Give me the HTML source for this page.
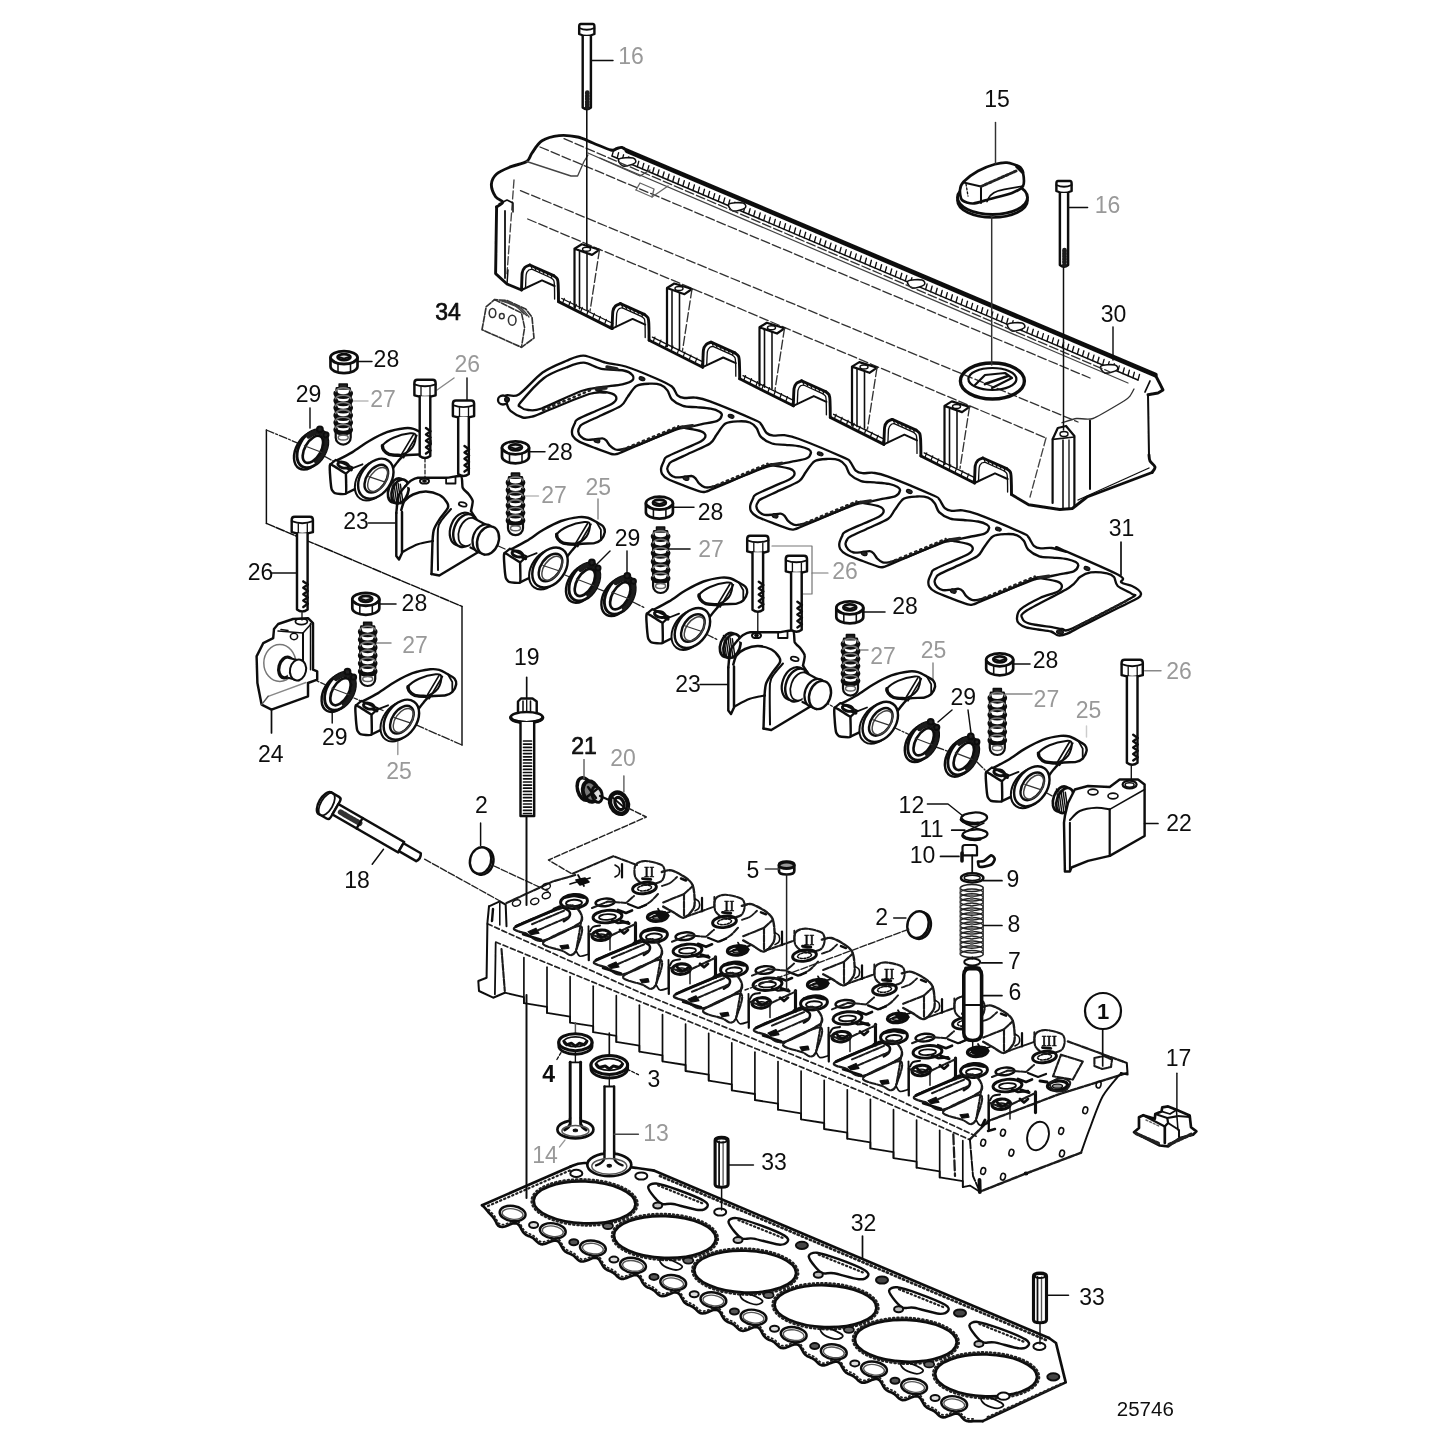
<!DOCTYPE html>
<html><head><meta charset="utf-8"><title>Cylinder head</title>
<style>html,body{margin:0;padding:0;background:#fff}svg{display:block}text{font-family:"Liberation Sans",sans-serif}</style></head>
<body>
<svg width="1445" height="1445" viewBox="0 0 1445 1445" stroke-linecap="round" stroke-linejoin="round">
<defs><filter id="bl" x="-2%" y="-2%" width="104%" height="104%"><feGaussianBlur stdDeviation="0.45"/></filter></defs><rect width="1445" height="1445" fill="#fff"/>
<g filter="url(#bl)">
<path d="M628.6 151.7 C627.5 151 623.9 148 622 147.5 C620.1 147 618.9 148.1 617 148.5 C615.1 148.9 614.9 150.9 610.9 150 C606.9 149.1 598.5 145.2 593 143 C587.5 140.8 583.3 138.2 577.6 137 C571.9 135.8 564.9 135 559 135.6 C553.1 136.2 546.5 137.9 542 140.8 C537.5 143.7 534.5 149.6 532 153 C529.5 156.4 530.2 159.2 526.7 161.5 C523.2 163.8 516 164.6 511 166.7 C506 168.8 499.9 171.1 496.6 174 C493.3 176.9 491.6 180.6 491.4 184.4 C491.2 188.2 493.7 193.9 495.6 196.8 C497.5 199.7 502.6 200.3 502.8 202 C503 203.7 497.6 206.2 496.6 207" fill="none" stroke="#111" stroke-width="2.91"/>
<path d="M496.6 207 L495.6 273.6 L507 284 L521.5 290" fill="none" stroke="#111" stroke-width="2.91"/>
<path d="M627 150.8 L1155.3 375" fill="none" stroke="#111" stroke-width="4.7"/>
<path d="M1155.3 375 L1160 384 L1163 390 L1158 393 L1148 394.7" fill="none" stroke="#111" stroke-width="2.91"/>
<path d="M1150 381 L1145 392" fill="none" stroke="#111" stroke-width="1.79"/>
<path d="M612 156 L1138 380" fill="none" stroke="#111" stroke-width="1.46"/>
<path d="M612 156 L613.5 150.5" fill="none" stroke="#111" stroke-width="1.34"/>
<path d="M617.1 158.2 L618.6 152.7" fill="none" stroke="#111" stroke-width="1.34"/>
<path d="M622.1 160.3 L623.6 154.8" fill="none" stroke="#111" stroke-width="1.34"/>
<path d="M627.2 162.5 L628.7 157" fill="none" stroke="#111" stroke-width="1.34"/>
<path d="M632.2 164.6 L633.7 159.1" fill="none" stroke="#111" stroke-width="1.34"/>
<path d="M637.3 166.8 L638.8 161.3" fill="none" stroke="#111" stroke-width="1.34"/>
<path d="M642.3 168.9 L643.8 163.4" fill="none" stroke="#111" stroke-width="1.34"/>
<path d="M647.4 171.1 L648.9 165.6" fill="none" stroke="#111" stroke-width="1.34"/>
<path d="M652.5 173.2 L654 167.7" fill="none" stroke="#111" stroke-width="1.34"/>
<path d="M657.5 175.4 L659 169.9" fill="none" stroke="#111" stroke-width="1.34"/>
<path d="M662.6 177.5 L664.1 172" fill="none" stroke="#111" stroke-width="1.34"/>
<path d="M667.6 179.7 L669.1 174.2" fill="none" stroke="#111" stroke-width="1.34"/>
<path d="M672.7 181.8 L674.2 176.3" fill="none" stroke="#111" stroke-width="1.34"/>
<path d="M677.8 184 L679.2 178.5" fill="none" stroke="#111" stroke-width="1.34"/>
<path d="M682.8 186.2 L684.3 180.7" fill="none" stroke="#111" stroke-width="1.34"/>
<path d="M687.9 188.3 L689.4 182.8" fill="none" stroke="#111" stroke-width="1.34"/>
<path d="M692.9 190.5 L694.4 185" fill="none" stroke="#111" stroke-width="1.34"/>
<path d="M698 192.6 L699.5 187.1" fill="none" stroke="#111" stroke-width="1.34"/>
<path d="M703 194.8 L704.5 189.3" fill="none" stroke="#111" stroke-width="1.34"/>
<path d="M708.1 196.9 L709.6 191.4" fill="none" stroke="#111" stroke-width="1.34"/>
<path d="M713.2 199.1 L714.7 193.6" fill="none" stroke="#111" stroke-width="1.34"/>
<path d="M718.2 201.2 L719.7 195.7" fill="none" stroke="#111" stroke-width="1.34"/>
<path d="M723.3 203.4 L724.8 197.9" fill="none" stroke="#111" stroke-width="1.34"/>
<path d="M728.3 205.5 L729.8 200" fill="none" stroke="#111" stroke-width="1.34"/>
<path d="M733.4 207.7 L734.9 202.2" fill="none" stroke="#111" stroke-width="1.34"/>
<path d="M738.4 209.8 L739.9 204.3" fill="none" stroke="#111" stroke-width="1.34"/>
<path d="M743.5 212 L745 206.5" fill="none" stroke="#111" stroke-width="1.34"/>
<path d="M748.6 214.2 L750.1 208.7" fill="none" stroke="#111" stroke-width="1.34"/>
<path d="M753.6 216.3 L755.1 210.8" fill="none" stroke="#111" stroke-width="1.34"/>
<path d="M758.7 218.5 L760.2 213" fill="none" stroke="#111" stroke-width="1.34"/>
<path d="M763.7 220.6 L765.2 215.1" fill="none" stroke="#111" stroke-width="1.34"/>
<path d="M768.8 222.8 L770.3 217.3" fill="none" stroke="#111" stroke-width="1.34"/>
<path d="M773.8 224.9 L775.3 219.4" fill="none" stroke="#111" stroke-width="1.34"/>
<path d="M778.9 227.1 L780.4 221.6" fill="none" stroke="#111" stroke-width="1.34"/>
<path d="M784 229.2 L785.5 223.7" fill="none" stroke="#111" stroke-width="1.34"/>
<path d="M789 231.4 L790.5 225.9" fill="none" stroke="#111" stroke-width="1.34"/>
<path d="M794.1 233.5 L795.6 228" fill="none" stroke="#111" stroke-width="1.34"/>
<path d="M799.1 235.7 L800.6 230.2" fill="none" stroke="#111" stroke-width="1.34"/>
<path d="M804.2 237.8 L805.7 232.3" fill="none" stroke="#111" stroke-width="1.34"/>
<path d="M809.2 240 L810.8 234.5" fill="none" stroke="#111" stroke-width="1.34"/>
<path d="M814.3 242.2 L815.8 236.7" fill="none" stroke="#111" stroke-width="1.34"/>
<path d="M819.4 244.3 L820.9 238.8" fill="none" stroke="#111" stroke-width="1.34"/>
<path d="M824.4 246.5 L825.9 241" fill="none" stroke="#111" stroke-width="1.34"/>
<path d="M829.5 248.6 L831 243.1" fill="none" stroke="#111" stroke-width="1.34"/>
<path d="M834.5 250.8 L836 245.3" fill="none" stroke="#111" stroke-width="1.34"/>
<path d="M839.6 252.9 L841.1 247.4" fill="none" stroke="#111" stroke-width="1.34"/>
<path d="M844.7 255.1 L846.2 249.6" fill="none" stroke="#111" stroke-width="1.34"/>
<path d="M849.7 257.2 L851.2 251.7" fill="none" stroke="#111" stroke-width="1.34"/>
<path d="M854.8 259.4 L856.3 253.9" fill="none" stroke="#111" stroke-width="1.34"/>
<path d="M859.8 261.5 L861.3 256" fill="none" stroke="#111" stroke-width="1.34"/>
<path d="M864.9 263.7 L866.4 258.2" fill="none" stroke="#111" stroke-width="1.34"/>
<path d="M869.9 265.8 L871.4 260.3" fill="none" stroke="#111" stroke-width="1.34"/>
<path d="M875 268 L876.5 262.5" fill="none" stroke="#111" stroke-width="1.34"/>
<path d="M880.1 270.2 L881.6 264.7" fill="none" stroke="#111" stroke-width="1.34"/>
<path d="M885.1 272.3 L886.6 266.8" fill="none" stroke="#111" stroke-width="1.34"/>
<path d="M890.2 274.5 L891.7 269" fill="none" stroke="#111" stroke-width="1.34"/>
<path d="M895.2 276.6 L896.7 271.1" fill="none" stroke="#111" stroke-width="1.34"/>
<path d="M900.3 278.8 L901.8 273.3" fill="none" stroke="#111" stroke-width="1.34"/>
<path d="M905.3 280.9 L906.8 275.4" fill="none" stroke="#111" stroke-width="1.34"/>
<path d="M910.4 283.1 L911.9 277.6" fill="none" stroke="#111" stroke-width="1.34"/>
<path d="M915.5 285.2 L917 279.7" fill="none" stroke="#111" stroke-width="1.34"/>
<path d="M920.5 287.4 L922 281.9" fill="none" stroke="#111" stroke-width="1.34"/>
<path d="M925.6 289.5 L927.1 284" fill="none" stroke="#111" stroke-width="1.34"/>
<path d="M930.6 291.7 L932.1 286.2" fill="none" stroke="#111" stroke-width="1.34"/>
<path d="M935.7 293.8 L937.2 288.3" fill="none" stroke="#111" stroke-width="1.34"/>
<path d="M940.8 296 L942.2 290.5" fill="none" stroke="#111" stroke-width="1.34"/>
<path d="M945.8 298.2 L947.3 292.7" fill="none" stroke="#111" stroke-width="1.34"/>
<path d="M950.9 300.3 L952.4 294.8" fill="none" stroke="#111" stroke-width="1.34"/>
<path d="M955.9 302.5 L957.4 297" fill="none" stroke="#111" stroke-width="1.34"/>
<path d="M961 304.6 L962.5 299.1" fill="none" stroke="#111" stroke-width="1.34"/>
<path d="M966 306.8 L967.5 301.3" fill="none" stroke="#111" stroke-width="1.34"/>
<path d="M971.1 308.9 L972.6 303.4" fill="none" stroke="#111" stroke-width="1.34"/>
<path d="M976.2 311.1 L977.7 305.6" fill="none" stroke="#111" stroke-width="1.34"/>
<path d="M981.2 313.2 L982.7 307.7" fill="none" stroke="#111" stroke-width="1.34"/>
<path d="M986.3 315.4 L987.8 309.9" fill="none" stroke="#111" stroke-width="1.34"/>
<path d="M991.3 317.5 L992.8 312" fill="none" stroke="#111" stroke-width="1.34"/>
<path d="M996.4 319.7 L997.9 314.2" fill="none" stroke="#111" stroke-width="1.34"/>
<path d="M1001.4 321.8 L1002.9 316.3" fill="none" stroke="#111" stroke-width="1.34"/>
<path d="M1006.5 324 L1008 318.5" fill="none" stroke="#111" stroke-width="1.34"/>
<path d="M1011.6 326.2 L1013.1 320.7" fill="none" stroke="#111" stroke-width="1.34"/>
<path d="M1016.6 328.3 L1018.1 322.8" fill="none" stroke="#111" stroke-width="1.34"/>
<path d="M1021.7 330.5 L1023.2 325" fill="none" stroke="#111" stroke-width="1.34"/>
<path d="M1026.7 332.6 L1028.2 327.1" fill="none" stroke="#111" stroke-width="1.34"/>
<path d="M1031.8 334.8 L1033.3 329.3" fill="none" stroke="#111" stroke-width="1.34"/>
<path d="M1036.8 336.9 L1038.3 331.4" fill="none" stroke="#111" stroke-width="1.34"/>
<path d="M1041.9 339.1 L1043.4 333.6" fill="none" stroke="#111" stroke-width="1.34"/>
<path d="M1047 341.2 L1048.5 335.7" fill="none" stroke="#111" stroke-width="1.34"/>
<path d="M1052 343.4 L1053.5 337.9" fill="none" stroke="#111" stroke-width="1.34"/>
<path d="M1057.1 345.5 L1058.6 340" fill="none" stroke="#111" stroke-width="1.34"/>
<path d="M1062.1 347.7 L1063.6 342.2" fill="none" stroke="#111" stroke-width="1.34"/>
<path d="M1067.2 349.8 L1068.7 344.3" fill="none" stroke="#111" stroke-width="1.34"/>
<path d="M1072.2 352 L1073.8 346.5" fill="none" stroke="#111" stroke-width="1.34"/>
<path d="M1077.3 354.2 L1078.8 348.7" fill="none" stroke="#111" stroke-width="1.34"/>
<path d="M1082.4 356.3 L1083.9 350.8" fill="none" stroke="#111" stroke-width="1.34"/>
<path d="M1087.4 358.5 L1088.9 353" fill="none" stroke="#111" stroke-width="1.34"/>
<path d="M1092.5 360.6 L1094 355.1" fill="none" stroke="#111" stroke-width="1.34"/>
<path d="M1097.5 362.8 L1099 357.3" fill="none" stroke="#111" stroke-width="1.34"/>
<path d="M1102.6 364.9 L1104.1 359.4" fill="none" stroke="#111" stroke-width="1.34"/>
<path d="M1107.7 367.1 L1109.2 361.6" fill="none" stroke="#111" stroke-width="1.34"/>
<path d="M1112.7 369.2 L1114.2 363.7" fill="none" stroke="#111" stroke-width="1.34"/>
<path d="M1117.8 371.4 L1119.3 365.9" fill="none" stroke="#111" stroke-width="1.34"/>
<path d="M1122.8 373.5 L1124.3 368" fill="none" stroke="#111" stroke-width="1.34"/>
<path d="M1127.9 375.7 L1129.4 370.2" fill="none" stroke="#111" stroke-width="1.34"/>
<path d="M1132.9 377.8 L1134.4 372.3" fill="none" stroke="#111" stroke-width="1.34"/>
<path d="M1138 380 L1139.5 374.5" fill="none" stroke="#111" stroke-width="1.34"/>
<path d="M600 158 L1128 383" fill="none" stroke="#444" stroke-width="1.23"/>
<path d="M619 159 C620.7 157.7 630.3 157.3 633 158 C635.7 158.7 636.7 161.7 635 163 C633.3 164.3 625.7 166.7 623 166 C620.3 165.3 617.3 160.3 619 159 Z" fill="#fff" stroke="#111" stroke-width="1.57"/>
<path d="M729 204 C730.7 202.7 740.3 202.3 743 203 C745.7 203.7 746.7 206.7 745 208 C743.3 209.3 735.7 211.7 733 211 C730.3 210.3 727.3 205.3 729 204 Z" fill="#fff" stroke="#111" stroke-width="1.57"/>
<path d="M908 281 C909.7 279.7 919.3 279.3 922 280 C924.7 280.7 925.7 283.7 924 285 C922.3 286.3 914.7 288.7 912 288 C909.3 287.3 906.3 282.3 908 281 Z" fill="#fff" stroke="#111" stroke-width="1.57"/>
<path d="M1008 324 C1009.7 322.7 1019.3 322.3 1022 323 C1024.7 323.7 1025.7 326.7 1024 328 C1022.3 329.3 1014.7 331.7 1012 331 C1009.3 330.3 1006.3 325.3 1008 324 Z" fill="#fff" stroke="#111" stroke-width="1.57"/>
<path d="M1101 366 C1102.7 364.7 1112.3 364.3 1115 365 C1117.7 365.7 1118.7 368.7 1117 370 C1115.3 371.3 1107.7 373.7 1105 373 C1102.3 372.3 1099.3 367.3 1101 366 Z" fill="#fff" stroke="#111" stroke-width="1.57"/>
<path d="M564 138.7 L1110 372" fill="none" stroke="#333" stroke-width="1.34" stroke-dasharray="9 3"/>
<path d="M540 147 L1090 378" fill="none" stroke="#333" stroke-width="1.34" stroke-dasharray="9 3"/>
<path d="M520.5 190.6 L1078 422" fill="none" stroke="#333" stroke-width="1.34" stroke-dasharray="9 3"/>
<path d="M527.7 219 L1046 438" fill="none" stroke="#333" stroke-width="1.34" stroke-dasharray="9 3"/>
<path d="M526.7 161.5 L571 176 L577.6 176 L584 161.5 L588 155" fill="none" stroke="#444" stroke-width="1.34"/>
<path d="M514 180 L507 273.6" fill="none" stroke="#444" stroke-width="1.34" stroke-dasharray="8 3"/>
<path d="M505 211 L505 278" fill="none" stroke="#111" stroke-width="1.79"/>
<path d="M499 204 L507 200 L513 203 L513 212" fill="none" stroke="#111" stroke-width="1.57"/>
<path d="M507 284 L508 270" fill="none" stroke="#111" stroke-width="1.46"/>
<path d="M588 153 L640 176 L650 170" fill="none" stroke="#444" stroke-width="1.34"/>
<path d="M636 190 L652 197 L668 186" fill="none" stroke="#666" stroke-width="1.34"/>
<path d="M636 190 L640 183 L654 189 L652 197" fill="none" stroke="#666" stroke-width="1.34"/>
<path d="M521.5 290 C521.6 288.3 521.9 275.2 522.2 273 C522.5 270.8 524 268.3 524.8 267.5 C525.6 266.7 529.3 265.2 529.8 265" fill="none" stroke="#111" stroke-width="2.91"/>
<path d="M529.8 265 L553.7 275.7" fill="none" stroke="#111" stroke-width="2.91"/>
<path d="M553.7 275.7 C554.1 276 556.8 278.1 557.3 279 C557.8 279.9 558.1 282.7 558.2 285 C558.3 287.3 558.5 299.9 558.5 301.6" fill="none" stroke="#111" stroke-width="2.91"/>
<path d="M558.5 301.6 L612.1 328.6" fill="none" stroke="#111" stroke-width="2.91"/>
<path d="M561.8 298.5 L612.8 323.5" fill="none" stroke="#111" stroke-width="1.34"/>
<path d="M562.8 302.5 L564.3 298.5" fill="none" stroke="#111" stroke-width="1.23"/>
<path d="M568.8 305.5 L570.3 301.5" fill="none" stroke="#111" stroke-width="1.23"/>
<path d="M574.8 308.5 L576.3 304.5" fill="none" stroke="#111" stroke-width="1.23"/>
<path d="M580.8 311.5 L582.3 307.5" fill="none" stroke="#111" stroke-width="1.23"/>
<path d="M586.8 314.5 L588.3 310.5" fill="none" stroke="#111" stroke-width="1.23"/>
<path d="M592.8 317.5 L594.3 313.5" fill="none" stroke="#111" stroke-width="1.23"/>
<path d="M598.8 320.5 L600.3 316.5" fill="none" stroke="#111" stroke-width="1.23"/>
<path d="M604.8 323.5 L606.3 319.5" fill="none" stroke="#111" stroke-width="1.23"/>
<path d="M610.8 326.5 L612.3 322.5" fill="none" stroke="#111" stroke-width="1.23"/>
<path d="M525.5 288 C525.6 286.6 525.9 276.3 526.2 274.5 C526.5 272.7 528.2 270.5 528.8 270 C529.4 269.5 531.5 269.3 531.8 269.2" fill="none" stroke="#111" stroke-width="1.34"/>
<path d="M531.8 269.2 L551.3 278" fill="none" stroke="#111" stroke-width="1.34"/>
<path d="M551.3 278 C551.5 278.2 553.5 279.8 553.8 280.5 C554.1 281.2 554.3 283.1 554.4 285 C554.5 286.9 554.6 297.6 554.6 299" fill="none" stroke="#111" stroke-width="1.34"/>
<path d="M531.8 268.2 L530.8 265.6" fill="none" stroke="#111" stroke-width="1.23"/>
<path d="M535.8 270 L534.8 267.4" fill="none" stroke="#111" stroke-width="1.23"/>
<path d="M539.8 271.8 L538.8 269.2" fill="none" stroke="#111" stroke-width="1.23"/>
<path d="M543.8 273.6 L542.8 271" fill="none" stroke="#111" stroke-width="1.23"/>
<path d="M547.8 275.4 L546.8 272.8" fill="none" stroke="#111" stroke-width="1.23"/>
<path d="M551.8 277.2 L550.8 274.6" fill="none" stroke="#111" stroke-width="1.23"/>
<path d="M521.5 290 L542 280.3 L554.6 286" fill="none" stroke="#111" stroke-width="2.02"/>
<path d="M612.1 328.6 C612.2 326.9 612.5 313.9 612.8 311.6 C613.1 309.4 614.6 306.9 615.4 306.1 C616.2 305.3 619.9 303.9 620.4 303.6" fill="none" stroke="#111" stroke-width="2.91"/>
<path d="M620.4 303.6 L644.3 314.3" fill="none" stroke="#111" stroke-width="2.91"/>
<path d="M644.3 314.3 C644.7 314.6 647.4 316.7 647.9 317.6 C648.4 318.5 648.7 321.3 648.8 323.6 C648.9 325.9 649.1 338.5 649.1 340.2" fill="none" stroke="#111" stroke-width="2.91"/>
<path d="M649.1 340.2 L702.7 367.2" fill="none" stroke="#111" stroke-width="2.91"/>
<path d="M652.4 337.1 L703.4 362.1" fill="none" stroke="#111" stroke-width="1.34"/>
<path d="M653.4 341.1 L654.9 337.1" fill="none" stroke="#111" stroke-width="1.23"/>
<path d="M659.4 344.1 L660.9 340.1" fill="none" stroke="#111" stroke-width="1.23"/>
<path d="M665.4 347.1 L666.9 343.1" fill="none" stroke="#111" stroke-width="1.23"/>
<path d="M671.4 350.1 L672.9 346.1" fill="none" stroke="#111" stroke-width="1.23"/>
<path d="M677.4 353.1 L678.9 349.1" fill="none" stroke="#111" stroke-width="1.23"/>
<path d="M683.4 356.1 L684.9 352.1" fill="none" stroke="#111" stroke-width="1.23"/>
<path d="M689.4 359.1 L690.9 355.1" fill="none" stroke="#111" stroke-width="1.23"/>
<path d="M695.4 362.1 L696.9 358.1" fill="none" stroke="#111" stroke-width="1.23"/>
<path d="M701.4 365.1 L702.9 361.1" fill="none" stroke="#111" stroke-width="1.23"/>
<path d="M616.1 326.6 C616.2 325.2 616.5 314.9 616.8 313.1 C617.1 311.3 618.8 309.1 619.4 308.6 C620 308.1 622.1 307.9 622.4 307.8" fill="none" stroke="#111" stroke-width="1.34"/>
<path d="M622.4 307.8 L641.9 316.6" fill="none" stroke="#111" stroke-width="1.34"/>
<path d="M641.9 316.6 C642.1 316.9 644.1 318.4 644.4 319.1 C644.7 319.8 644.9 321.8 645 323.6 C645.1 325.5 645.2 336.2 645.2 337.6" fill="none" stroke="#111" stroke-width="1.34"/>
<path d="M622.4 306.8 L621.4 304.2" fill="none" stroke="#111" stroke-width="1.23"/>
<path d="M626.4 308.6 L625.4 306" fill="none" stroke="#111" stroke-width="1.23"/>
<path d="M630.4 310.4 L629.4 307.8" fill="none" stroke="#111" stroke-width="1.23"/>
<path d="M634.4 312.2 L633.4 309.6" fill="none" stroke="#111" stroke-width="1.23"/>
<path d="M638.4 314 L637.4 311.4" fill="none" stroke="#111" stroke-width="1.23"/>
<path d="M642.4 315.8 L641.4 313.2" fill="none" stroke="#111" stroke-width="1.23"/>
<path d="M612.1 328.6 L632.6 318.9 L645.2 324.6" fill="none" stroke="#111" stroke-width="2.02"/>
<path d="M702.7 367.2 C702.8 365.5 703.1 352.4 703.4 350.2 C703.7 347.9 705.2 345.5 706 344.7 C706.8 343.9 710.5 342.4 711 342.2" fill="none" stroke="#111" stroke-width="2.91"/>
<path d="M711 342.2 L734.9 352.9" fill="none" stroke="#111" stroke-width="2.91"/>
<path d="M734.9 352.9 C735.3 353.2 738 355.3 738.5 356.2 C739 357.1 739.3 359.9 739.4 362.2 C739.5 364.5 739.7 377.1 739.7 378.8" fill="none" stroke="#111" stroke-width="2.91"/>
<path d="M739.7 378.8 L793.3 405.8" fill="none" stroke="#111" stroke-width="2.91"/>
<path d="M743 375.7 L794 400.7" fill="none" stroke="#111" stroke-width="1.34"/>
<path d="M744 379.7 L745.5 375.7" fill="none" stroke="#111" stroke-width="1.23"/>
<path d="M750 382.7 L751.5 378.7" fill="none" stroke="#111" stroke-width="1.23"/>
<path d="M756 385.7 L757.5 381.7" fill="none" stroke="#111" stroke-width="1.23"/>
<path d="M762 388.7 L763.5 384.7" fill="none" stroke="#111" stroke-width="1.23"/>
<path d="M768 391.7 L769.5 387.7" fill="none" stroke="#111" stroke-width="1.23"/>
<path d="M774 394.7 L775.5 390.7" fill="none" stroke="#111" stroke-width="1.23"/>
<path d="M780 397.7 L781.5 393.7" fill="none" stroke="#111" stroke-width="1.23"/>
<path d="M786 400.7 L787.5 396.7" fill="none" stroke="#111" stroke-width="1.23"/>
<path d="M792 403.7 L793.5 399.7" fill="none" stroke="#111" stroke-width="1.23"/>
<path d="M706.7 365.2 C706.8 363.8 707.1 353.5 707.4 351.7 C707.7 349.9 709.4 347.7 710 347.2 C710.6 346.7 712.7 346.5 713 346.4" fill="none" stroke="#111" stroke-width="1.34"/>
<path d="M713 346.4 L732.5 355.2" fill="none" stroke="#111" stroke-width="1.34"/>
<path d="M732.5 355.2 C732.8 355.4 734.7 357 735 357.7 C735.3 358.4 735.5 360.3 735.6 362.2 C735.7 364.1 735.8 374.8 735.8 376.2" fill="none" stroke="#111" stroke-width="1.34"/>
<path d="M713 345.4 L712 342.8" fill="none" stroke="#111" stroke-width="1.23"/>
<path d="M717 347.2 L716 344.6" fill="none" stroke="#111" stroke-width="1.23"/>
<path d="M721 349 L720 346.4" fill="none" stroke="#111" stroke-width="1.23"/>
<path d="M725 350.8 L724 348.2" fill="none" stroke="#111" stroke-width="1.23"/>
<path d="M729 352.6 L728 350" fill="none" stroke="#111" stroke-width="1.23"/>
<path d="M733 354.4 L732 351.8" fill="none" stroke="#111" stroke-width="1.23"/>
<path d="M702.7 367.2 L723.2 357.5 L735.8 363.2" fill="none" stroke="#111" stroke-width="2.02"/>
<path d="M793.3 405.8 C793.4 404.1 793.7 391.1 794 388.8 C794.3 386.6 795.8 384.1 796.6 383.3 C797.4 382.5 801.1 381.1 801.6 380.8" fill="none" stroke="#111" stroke-width="2.91"/>
<path d="M801.6 380.8 L825.5 391.5" fill="none" stroke="#111" stroke-width="2.91"/>
<path d="M825.5 391.5 C825.9 391.8 828.6 393.9 829.1 394.8 C829.5 395.7 829.9 398.5 830 400.8 C830.1 403.1 830.3 415.7 830.3 417.4" fill="none" stroke="#111" stroke-width="2.91"/>
<path d="M830.3 417.4 L883.9 444.4" fill="none" stroke="#111" stroke-width="2.91"/>
<path d="M833.6 414.3 L884.6 439.3" fill="none" stroke="#111" stroke-width="1.34"/>
<path d="M834.6 418.3 L836.1 414.3" fill="none" stroke="#111" stroke-width="1.23"/>
<path d="M840.6 421.3 L842.1 417.3" fill="none" stroke="#111" stroke-width="1.23"/>
<path d="M846.6 424.3 L848.1 420.3" fill="none" stroke="#111" stroke-width="1.23"/>
<path d="M852.6 427.3 L854.1 423.3" fill="none" stroke="#111" stroke-width="1.23"/>
<path d="M858.6 430.3 L860.1 426.3" fill="none" stroke="#111" stroke-width="1.23"/>
<path d="M864.6 433.3 L866.1 429.3" fill="none" stroke="#111" stroke-width="1.23"/>
<path d="M870.6 436.3 L872.1 432.3" fill="none" stroke="#111" stroke-width="1.23"/>
<path d="M876.6 439.3 L878.1 435.3" fill="none" stroke="#111" stroke-width="1.23"/>
<path d="M882.6 442.3 L884.1 438.3" fill="none" stroke="#111" stroke-width="1.23"/>
<path d="M797.3 403.8 C797.4 402.4 797.7 392.1 798 390.3 C798.3 388.5 800 386.3 800.6 385.8 C801.2 385.3 803.3 385.1 803.6 385" fill="none" stroke="#111" stroke-width="1.34"/>
<path d="M803.6 385 L823.1 393.8" fill="none" stroke="#111" stroke-width="1.34"/>
<path d="M823.1 393.8 C823.3 394.1 825.3 395.6 825.6 396.3 C825.9 397 826.1 398.9 826.2 400.8 C826.3 402.7 826.4 413.4 826.4 414.8" fill="none" stroke="#111" stroke-width="1.34"/>
<path d="M803.6 384 L802.6 381.4" fill="none" stroke="#111" stroke-width="1.23"/>
<path d="M807.6 385.8 L806.6 383.2" fill="none" stroke="#111" stroke-width="1.23"/>
<path d="M811.6 387.6 L810.6 385" fill="none" stroke="#111" stroke-width="1.23"/>
<path d="M815.6 389.4 L814.6 386.8" fill="none" stroke="#111" stroke-width="1.23"/>
<path d="M819.6 391.2 L818.6 388.6" fill="none" stroke="#111" stroke-width="1.23"/>
<path d="M823.6 393 L822.6 390.4" fill="none" stroke="#111" stroke-width="1.23"/>
<path d="M793.3 405.8 L813.8 396.1 L826.4 401.8" fill="none" stroke="#111" stroke-width="2.02"/>
<path d="M883.9 444.4 C884 442.7 884.3 429.6 884.6 427.4 C884.9 425.1 886.4 422.7 887.2 421.9 C888 421.1 891.7 419.6 892.2 419.4" fill="none" stroke="#111" stroke-width="2.91"/>
<path d="M892.2 419.4 L916.1 430.1" fill="none" stroke="#111" stroke-width="2.91"/>
<path d="M916.1 430.1 C916.5 430.4 919.2 432.5 919.7 433.4 C920.1 434.3 920.5 437.1 920.6 439.4 C920.7 441.7 920.9 454.3 920.9 456" fill="none" stroke="#111" stroke-width="2.91"/>
<path d="M920.9 456 L974.5 483" fill="none" stroke="#111" stroke-width="2.91"/>
<path d="M924.2 452.9 L975.2 477.9" fill="none" stroke="#111" stroke-width="1.34"/>
<path d="M925.2 456.9 L926.7 452.9" fill="none" stroke="#111" stroke-width="1.23"/>
<path d="M931.2 459.9 L932.7 455.9" fill="none" stroke="#111" stroke-width="1.23"/>
<path d="M937.2 462.9 L938.7 458.9" fill="none" stroke="#111" stroke-width="1.23"/>
<path d="M943.2 465.9 L944.7 461.9" fill="none" stroke="#111" stroke-width="1.23"/>
<path d="M949.2 468.9 L950.7 464.9" fill="none" stroke="#111" stroke-width="1.23"/>
<path d="M955.2 471.9 L956.7 467.9" fill="none" stroke="#111" stroke-width="1.23"/>
<path d="M961.2 474.9 L962.7 470.9" fill="none" stroke="#111" stroke-width="1.23"/>
<path d="M967.2 477.9 L968.7 473.9" fill="none" stroke="#111" stroke-width="1.23"/>
<path d="M973.2 480.9 L974.7 476.9" fill="none" stroke="#111" stroke-width="1.23"/>
<path d="M887.9 442.4 C888 441 888.3 430.7 888.6 428.9 C888.9 427.1 890.6 424.9 891.2 424.4 C891.8 423.9 893.9 423.7 894.2 423.6" fill="none" stroke="#111" stroke-width="1.34"/>
<path d="M894.2 423.6 L913.7 432.4" fill="none" stroke="#111" stroke-width="1.34"/>
<path d="M913.7 432.4 C913.9 432.6 915.9 434.2 916.2 434.9 C916.5 435.6 916.7 437.5 916.8 439.4 C916.9 441.2 917 452 917 453.4" fill="none" stroke="#111" stroke-width="1.34"/>
<path d="M894.2 422.6 L893.2 420" fill="none" stroke="#111" stroke-width="1.23"/>
<path d="M898.2 424.4 L897.2 421.8" fill="none" stroke="#111" stroke-width="1.23"/>
<path d="M902.2 426.2 L901.2 423.6" fill="none" stroke="#111" stroke-width="1.23"/>
<path d="M906.2 428 L905.2 425.4" fill="none" stroke="#111" stroke-width="1.23"/>
<path d="M910.2 429.8 L909.2 427.2" fill="none" stroke="#111" stroke-width="1.23"/>
<path d="M914.2 431.6 L913.2 429" fill="none" stroke="#111" stroke-width="1.23"/>
<path d="M883.9 444.4 L904.4 434.7 L917 440.4" fill="none" stroke="#111" stroke-width="2.02"/>
<path d="M974.5 483 C974.6 481.3 974.9 468.2 975.2 466 C975.5 463.8 977 461.3 977.8 460.5 C978.6 459.7 982.3 458.2 982.8 458" fill="none" stroke="#111" stroke-width="2.91"/>
<path d="M982.8 458 L1006.7 468.7" fill="none" stroke="#111" stroke-width="2.91"/>
<path d="M1006.7 468.7 C1007.1 469 1009.8 471.1 1010.3 472 C1010.8 472.9 1011.1 475.7 1011.2 478 C1011.3 480.3 1011.5 492.9 1011.5 494.6" fill="none" stroke="#111" stroke-width="2.91"/>
<path d="M978.5 481 C978.6 479.6 978.9 469.3 979.2 467.5 C979.5 465.7 981.2 463.5 981.8 463 C982.4 462.5 984.5 462.3 984.8 462.2" fill="none" stroke="#111" stroke-width="1.34"/>
<path d="M984.8 462.2 L1004.3 471" fill="none" stroke="#111" stroke-width="1.34"/>
<path d="M1004.3 471 C1004.5 471.2 1006.5 472.8 1006.8 473.5 C1007.1 474.2 1007.3 476.1 1007.4 478 C1007.5 479.9 1007.6 490.6 1007.6 492" fill="none" stroke="#111" stroke-width="1.34"/>
<path d="M984.8 461.2 L983.8 458.6" fill="none" stroke="#111" stroke-width="1.23"/>
<path d="M988.8 463 L987.8 460.4" fill="none" stroke="#111" stroke-width="1.23"/>
<path d="M992.8 464.8 L991.8 462.2" fill="none" stroke="#111" stroke-width="1.23"/>
<path d="M996.8 466.6 L995.8 464" fill="none" stroke="#111" stroke-width="1.23"/>
<path d="M1000.8 468.4 L999.8 465.8" fill="none" stroke="#111" stroke-width="1.23"/>
<path d="M1004.8 470.2 L1003.8 467.6" fill="none" stroke="#111" stroke-width="1.23"/>
<path d="M974.5 483 L995 473.3 L1007.6 479" fill="none" stroke="#111" stroke-width="2.02"/>
<path d="M1011.5 494.6 L1028.7 504.7 L1059.8 509.5 L1072.3 508.5 L1087 497 L1152 472.5" fill="none" stroke="#111" stroke-width="2.91"/>
<path d="M1152 472.5 C1152.5 471.6 1155.3 468.9 1155 467 C1154.7 465.1 1151 463 1150 461 C1149 459 1149.2 456 1149 455" fill="none" stroke="#111" stroke-width="2.91"/>
<path d="M1149 455 L1148 394.7" fill="none" stroke="#111" stroke-width="2.02"/>
<path d="M1078 500 L1149 468" fill="none" stroke="#111" stroke-width="1.34"/>
<path d="M1090 420.6 L1090 489" fill="none" stroke="#111" stroke-width="2.02"/>
<path d="M1134 389 C1133.6 389.7 1131 394.8 1130 396 C1129 397.2 1127.7 398.8 1124 401 C1120.3 403.2 1097.8 416.8 1093 418.5 C1088.2 420.2 1079.6 418.1 1076.5 418.5 C1073.4 418.9 1063.5 422.3 1062 422.7" fill="none" stroke="#333" stroke-width="1.34"/>
<path d="M1046 438 L1030 497" fill="none" stroke="#444" stroke-width="1.34" stroke-dasharray="8 3"/>
<path d="M574.5 307 L574.5 248.7 L581.8 244.2 L599.5 249.7 L592 254.9 L574.5 248.7" fill="none" stroke="#111" stroke-width="2.24"/>
<path d="M579.5 251.7 L579.5 308.7" fill="none" stroke="#111" stroke-width="1.57"/>
<path d="M587 253.7 L587 310.2" fill="none" stroke="#111" stroke-width="1.57"/>
<path d="M599.5 249.7 L590 311.2" fill="none" stroke="#333" stroke-width="1.34" stroke-dasharray="9 3"/>
<ellipse cx="586.5" cy="249.2" rx="4" ry="2" fill="none" stroke="#111" stroke-width="1.46"/>
<path d="M667 346.3 L667 288 L674.3 283.5 L692 289 L684.5 294.2 L667 288" fill="none" stroke="#111" stroke-width="2.24"/>
<path d="M672 291 L672 348" fill="none" stroke="#111" stroke-width="1.57"/>
<path d="M679.5 293 L679.5 349.5" fill="none" stroke="#111" stroke-width="1.57"/>
<path d="M692 289 L682.5 350.5" fill="none" stroke="#333" stroke-width="1.34" stroke-dasharray="9 3"/>
<ellipse cx="679" cy="288.5" rx="4" ry="2" fill="none" stroke="#111" stroke-width="1.46"/>
<path d="M759.5 385.6 L759.5 327.3 L766.8 322.8 L784.5 328.3 L777 333.5 L759.5 327.3" fill="none" stroke="#111" stroke-width="2.24"/>
<path d="M764.5 330.3 L764.5 387.3" fill="none" stroke="#111" stroke-width="1.57"/>
<path d="M772 332.3 L772 388.8" fill="none" stroke="#111" stroke-width="1.57"/>
<path d="M784.5 328.3 L775 389.8" fill="none" stroke="#333" stroke-width="1.34" stroke-dasharray="9 3"/>
<ellipse cx="771.5" cy="327.8" rx="4" ry="2" fill="none" stroke="#111" stroke-width="1.46"/>
<path d="M852 424.9 L852 366.6 L859.3 362.1 L877 367.6 L869.5 372.8 L852 366.6" fill="none" stroke="#111" stroke-width="2.24"/>
<path d="M857 369.6 L857 426.6" fill="none" stroke="#111" stroke-width="1.57"/>
<path d="M864.5 371.6 L864.5 428.1" fill="none" stroke="#111" stroke-width="1.57"/>
<path d="M877 367.6 L867.5 429.1" fill="none" stroke="#333" stroke-width="1.34" stroke-dasharray="9 3"/>
<ellipse cx="864" cy="367.1" rx="4" ry="2" fill="none" stroke="#111" stroke-width="1.46"/>
<path d="M944.5 464.2 L944.5 405.9 L951.8 401.4 L969.5 406.9 L962 412.1 L944.5 405.9" fill="none" stroke="#111" stroke-width="2.24"/>
<path d="M949.5 408.9 L949.5 465.9" fill="none" stroke="#111" stroke-width="1.57"/>
<path d="M957 410.9 L957 467.4" fill="none" stroke="#111" stroke-width="1.57"/>
<path d="M969.5 406.9 L960 468.4" fill="none" stroke="#333" stroke-width="1.34" stroke-dasharray="9 3"/>
<ellipse cx="956.5" cy="406.4" rx="4" ry="2" fill="none" stroke="#111" stroke-width="1.46"/>
<path d="M1052.6 503 L1052.6 439.3 L1057.8 428 L1066 426 L1074.4 436 L1074.4 506" fill="none" stroke="#111" stroke-width="2.24"/>
<path d="M1052.6 439.3 L1074.4 437" fill="none" stroke="#111" stroke-width="1.68"/>
<path d="M1063 440 L1063 508" fill="none" stroke="#111" stroke-width="1.57"/>
<path d="M1069 440 L1069 508" fill="none" stroke="#111" stroke-width="1.34"/>
<ellipse cx="1064" cy="434" rx="4" ry="2.5" fill="none" stroke="#111" stroke-width="1.46"/>
<ellipse cx="992.4" cy="381" rx="32" ry="18" fill="none" stroke="#111" stroke-width="3.36"/>
<ellipse cx="992.4" cy="379" rx="24" ry="11" fill="none" stroke="#111" stroke-width="2.24"/>
<path d="M975 385 L985 375 L1005 373 L1012 378 L992 388" fill="none" stroke="#111" stroke-width="2.24"/>
<path d="M985 384 L1008 376" fill="none" stroke="#111" stroke-width="2.8"/>
<path d="M506 395.5 C507.7 394 513.3 397.9 518.8 394.5 C524.3 391.1 535.5 377.5 542.6 372.5 C549.7 367.5 559.9 363.5 566 361 C572.1 358.5 577.6 355.3 583.6 355.6 C589.6 355.9 599.4 361.1 605.7 362.7 C612 364.3 618.1 364.1 625.7 366.5 C633.3 368.9 649.2 375.5 656.1 378.5 C663 381.5 668.7 384 671.9 386.5 C675.1 389 675.6 393.7 677.5 395.4 C679.4 397.1 681.7 397.7 684.4 398 C687.1 398.3 691.4 397.1 695.2 397.6 C699 398.1 701 398 710 401.4 C719 404.8 747.8 416.9 755.4 420.3 C763 423.7 759.3 422.2 761 424.1 C762.7 426 764.7 431.3 766.6 433 C768.5 434.7 770.8 435.3 773.5 435.6 C776.2 435.9 780.5 434.7 784.3 435.2 C788.1 435.7 790.1 435.6 799.1 439 C808.1 442.4 836.9 454.5 844.5 457.9 C852.1 461.3 848.4 459.8 850.1 461.7 C851.8 463.6 853.8 468.9 855.7 470.6 C857.6 472.3 859.9 472.9 862.6 473.2 C865.3 473.5 869.6 472.3 873.4 472.8 C877.2 473.3 879.2 473.2 888.2 476.6 C897.2 480 925.9 492.1 933.6 495.5 C941.2 498.9 937.5 497.4 939.2 499.3 C940.9 501.2 942.9 506.5 944.8 508.2 C946.7 509.9 949 510.5 951.7 510.8 C954.4 511.1 958.7 509.9 962.5 510.4 C966.3 510.9 968.3 510.8 977.3 514.2 C986.3 517.6 1015 529.7 1022.7 533.1 C1030.3 536.5 1026.6 535 1028.3 536.9 C1030 538.8 1032 544.1 1033.9 545.8 C1035.8 547.5 1038.1 548.1 1040.8 548.4 C1043.5 548.7 1047.8 547.5 1051.6 548 C1055.4 548.5 1065.4 551.8 1066.4 551.8 C1067.4 551.8 1050.5 544.5 1058.3 548 C1066.1 551.5 1109.1 569.9 1118.6 575 C1128 580.1 1119.3 580.6 1121.3 582.3 C1123.3 583.9 1129.4 584.8 1132 586 C1134.6 587.2 1137.2 588.8 1138.5 590 C1139.8 591.2 1141.1 592.8 1141 594 C1140.9 595.2 1141.2 596 1138 598 C1134.8 600 1125.7 604.1 1120 607 C1114.3 609.9 1106 614 1100 617 C1094 620 1084.9 624.5 1080 627 C1075.1 629.5 1070.6 632.3 1067.3 633.6 C1064 634.9 1060.7 635.7 1058.3 635.4 C1055.9 635.1 1054 632.4 1051 631.5 C1048 630.6 1041.8 630.1 1038 629.5 C1034.2 628.9 1028.8 628.2 1026 627.3 C1023.1 626.4 1020.4 624.9 1019 623.5 C1017.6 622.1 1016.8 620.4 1017 618.3 C1017.2 616.2 1017 612.3 1020.5 609.3 C1024 606.3 1034.5 600.6 1040 598 C1045.5 595.4 1054.2 593.5 1057.5 591.7 C1060.8 589.9 1061.9 587.7 1061.9 586.2 C1061.9 584.7 1060.5 582.9 1057.5 581.7 C1054.5 580.5 1045.1 579 1042 578.4 C1038.9 577.8 1040.9 576.3 1037.1 577.4 C1033.3 578.5 1022.8 583.4 1016.8 586 C1010.8 588.6 1002.5 592.2 996.8 594.6 C991.1 597 982.3 600.7 978.8 602.2 C975.3 603.7 974.9 604.1 973.3 604.4 C971.6 604.7 971 605.3 967.8 604.4 C964.6 603.5 956.7 600.5 951.8 598.6 C946.9 596.7 938.6 593.6 935.2 591.8 C931.8 590 930.3 588.3 929.3 586.6 C928.3 584.9 928.2 582.7 928.5 580.7 C928.8 578.8 930.5 575.3 931.3 573.6 C932.1 571.9 930.9 571.5 934.1 569.6 C937.3 567.7 947.7 563.4 952.8 561.1 C957.9 558.8 965.4 556 968.4 554.1 C971.4 552.2 972.8 550.1 972.8 548.6 C972.8 547.1 971.4 545.3 968.4 544.1 C965.4 542.9 956 541.4 952.9 540.8 C949.8 540.2 951.8 538.7 948 539.8 C944.2 540.9 933.7 545.8 927.7 548.4 C921.7 551 913.4 554.6 907.7 557 C902 559.4 893.2 563.1 889.7 564.6 C886.2 566.1 885.8 566.5 884.2 566.8 C882.5 567.1 881.9 567.7 878.7 566.8 C875.5 565.9 867.6 562.9 862.7 561 C857.8 559.1 849.5 556 846.1 554.2 C842.7 552.4 841.2 550.7 840.2 549 C839.2 547.3 839.1 545.1 839.4 543.1 C839.7 541.1 841.4 537.7 842.2 536 C843 534.3 841.8 533.9 845 532 C848.2 530.1 858.6 525.8 863.7 523.5 C868.8 521.2 876.3 518.4 879.3 516.5 C882.3 514.6 883.7 512.5 883.7 511 C883.7 509.5 882.3 507.7 879.3 506.5 C876.3 505.3 866.9 503.8 863.8 503.2 C860.7 502.6 862.7 501.1 858.9 502.2 C855.1 503.3 844.6 508.2 838.6 510.8 C832.6 513.4 824.3 517 818.6 519.4 C812.9 521.8 804.1 525.5 800.6 527 C797.1 528.5 796.7 528.9 795.1 529.2 C793.4 529.5 792.8 530.1 789.6 529.2 C786.4 528.3 778.5 525.3 773.6 523.4 C768.7 521.5 760.4 518.4 757 516.6 C753.6 514.8 752.1 513.1 751.1 511.4 C750.1 509.7 750 507.4 750.3 505.5 C750.6 503.6 752.3 500.1 753.1 498.4 C753.9 496.7 752.7 496.3 755.9 494.4 C759.1 492.5 769.5 488.2 774.6 485.9 C779.7 483.6 787.2 480.8 790.2 478.9 C793.2 477 794.6 474.9 794.6 473.4 C794.6 471.9 793.2 470.1 790.2 468.9 C787.2 467.7 777.8 466.2 774.7 465.6 C771.6 465 773.6 463.5 769.8 464.6 C766 465.7 755.5 470.6 749.5 473.2 C743.5 475.8 735.2 479.4 729.5 481.8 C723.8 484.2 715 487.9 711.5 489.4 C708 490.9 707.6 491.3 706 491.6 C704.4 491.9 703.7 492.5 700.5 491.6 C697.3 490.7 689.4 487.7 684.5 485.8 C679.6 483.9 671.3 480.8 667.9 479 C664.5 477.2 663 475.5 662 473.8 C661 472.1 660.9 469.9 661.2 467.9 C661.5 466 663.2 462.5 664 460.8 C664.8 459.1 663.6 458.7 666.8 456.8 C670 454.9 680.4 450.6 685.5 448.3 C690.6 446 698.1 443.2 701.1 441.3 C704.1 439.4 705.5 437.3 705.5 435.8 C705.5 434.3 704.1 432.5 701.1 431.3 C698.1 430.1 688.7 428.6 685.6 428 C682.5 427.4 684.5 425.9 680.7 427 C676.9 428.1 666.4 433 660.4 435.6 C654.4 438.2 646.1 441.8 640.4 444.2 C634.7 446.6 625.9 450.3 622.4 451.8 C618.9 453.3 618.5 453.7 616.9 454 C615.2 454.3 614.6 454.9 611.4 454 C608.2 453.1 600.3 450.1 595.4 448.2 C590.5 446.3 582.2 443.2 578.8 441.4 C575.4 439.6 573.9 437.9 572.9 436.2 C571.9 434.5 571.8 432.2 572.1 430.3 C572.4 428.4 574.1 424.9 574.9 423.2 C575.7 421.5 574.5 421.1 577.7 419.2 C580.9 417.3 591.3 413 596.4 410.7 C601.5 408.4 609 405.6 612 403.7 C615 401.8 616.4 399.7 616.4 398.2 C616.4 396.7 615 394.9 612 393.7 C609 392.5 597.4 390.6 596.5 390.4 C595.6 390.2 606.8 392.1 605.7 392.6 C604.6 393.1 598.4 391.1 589.1 394 C579.8 396.9 552.2 408.8 543.7 412.2 C535.2 415.6 535.9 415.7 532.7 416.5 C529.6 417.3 526 418.4 522.7 417.5 C519.4 416.6 512.8 412.7 510.5 410.8 C508.2 408.9 507.9 407.1 507.2 404.8 C506.5 402.5 504.3 397 506 395.5 Z" fill="none" stroke="#111" stroke-width="2.35"/>
<ellipse cx="503" cy="400" rx="5" ry="4.5" fill="#fff" stroke="#111" stroke-width="2.35"/>
<ellipse cx="507" cy="399.5" rx="2.2" ry="2" fill="#222" stroke="#111" stroke-width="1.68"/>
<path d="M520.5 402.6 C524 398.3 536.9 383.5 543.7 378.2 C550.5 372.9 560 369.8 566 367.5 C572 365.2 578.3 362.5 583.6 362.7 C588.9 362.9 595.3 367.6 601.3 368.8 C607.3 370 618.9 369.6 623.5 370.5 C628.1 371.4 631 373.4 632.3 374.9 C633.6 376.4 633.8 379 632.3 380.4 C630.8 381.8 627 383.3 622.4 384.3 C617.8 385.3 607.4 386.2 601.3 387.2 C595.1 388.2 590.4 387.8 581.4 391 C572.4 394.2 549.5 405.6 541.5 408.5 C533.5 411.4 531.4 410.2 528.2 410 C525.1 409.8 521.7 408.1 520.5 407 C519.3 405.9 517 406.9 520.5 402.6 Z" fill="none" stroke="#111" stroke-width="2.35"/>
<path d="M636.4 386 C639.7 384 646.1 383.9 649.7 383.7 C653.3 383.5 658 383.9 660.7 384.9 C663.4 385.9 665.7 388.2 667.4 390.4 C669.1 392.6 669.5 397 671.8 399.3 C674.1 401.6 679.2 404.7 682.9 405.9 C686.6 407.1 692.2 406.8 696.4 407.2 C700.6 407.6 707.2 408 710.7 408.7 C714.1 409.4 717.7 410.7 719.4 411.7 C721.1 412.7 722.1 413.9 721.8 415.3 C721.5 416.7 720.3 419.6 717.3 420.9 C714.3 422.2 706.4 423.2 701.8 424.2 C697.1 425.2 690 426.8 686.3 427.5 C682.6 428.2 681.9 427.7 677.4 429.2 C672.9 430.7 662.5 435 656.4 437.4 C650.2 439.8 641.6 443.6 636.4 445.4 C631.1 447.2 624.5 448.9 621.4 449.5 C618.2 450.1 617.1 450.1 615.4 449.5 C613.7 448.9 611.2 447 609.9 445.7 C608.5 444.4 607.5 441.8 606.4 440.7 C605.3 439.6 604.2 438.6 602.4 438.4 C600.6 438.2 596.8 439.2 594.4 439.4 C592 439.6 588.4 440.1 586.4 439.7 C584.4 439.3 582.1 437.9 580.9 436.7 C579.7 435.5 578.3 432.9 578.2 431.4 C578 429.9 579.1 427.9 579.9 426.7 C580.6 425.5 580 425.4 583.2 423.7 C586.4 422 595.7 417.9 601.4 415.2 C607.1 412.5 617 408.6 620.9 405.9 C624.8 403.2 625.2 400.1 627.5 397.1 C629.8 394.1 633.1 388 636.4 386 Z" fill="none" stroke="#111" stroke-width="2.35"/>
<ellipse cx="642" cy="378.7" rx="3" ry="1.8" transform="rotate(20 642 378.7)" fill="#222" stroke="#111" stroke-width="1.12"/>
<ellipse cx="596.9" cy="440.7" rx="3" ry="2" transform="rotate(20 596.9 440.7)" fill="#222" stroke="#111" stroke-width="1.12"/>
<path d="M622.4 449.7 L678.4 426.2" fill="none" stroke="#222" stroke-width="2.46" stroke-dasharray="1.5 4"/>
<path d="M682.4 427.2 L692.4 425.7" fill="none" stroke="#222" stroke-width="3.36"/>
<path d="M725.5 423.6 C728.8 421.6 735.2 421.5 738.8 421.3 C742.4 421.1 747.1 421.5 749.8 422.5 C752.5 423.5 754.8 425.8 756.5 428 C758.2 430.2 758.6 434.6 760.9 436.9 C763.2 439.2 768.3 442.3 772 443.5 C775.7 444.7 781.3 444.4 785.5 444.8 C789.7 445.2 796.3 445.6 799.8 446.3 C803.2 447 806.8 448.3 808.5 449.3 C810.2 450.3 811.2 451.5 810.9 452.9 C810.6 454.3 809.4 457.2 806.4 458.5 C803.4 459.8 795.5 460.8 790.9 461.8 C786.2 462.8 779.1 464.4 775.4 465.1 C771.7 465.9 771 465.3 766.5 466.8 C762 468.3 751.6 472.6 745.5 475 C739.4 477.4 730.8 481.2 725.5 483 C720.2 484.8 713.6 486.5 710.5 487.1 C707.4 487.7 706.2 487.7 704.5 487.1 C702.8 486.5 700.4 484.6 699 483.3 C697.6 482 696.6 479.4 695.5 478.3 C694.4 477.2 693.3 476.2 691.5 476 C689.7 475.8 685.9 476.8 683.5 477 C681.1 477.2 677.5 477.7 675.5 477.3 C673.5 476.9 671.2 475.5 670 474.3 C668.8 473.1 667.4 470.5 667.3 469 C667.1 467.5 668.2 465.5 669 464.3 C669.8 463.1 669.1 463 672.3 461.3 C675.5 459.6 684.8 455.5 690.5 452.8 C696.2 450.1 706.1 446.2 710 443.5 C713.9 440.8 714.3 437.7 716.6 434.7 C718.9 431.7 722.2 425.6 725.5 423.6 Z" fill="none" stroke="#111" stroke-width="2.35"/>
<ellipse cx="731.1" cy="416.3" rx="3" ry="1.8" transform="rotate(20 731.1 416.3)" fill="#222" stroke="#111" stroke-width="1.12"/>
<ellipse cx="686" cy="478.3" rx="3" ry="2" transform="rotate(20 686 478.3)" fill="#222" stroke="#111" stroke-width="1.12"/>
<path d="M711.5 487.3 L767.5 463.8" fill="none" stroke="#222" stroke-width="2.46" stroke-dasharray="1.5 4"/>
<path d="M771.5 464.8 L781.5 463.3" fill="none" stroke="#222" stroke-width="3.36"/>
<path d="M814.6 461.2 C817.9 459.2 824.3 459.1 827.9 458.9 C831.5 458.7 836.2 459.1 838.9 460.1 C841.6 461.1 843.9 463.4 845.6 465.6 C847.3 467.8 847.7 472.2 850 474.5 C852.3 476.8 857.4 479.9 861.1 481.1 C864.8 482.3 870.4 482 874.6 482.4 C878.8 482.8 885.4 483.2 888.9 483.9 C892.3 484.6 895.9 485.9 897.6 486.9 C899.3 487.9 900.3 489.1 900 490.5 C899.7 491.9 898.5 494.8 895.5 496.1 C892.5 497.4 884.6 498.4 880 499.4 C875.3 500.4 868.2 501.9 864.5 502.7 C860.8 503.4 860.1 502.9 855.6 504.4 C851.1 505.9 840.7 510.2 834.6 512.6 C828.4 515 819.8 518.8 814.6 520.6 C809.3 522.4 802.7 524.1 799.6 524.7 C796.4 525.3 795.3 525.3 793.6 524.7 C791.9 524.1 789.4 522.2 788.1 520.9 C786.7 519.6 785.7 517 784.6 515.9 C783.5 514.8 782.4 513.8 780.6 513.6 C778.8 513.4 775 514.4 772.6 514.6 C770.2 514.8 766.6 515.3 764.6 514.9 C762.6 514.5 760.3 513.1 759.1 511.9 C757.9 510.7 756.5 508.1 756.4 506.6 C756.2 505.1 757.3 503.1 758.1 501.9 C758.8 500.7 758.2 500.6 761.4 498.9 C764.6 497.2 773.9 493.1 779.6 490.4 C785.3 487.7 795.2 483.8 799.1 481.1 C803 478.4 803.4 475.3 805.7 472.3 C808 469.3 811.3 463.2 814.6 461.2 Z" fill="none" stroke="#111" stroke-width="2.35"/>
<ellipse cx="820.2" cy="453.9" rx="3" ry="1.8" transform="rotate(20 820.2 453.9)" fill="#222" stroke="#111" stroke-width="1.12"/>
<ellipse cx="775.1" cy="515.9" rx="3" ry="2" transform="rotate(20 775.1 515.9)" fill="#222" stroke="#111" stroke-width="1.12"/>
<path d="M800.6 524.9 L856.6 501.4" fill="none" stroke="#222" stroke-width="2.46" stroke-dasharray="1.5 4"/>
<path d="M860.6 502.4 L870.6 500.9" fill="none" stroke="#222" stroke-width="3.36"/>
<path d="M903.7 498.8 C907 496.8 913.4 496.7 917 496.5 C920.6 496.3 925.3 496.7 928 497.7 C930.7 498.7 933 501 934.7 503.2 C936.4 505.4 936.8 509.8 939.1 512.1 C941.4 514.4 946.5 517.5 950.2 518.7 C953.9 519.9 959.5 519.6 963.7 520 C967.9 520.4 974.5 520.8 978 521.5 C981.4 522.2 985 523.5 986.7 524.5 C988.4 525.5 989.4 526.7 989.1 528.1 C988.8 529.5 987.6 532.4 984.6 533.7 C981.6 535 973.7 536 969.1 537 C964.4 538 957.3 539.5 953.6 540.3 C949.9 541 949.2 540.5 944.7 542 C940.2 543.5 929.8 547.8 923.7 550.2 C917.5 552.6 908.9 556.4 903.7 558.2 C898.4 560 891.8 561.7 888.7 562.3 C885.5 562.9 884.4 562.9 882.7 562.3 C881 561.7 878.5 559.8 877.2 558.5 C875.8 557.2 874.8 554.6 873.7 553.5 C872.6 552.4 871.5 551.4 869.7 551.2 C867.9 551 864.1 552 861.7 552.2 C859.3 552.4 855.7 552.9 853.7 552.5 C851.7 552.1 849.4 550.7 848.2 549.5 C847 548.3 845.6 545.7 845.5 544.2 C845.3 542.7 846.4 540.7 847.2 539.5 C847.9 538.3 847.3 538.2 850.5 536.5 C853.7 534.8 863 530.7 868.7 528 C874.4 525.3 884.3 521.4 888.2 518.7 C892.1 516 892.5 512.9 894.8 509.9 C897.1 506.9 900.4 500.8 903.7 498.8 Z" fill="none" stroke="#111" stroke-width="2.35"/>
<ellipse cx="909.3" cy="491.5" rx="3" ry="1.8" transform="rotate(20 909.3 491.5)" fill="#222" stroke="#111" stroke-width="1.12"/>
<ellipse cx="864.2" cy="553.5" rx="3" ry="2" transform="rotate(20 864.2 553.5)" fill="#222" stroke="#111" stroke-width="1.12"/>
<path d="M889.7 562.5 L945.7 539" fill="none" stroke="#222" stroke-width="2.46" stroke-dasharray="1.5 4"/>
<path d="M949.7 540 L959.7 538.5" fill="none" stroke="#222" stroke-width="3.36"/>
<path d="M992.8 536.4 C996.1 534.4 1002.5 534.3 1006.1 534.1 C1009.7 533.9 1014.4 534.3 1017.1 535.3 C1019.8 536.3 1022.1 538.6 1023.8 540.8 C1025.5 543 1025.9 547.4 1028.2 549.7 C1030.5 552 1035.6 555.1 1039.3 556.3 C1043 557.5 1048.6 557.2 1052.8 557.6 C1057 558 1063.6 558.4 1067.1 559.1 C1070.5 559.8 1074.1 561.1 1075.8 562.1 C1077.5 563.1 1078.5 564.3 1078.2 565.7 C1077.9 567.1 1076.7 570 1073.7 571.3 C1070.7 572.6 1062.9 573.6 1058.2 574.6 C1053.5 575.6 1046.4 577.1 1042.7 577.9 C1039 578.6 1038.3 578.1 1033.8 579.6 C1029.3 581.1 1018.9 585.4 1012.8 587.8 C1006.6 590.2 998 594 992.8 595.8 C987.5 597.6 980.9 599.3 977.8 599.9 C974.6 600.5 973.5 600.5 971.8 599.9 C970.1 599.3 967.6 597.4 966.3 596.1 C964.9 594.8 963.9 592.2 962.8 591.1 C961.7 590 960.6 589 958.8 588.8 C957 588.6 953.2 589.6 950.8 589.8 C948.4 590 944.8 590.5 942.8 590.1 C940.8 589.7 938.5 588.3 937.3 587.1 C936.1 585.9 934.7 583.3 934.6 581.8 C934.4 580.3 935.5 578.3 936.3 577.1 C937 575.9 936.4 575.8 939.6 574.1 C942.8 572.4 952.1 568.3 957.8 565.6 C963.5 562.9 973.4 559 977.3 556.3 C981.2 553.6 981.6 550.5 983.9 547.5 C986.2 544.5 989.5 538.4 992.8 536.4 Z" fill="none" stroke="#111" stroke-width="2.35"/>
<ellipse cx="998.4" cy="529.1" rx="3" ry="1.8" transform="rotate(20 998.4 529.1)" fill="#222" stroke="#111" stroke-width="1.12"/>
<ellipse cx="953.3" cy="591.1" rx="3" ry="2" transform="rotate(20 953.3 591.1)" fill="#222" stroke="#111" stroke-width="1.12"/>
<path d="M978.8 600.1 L1034.8 576.6" fill="none" stroke="#222" stroke-width="2.46" stroke-dasharray="1.5 4"/>
<path d="M1038.8 577.6 L1048.8 576.1" fill="none" stroke="#222" stroke-width="3.36"/>
<path d="M543 410 L592 389.5" fill="none" stroke="#222" stroke-width="2.46" stroke-dasharray="1.5 4"/>
<path d="M596 388.5 L606 388" fill="none" stroke="#222" stroke-width="3.36"/>
<path d="M607 367 L617 369" fill="none" stroke="#222" stroke-width="3.36"/>
<path d="M1080 577 C1083.3 574.7 1086.7 573 1090.7 572.4 C1094.8 571.8 1103.5 572.6 1107 573.3 C1110.5 574 1112.4 575.1 1114 577 C1115.6 578.9 1115 583.5 1117.7 586 C1120.4 588.5 1130.1 592.1 1132 594 C1133.9 595.9 1139.2 593.4 1130.3 598.5 C1121.4 603.6 1082.9 623.6 1072.7 628.2 C1062.5 632.8 1065 629.1 1062 629 C1059 628.9 1057.9 628.1 1053 627.3 C1048.1 626.5 1034.1 625.1 1029.5 623.7 C1024.9 622.4 1022.8 620.2 1022.3 618.3 C1021.8 616.4 1019 615.6 1026 611 C1033 606.4 1060.9 592.8 1069 587.7 C1077.1 582.6 1076.7 579.3 1080 577 Z" fill="none" stroke="#111" stroke-width="2.35"/>
<ellipse cx="1087" cy="568.5" rx="3" ry="1.8" transform="rotate(20 1087 568.5)" fill="#222" stroke="#111" stroke-width="1.12"/>
<ellipse cx="1060" cy="632" rx="3.5" ry="2" transform="rotate(10 1060 632)" fill="#222" stroke="#111" stroke-width="1.12"/>
<path d="M1076 627 L1128 600" fill="none" stroke="#222" stroke-width="2.46" stroke-dasharray="1.5 4"/>
<path d="M1121 542 L1121 575" fill="none" stroke="#111" stroke-width="1.68"/>
<path d="M482.1 1205.2 L570.7 1166.4" fill="none" stroke="#111" stroke-width="2.69"/>
<path d="M570.7 1166.4 C572.6 1165.9 576.2 1162.8 585 1163 C593.8 1163.2 627.8 1167 637 1168 C646.2 1169 651.6 1170.3 653.8 1170.6" fill="none" stroke="#111" stroke-width="2.69"/>
<path d="M653.8 1170.6 L1049 1338" fill="none" stroke="#111" stroke-width="2.69"/>
<path d="M660 1176 L1046 1340" fill="none" stroke="#222" stroke-width="2.69" stroke-dasharray="1.2 3.2"/>
<path d="M488 1206 L572 1169.5" fill="none" stroke="#222" stroke-width="2.24" stroke-dasharray="1.2 3.2"/>
<path d="M1049 1338 L1056 1343 L1065.7 1382.4 L982.7 1421.1" fill="none" stroke="#111" stroke-width="2.69"/>
<path d="M1061 1384 L985 1418.5" fill="none" stroke="#222" stroke-width="2.46" stroke-dasharray="1.2 3.2"/>
<path d="M482.1 1205.2 L483.8 1206.6 L485.3 1208.3 L486.8 1210.1 L488.3 1212 L489.8 1213.7 L491.4 1215.4 L493 1217.1 L494.4 1219 L495.7 1221.3 L496.9 1223.9 L498.4 1225.8 L500.2 1226.7 L502.4 1227 L504.9 1226.5 L507.6 1225.5 L510.4 1224.3 L513.1 1223.3 L515.5 1223.1 L517.5 1223.7 L519.1 1225.3 L520.5 1227.4 L521.7 1229.8 L523.1 1232 L524.6 1233.7 L526.3 1235 L528.2 1235.9 L530.2 1236.6 L532.1 1237.5 L533.9 1238.7 L535.5 1240.2 L537.1 1241.8 L538.8 1243.3 L540.7 1244.1 L542.9 1244.3 L545.4 1243.7 L548.2 1242.6 L551 1241.4 L553.6 1240.6 L556 1240.4 L557.9 1241.2 L559.5 1242.9 L560.8 1245.1 L562.1 1247.4 L563.4 1249.6 L565 1251.3 L566.8 1252.5 L568.7 1253.3 L570.6 1254.1 L572.5 1255 L574.3 1256.2 L575.9 1257.8 L577.5 1259.4 L579.2 1260.7 L581.1 1261.5 L583.4 1261.5 L586 1260.8 L588.8 1259.7 L591.5 1258.5 L594.1 1257.8 L596.4 1257.8 L598.3 1258.7 L599.8 1260.5 L601.1 1262.7 L602.4 1265.1 L603.8 1267.2 L605.4 1268.8 L607.2 1269.9 L609.1 1270.7 L611.1 1271.5 L612.9 1272.5 L614.7 1273.8 L616.3 1275.4 L617.9 1276.9 L619.6 1278.2 L621.6 1278.9 L623.9 1278.8 L626.5 1278 L629.3 1276.8 L632.1 1275.7 L634.7 1275 L636.9 1275.2 L638.7 1276.3 L640.2 1278.1 L641.5 1280.4 L642.7 1282.8 L644.2 1284.8 L645.8 1286.3 L647.6 1287.4 L649.6 1288.1 L651.5 1288.9 L653.3 1290 L655 1291.3 L656.6 1292.9 L658.2 1294.5 L660 1295.7 L662.1 1296.2 L664.4 1296 L667.1 1295.1 L669.9 1293.9 L672.7 1292.8 L675.2 1292.3 L677.3 1292.6 L679.1 1293.8 L680.5 1295.8 L681.8 1298.1 L683.1 1300.4 L684.5 1302.4 L686.2 1303.8 L688 1304.8 L690 1305.6 L691.9 1306.4 L693.7 1307.5 L695.4 1308.9 L697 1310.5 L698.6 1312 L700.4 1313.1 L702.5 1313.5 L705 1313.2 L707.7 1312.3 L710.5 1311 L713.2 1310 L715.7 1309.6 L717.7 1310.1 L719.4 1311.4 L720.9 1313.4 L722.1 1315.8 L723.4 1318.1 L724.9 1319.9 L726.6 1321.3 L728.5 1322.2 L730.4 1323 L732.4 1323.8 L734.2 1325 L735.8 1326.4 L737.4 1328.1 L739 1329.5 L740.9 1330.5 L743 1330.8 L745.5 1330.4 L748.2 1329.4 L751 1328.2 L753.7 1327.2 L756.1 1326.9 L758.2 1327.5 L759.8 1329 L761.2 1331.1 L762.4 1333.5 L763.8 1335.7 L765.3 1337.5 L767 1338.8 L768.9 1339.7 L770.9 1340.4 L772.8 1341.3 L774.6 1342.5 L776.2 1344 L777.8 1345.6 L779.4 1347 L781.3 1348 L783.5 1348.1 L786.1 1347.6 L788.8 1346.5 L791.6 1345.3 L794.3 1344.4 L796.6 1344.3 L798.6 1345 L800.2 1346.6 L801.5 1348.8 L802.8 1351.2 L804.1 1353.3 L805.7 1355 L807.4 1356.3 L809.4 1357.1 L811.3 1357.9 L813.2 1358.8 L814.9 1360 L816.6 1361.6 L818.2 1363.2 L819.8 1364.5 L821.8 1365.3 L824 1365.4 L826.6 1364.7 L829.4 1363.6 L832.2 1362.4 L834.8 1361.6 L837.1 1361.6 L839 1362.5 L840.5 1364.2 L841.8 1366.5 L843.1 1368.8 L844.5 1370.9 L846.1 1372.6 L847.9 1373.7 L849.8 1374.5 L851.7 1375.3 L853.6 1376.3 L855.3 1377.6 L856.9 1379.1 L858.5 1380.7 L860.3 1382 L862.2 1382.7 L864.6 1382.6 L867.2 1381.9 L870 1380.7 L872.7 1379.6 L875.3 1378.9 L877.5 1379 L879.4 1380 L880.9 1381.9 L882.2 1384.2 L883.4 1386.5 L884.8 1388.5 L886.5 1390.1 L888.3 1391.2 L890.2 1392 L892.2 1392.7 L894 1393.7 L895.7 1395.1 L897.3 1396.7 L898.9 1398.3 L900.7 1399.5 L902.7 1400.1 L905.1 1399.9 L907.7 1399 L910.5 1397.8 L913.3 1396.7 L915.8 1396.2 L918 1396.4 L919.8 1397.6 L921.2 1399.5 L922.5 1401.8 L923.8 1404.2 L925.2 1406.1 L926.9 1407.6 L928.7 1408.6 L930.7 1409.4 L932.6 1410.2 L934.4 1411.2 L936.1 1412.6 L937.7 1414.2 L939.3 1415.8 L941.1 1416.9 L943.2 1417.4 L945.6 1417.1 L948.3 1416.1 L951.1 1414.9 L953.8 1413.9 L956.3 1413.4 L958.4 1413.9 L960.1 1415.2 L961.6 1417 L963.2 1418.7 L964.9 1420.1 L966.8 1421 L968.9 1421.3 L971.2 1421.3 L973.5 1421.2 L975.8 1421.2 L978.1 1421.2 L980.4 1421.2 L982.7 1421.1" fill="none" stroke="#111" stroke-width="2.69"/>
<path d="M488.8 1209.7 L490.3 1211.4 L491.9 1213.1 L493.5 1214.8 L494.9 1216.7 L496.2 1219 L497.4 1221.6 L498.9 1223.5 L500.7 1224.4 L502.9 1224.7 L505.4 1224.2 L508.1 1223.2 L510.9 1222 L513.6 1221 L516 1220.8 L518 1221.4 L519.6 1223 L521 1225.1 L522.2 1227.5 L523.6 1229.7 L525.1 1231.4 L526.8 1232.7 L528.7 1233.6 L530.7 1234.3 L532.6 1235.2 L534.4 1236.4 L536 1237.9 L537.6 1239.5 L539.3 1241 L541.2 1241.8 L543.4 1242 L545.9 1241.4 L548.7 1240.3 L551.5 1239.1 L554.1 1238.3 L556.5 1238.1 L558.4 1238.9 L560 1240.6 L561.3 1242.8 L562.6 1245.1 L563.9 1247.3 L565.5 1249 L567.3 1250.2 L569.2 1251 L571.1 1251.8 L573 1252.7 L574.8 1253.9 L576.4 1255.5 L578 1257.1 L579.7 1258.4 L581.6 1259.2 L583.9 1259.2 L586.5 1258.5 L589.3 1257.4 L592 1256.2 L594.6 1255.5 L596.9 1255.5 L598.8 1256.4 L600.3 1258.2 L601.6 1260.4 L602.9 1262.8 L604.3 1264.9 L605.9 1266.5 L607.7 1267.6 L609.6 1268.4 L611.6 1269.2 L613.4 1270.2 L615.2 1271.5 L616.8 1273.1 L618.4 1274.6 L620.1 1275.9 L622.1 1276.6 L624.4 1276.5 L627 1275.7 L629.8 1274.5 L632.6 1273.4 L635.2 1272.7 L637.4 1272.9 L639.2 1274 L640.7 1275.8 L642 1278.1 L643.2 1280.5 L644.7 1282.5 L646.3 1284 L648.1 1285.1 L650.1 1285.8 L652 1286.6 L653.8 1287.7 L655.5 1289 L657.1 1290.6 L658.7 1292.2 L660.5 1293.4 L662.6 1293.9 L664.9 1293.7 L667.6 1292.8 L670.4 1291.6 L673.2 1290.5 L675.7 1290 L677.8 1290.3 L679.6 1291.5 L681 1293.5 L682.3 1295.8 L683.6 1298.1 L685 1300.1 L686.7 1301.5 L688.5 1302.5 L690.5 1303.3 L692.4 1304.1 L694.2 1305.2 L695.9 1306.6 L697.5 1308.2 L699.1 1309.7 L700.9 1310.8 L703 1311.2 L705.5 1310.9 L708.2 1310 L711 1308.7 L713.7 1307.7 L716.2 1307.3 L718.2 1307.8 L719.9 1309.1 L721.4 1311.1 L722.6 1313.5 L723.9 1315.8 L725.4 1317.6 L727.1 1319 L729 1319.9 L730.9 1320.7 L732.9 1321.5 L734.7 1322.7 L736.3 1324.1 L737.9 1325.8 L739.5 1327.2 L741.4 1328.2 L743.5 1328.5 L746 1328.1 L748.7 1327.1 L751.5 1325.9 L754.2 1324.9 L756.6 1324.6 L758.7 1325.2 L760.3 1326.7 L761.7 1328.8 L762.9 1331.2 L764.3 1333.4 L765.8 1335.2 L767.5 1336.5 L769.4 1337.4 L771.4 1338.1 L773.3 1339 L775.1 1340.2 L776.7 1341.7 L778.3 1343.3 L779.9 1344.7 L781.8 1345.7 L784 1345.8 L786.6 1345.3 L789.3 1344.2 L792.1 1343 L794.8 1342.1 L797.1 1342 L799.1 1342.7 L800.7 1344.3 L802 1346.5 L803.3 1348.9 L804.6 1351 L806.2 1352.7 L807.9 1354 L809.9 1354.8 L811.8 1355.6 L813.7 1356.5 L815.4 1357.7 L817.1 1359.3 L818.7 1360.9 L820.3 1362.2 L822.3 1363 L824.5 1363.1 L827.1 1362.4 L829.9 1361.3 L832.7 1360.1 L835.3 1359.3 L837.6 1359.3 L839.5 1360.2 L841 1361.9 L842.3 1364.2 L843.6 1366.5 L845 1368.6 L846.6 1370.3 L848.4 1371.4 L850.3 1372.2 L852.2 1373 L854.1 1374 L855.8 1375.3 L857.4 1376.8 L859 1378.4 L860.8 1379.7 L862.7 1380.4 L865.1 1380.3 L867.7 1379.6 L870.5 1378.4 L873.2 1377.3 L875.8 1376.6 L878 1376.7 L879.9 1377.7 L881.4 1379.6 L882.7 1381.9 L883.9 1384.2 L885.3 1386.2 L887 1387.8 L888.8 1388.9 L890.7 1389.7 L892.7 1390.4 L894.5 1391.4 L896.2 1392.8 L897.8 1394.4 L899.4 1396 L901.2 1397.2 L903.2 1397.8 L905.6 1397.6 L908.2 1396.7 L911 1395.5 L913.8 1394.4 L916.3 1393.9 L918.5 1394.1 L920.3 1395.3 L921.7 1397.2 L923 1399.5 L924.3 1401.9 L925.7 1403.8 L927.4 1405.3 L929.2 1406.3 L931.2 1407.1 L933.1 1407.9 L934.9 1408.9 L936.6 1410.3 L938.2 1411.9 L939.8 1413.5 L941.6 1414.6 L943.7 1415.1 L946.1 1414.8 L948.8 1413.8 L951.6 1412.6 L954.3 1411.6 L956.8 1411.1 L958.9 1411.6 L960.6 1412.9 L962.1 1414.7 L963.7 1416.4 L965.4 1417.8 L967.3 1418.7 L969.4 1419 L971.7 1419 L974 1418.9" fill="none" stroke="#222" stroke-width="1.79" stroke-dasharray="1.2 3"/>
<ellipse cx="584.6" cy="1202.4" rx="51" ry="21" transform="rotate(2 584.6 1202.4)" fill="none" stroke="#111" stroke-width="2.91"/>
<ellipse cx="584.6" cy="1202.4" rx="53" ry="23" transform="rotate(2 584.6 1202.4)" fill="none" stroke="#222" stroke-width="2.46" stroke-dasharray="1.2 3"/>
<ellipse cx="664.9" cy="1237" rx="51" ry="21" transform="rotate(2 664.9 1237)" fill="none" stroke="#111" stroke-width="2.91"/>
<ellipse cx="664.9" cy="1237" rx="53" ry="23" transform="rotate(2 664.9 1237)" fill="none" stroke="#222" stroke-width="2.46" stroke-dasharray="1.2 3"/>
<ellipse cx="745.2" cy="1271.6" rx="51" ry="21" transform="rotate(2 745.2 1271.6)" fill="none" stroke="#111" stroke-width="2.91"/>
<ellipse cx="745.2" cy="1271.6" rx="53" ry="23" transform="rotate(2 745.2 1271.6)" fill="none" stroke="#222" stroke-width="2.46" stroke-dasharray="1.2 3"/>
<ellipse cx="825.5" cy="1306.2" rx="51" ry="21" transform="rotate(2 825.5 1306.2)" fill="none" stroke="#111" stroke-width="2.91"/>
<ellipse cx="825.5" cy="1306.2" rx="53" ry="23" transform="rotate(2 825.5 1306.2)" fill="none" stroke="#222" stroke-width="2.46" stroke-dasharray="1.2 3"/>
<ellipse cx="905.8" cy="1340.8" rx="51" ry="21" transform="rotate(2 905.8 1340.8)" fill="none" stroke="#111" stroke-width="2.91"/>
<ellipse cx="905.8" cy="1340.8" rx="53" ry="23" transform="rotate(2 905.8 1340.8)" fill="none" stroke="#222" stroke-width="2.46" stroke-dasharray="1.2 3"/>
<ellipse cx="986.1" cy="1375.4" rx="51" ry="21" transform="rotate(2 986.1 1375.4)" fill="none" stroke="#111" stroke-width="2.91"/>
<ellipse cx="986.1" cy="1375.4" rx="53" ry="23" transform="rotate(2 986.1 1375.4)" fill="none" stroke="#222" stroke-width="2.46" stroke-dasharray="1.2 3"/>
<path d="M648.2 1187 C648.5 1185 651.7 1183 656.2 1183.5 C660.7 1184 671 1187.4 678.2 1190 C685.4 1192.6 699.9 1198.5 704.2 1201 C708.6 1203.5 708.1 1205.7 707.2 1207 C706.3 1208.3 703.3 1210.5 698.2 1210 C693.1 1209.5 678.6 1204.9 673.2 1204 C667.8 1203.1 665.1 1205 662.2 1204 C659.4 1203 656.3 1199.5 654.2 1197 C652.1 1194.5 647.9 1189 648.2 1187 Z" fill="none" stroke="#111" stroke-width="2.46"/>
<path d="M658.2 1185.5 L704.2 1204" fill="none" stroke="#222" stroke-width="2.24" stroke-dasharray="1.2 3"/>
<ellipse cx="657.7" cy="1205.5" rx="4.5" ry="3" fill="#bbb" stroke="#111" stroke-width="2.02"/>
<path d="M728.5 1221.6 C728.8 1219.6 732 1217.6 736.5 1218.1 C741 1218.5 751.3 1222 758.5 1224.6 C765.7 1227.2 780.1 1233 784.5 1235.6 C788.9 1238.1 788.4 1240.2 787.5 1241.6 C786.6 1242.9 783.6 1245 778.5 1244.6 C773.4 1244.1 758.9 1239.5 753.5 1238.6 C748.1 1237.7 745.4 1239.6 742.5 1238.6 C739.6 1237.5 736.6 1234.1 734.5 1231.6 C732.4 1229 728.2 1223.6 728.5 1221.6 Z" fill="none" stroke="#111" stroke-width="2.46"/>
<path d="M738.5 1220.1 L784.5 1238.6" fill="none" stroke="#222" stroke-width="2.24" stroke-dasharray="1.2 3"/>
<ellipse cx="738" cy="1240.1" rx="4.5" ry="3" fill="#bbb" stroke="#111" stroke-width="2.02"/>
<path d="M808.8 1256.2 C809.1 1254.2 812.3 1252.2 816.8 1252.7 C821.3 1253.2 831.6 1256.6 838.8 1259.2 C846 1261.8 860.5 1267.7 864.8 1270.2 C869.2 1272.8 868.7 1274.9 867.8 1276.2 C866.9 1277.5 863.9 1279.7 858.8 1279.2 C853.7 1278.8 839.2 1274.1 833.8 1273.2 C828.4 1272.3 825.7 1274.2 822.8 1273.2 C820 1272.2 816.9 1268.8 814.8 1266.2 C812.7 1263.7 808.5 1258.2 808.8 1256.2 Z" fill="none" stroke="#111" stroke-width="2.46"/>
<path d="M818.8 1254.7 L864.8 1273.2" fill="none" stroke="#222" stroke-width="2.24" stroke-dasharray="1.2 3"/>
<ellipse cx="818.3" cy="1274.7" rx="4.5" ry="3" fill="#bbb" stroke="#111" stroke-width="2.02"/>
<path d="M889.1 1290.8 C889.4 1288.8 892.6 1286.8 897.1 1287.3 C901.6 1287.8 911.9 1291.2 919.1 1293.8 C926.3 1296.4 940.8 1302.2 945.1 1304.8 C949.5 1307.3 949 1309.5 948.1 1310.8 C947.2 1312.1 944.2 1314.2 939.1 1313.8 C934 1313.3 919.5 1308.7 914.1 1307.8 C908.7 1306.9 906 1308.8 903.1 1307.8 C900.2 1306.8 897.2 1303.3 895.1 1300.8 C893 1298.2 888.8 1292.8 889.1 1290.8 Z" fill="none" stroke="#111" stroke-width="2.46"/>
<path d="M899.1 1289.3 L945.1 1307.8" fill="none" stroke="#222" stroke-width="2.24" stroke-dasharray="1.2 3"/>
<ellipse cx="898.6" cy="1309.3" rx="4.5" ry="3" fill="#bbb" stroke="#111" stroke-width="2.02"/>
<path d="M969.4 1325.4 C969.7 1323.4 972.9 1321.5 977.4 1321.9 C981.9 1322.4 992.2 1325.8 999.4 1328.4 C1006.6 1331 1021.1 1336.9 1025.4 1339.4 C1029.8 1342 1029.3 1344.1 1028.4 1345.4 C1027.5 1346.8 1024.5 1348.9 1019.4 1348.4 C1014.3 1348 999.8 1343.3 994.4 1342.4 C989 1341.5 986.3 1343.5 983.4 1342.4 C980.6 1341.4 977.5 1338 975.4 1335.4 C973.3 1332.9 969.1 1327.4 969.4 1325.4 Z" fill="none" stroke="#111" stroke-width="2.46"/>
<path d="M979.4 1323.9 L1025.4 1342.4" fill="none" stroke="#222" stroke-width="2.24" stroke-dasharray="1.2 3"/>
<ellipse cx="978.9" cy="1343.9" rx="4.5" ry="3" fill="#bbb" stroke="#111" stroke-width="2.02"/>
<ellipse cx="576.3" cy="1173.4" rx="6" ry="3.6" fill="#fff" stroke="#111" stroke-width="2.02"/>
<ellipse cx="641.3" cy="1176" rx="6" ry="3.6" fill="#fff" stroke="#111" stroke-width="2.02"/>
<ellipse cx="720.2" cy="1212" rx="6" ry="3.6" fill="#fff" stroke="#111" stroke-width="2.02"/>
<ellipse cx="801.9" cy="1245.3" rx="6" ry="3.6" fill="#444" stroke="#111" stroke-width="2.02"/>
<ellipse cx="882" cy="1280" rx="6" ry="3.6" fill="#444" stroke="#111" stroke-width="2.02"/>
<ellipse cx="960" cy="1313" rx="6" ry="3.6" fill="#444" stroke="#111" stroke-width="2.02"/>
<ellipse cx="1039.4" cy="1346.4" rx="6" ry="3.6" fill="#fff" stroke="#111" stroke-width="2.02"/>
<ellipse cx="1053.3" cy="1376.8" rx="6" ry="3.6" fill="#444" stroke="#111" stroke-width="2.02"/>
<ellipse cx="1003.5" cy="1396.2" rx="6" ry="3.6" fill="#fff" stroke="#111" stroke-width="2.02"/>
<ellipse cx="512.6" cy="1213.5" rx="13" ry="7.5" transform="rotate(8 512.6 1213.5)" fill="none" stroke="#111" stroke-width="2.46"/>
<ellipse cx="512.6" cy="1214" rx="10.5" ry="5.2" transform="rotate(8 512.6 1214)" fill="none" stroke="#555" stroke-width="1.34"/>
<ellipse cx="533.6" cy="1225" rx="4.5" ry="3" fill="#ddd" stroke="#111" stroke-width="2.02"/>
<ellipse cx="552.8" cy="1230.8" rx="13" ry="7.5" transform="rotate(8 552.8 1230.8)" fill="none" stroke="#111" stroke-width="2.46"/>
<ellipse cx="552.8" cy="1231.3" rx="10.5" ry="5.2" transform="rotate(8 552.8 1231.3)" fill="none" stroke="#555" stroke-width="1.34"/>
<ellipse cx="573.8" cy="1242.3" rx="4.5" ry="3" fill="#555" stroke="#111" stroke-width="2.02"/>
<ellipse cx="592.9" cy="1248.1" rx="13" ry="7.5" transform="rotate(8 592.9 1248.1)" fill="none" stroke="#111" stroke-width="2.46"/>
<ellipse cx="592.9" cy="1248.6" rx="10.5" ry="5.2" transform="rotate(8 592.9 1248.6)" fill="none" stroke="#555" stroke-width="1.34"/>
<ellipse cx="613.9" cy="1259.6" rx="4.5" ry="3" fill="#ddd" stroke="#111" stroke-width="2.02"/>
<ellipse cx="633" cy="1265.4" rx="13" ry="7.5" transform="rotate(8 633 1265.4)" fill="none" stroke="#111" stroke-width="2.46"/>
<ellipse cx="633" cy="1265.9" rx="10.5" ry="5.2" transform="rotate(8 633 1265.9)" fill="none" stroke="#555" stroke-width="1.34"/>
<ellipse cx="654" cy="1276.9" rx="4.5" ry="3" fill="#555" stroke="#111" stroke-width="2.02"/>
<ellipse cx="673.2" cy="1282.7" rx="13" ry="7.5" transform="rotate(8 673.2 1282.7)" fill="none" stroke="#111" stroke-width="2.46"/>
<ellipse cx="673.2" cy="1283.2" rx="10.5" ry="5.2" transform="rotate(8 673.2 1283.2)" fill="none" stroke="#555" stroke-width="1.34"/>
<ellipse cx="694.2" cy="1294.2" rx="4.5" ry="3" fill="#ddd" stroke="#111" stroke-width="2.02"/>
<ellipse cx="713.4" cy="1300" rx="13" ry="7.5" transform="rotate(8 713.4 1300)" fill="none" stroke="#111" stroke-width="2.46"/>
<ellipse cx="713.4" cy="1300.5" rx="10.5" ry="5.2" transform="rotate(8 713.4 1300.5)" fill="none" stroke="#555" stroke-width="1.34"/>
<ellipse cx="734.4" cy="1311.5" rx="4.5" ry="3" fill="#555" stroke="#111" stroke-width="2.02"/>
<ellipse cx="753.5" cy="1317.3" rx="13" ry="7.5" transform="rotate(8 753.5 1317.3)" fill="none" stroke="#111" stroke-width="2.46"/>
<ellipse cx="753.5" cy="1317.8" rx="10.5" ry="5.2" transform="rotate(8 753.5 1317.8)" fill="none" stroke="#555" stroke-width="1.34"/>
<ellipse cx="774.5" cy="1328.8" rx="4.5" ry="3" fill="#ddd" stroke="#111" stroke-width="2.02"/>
<ellipse cx="793.7" cy="1334.6" rx="13" ry="7.5" transform="rotate(8 793.7 1334.6)" fill="none" stroke="#111" stroke-width="2.46"/>
<ellipse cx="793.7" cy="1335.1" rx="10.5" ry="5.2" transform="rotate(8 793.7 1335.1)" fill="none" stroke="#555" stroke-width="1.34"/>
<ellipse cx="814.7" cy="1346.1" rx="4.5" ry="3" fill="#555" stroke="#111" stroke-width="2.02"/>
<ellipse cx="833.8" cy="1351.9" rx="13" ry="7.5" transform="rotate(8 833.8 1351.9)" fill="none" stroke="#111" stroke-width="2.46"/>
<ellipse cx="833.8" cy="1352.4" rx="10.5" ry="5.2" transform="rotate(8 833.8 1352.4)" fill="none" stroke="#555" stroke-width="1.34"/>
<ellipse cx="854.8" cy="1363.4" rx="4.5" ry="3" fill="#ddd" stroke="#111" stroke-width="2.02"/>
<ellipse cx="874" cy="1369.2" rx="13" ry="7.5" transform="rotate(8 874 1369.2)" fill="none" stroke="#111" stroke-width="2.46"/>
<ellipse cx="874" cy="1369.7" rx="10.5" ry="5.2" transform="rotate(8 874 1369.7)" fill="none" stroke="#555" stroke-width="1.34"/>
<ellipse cx="895" cy="1380.7" rx="4.5" ry="3" fill="#555" stroke="#111" stroke-width="2.02"/>
<ellipse cx="914.1" cy="1386.5" rx="13" ry="7.5" transform="rotate(8 914.1 1386.5)" fill="none" stroke="#111" stroke-width="2.46"/>
<ellipse cx="914.1" cy="1387" rx="10.5" ry="5.2" transform="rotate(8 914.1 1387)" fill="none" stroke="#555" stroke-width="1.34"/>
<ellipse cx="935.1" cy="1398" rx="4.5" ry="3" fill="#ddd" stroke="#111" stroke-width="2.02"/>
<ellipse cx="954.2" cy="1403.8" rx="13" ry="7.5" transform="rotate(8 954.2 1403.8)" fill="none" stroke="#111" stroke-width="2.46"/>
<ellipse cx="954.2" cy="1404.3" rx="10.5" ry="5.2" transform="rotate(8 954.2 1404.3)" fill="none" stroke="#555" stroke-width="1.34"/>
<ellipse cx="608" cy="1226" rx="5" ry="3" fill="#666" stroke="#111" stroke-width="1.79"/>
<path d="M660 1260 C660.7 1258.8 664.3 1258 668 1259 C671.7 1260 680.7 1264.2 682 1266 C683.3 1267.8 679 1270 676 1270 C673 1270 666.7 1267.7 664 1266 C661.3 1264.3 659.3 1261.2 660 1260 Z" fill="none" stroke="#111" stroke-width="1.79"/>
<ellipse cx="688.3" cy="1260.6" rx="5" ry="3" fill="#666" stroke="#111" stroke-width="1.79"/>
<path d="M740.3 1294.6 C741 1293.4 744.6 1292.6 748.3 1293.6 C752 1294.6 761 1298.8 762.3 1300.6 C763.6 1302.4 759.3 1304.6 756.3 1304.6 C753.3 1304.6 747 1302.3 744.3 1300.6 C741.6 1298.9 739.6 1295.8 740.3 1294.6 Z" fill="none" stroke="#111" stroke-width="1.79"/>
<ellipse cx="768.6" cy="1295.2" rx="5" ry="3" fill="#666" stroke="#111" stroke-width="1.79"/>
<path d="M820.6 1329.2 C821.3 1328 824.9 1327.2 828.6 1328.2 C832.3 1329.2 841.3 1333.4 842.6 1335.2 C843.9 1337 839.6 1339.2 836.6 1339.2 C833.6 1339.2 827.3 1336.9 824.6 1335.2 C821.9 1333.5 819.9 1330.4 820.6 1329.2 Z" fill="none" stroke="#111" stroke-width="1.79"/>
<ellipse cx="848.9" cy="1329.8" rx="5" ry="3" fill="#666" stroke="#111" stroke-width="1.79"/>
<path d="M900.9 1363.8 C901.6 1362.6 905.2 1361.8 908.9 1362.8 C912.6 1363.8 921.6 1368 922.9 1369.8 C924.2 1371.6 919.9 1373.8 916.9 1373.8 C913.9 1373.8 907.6 1371.5 904.9 1369.8 C902.2 1368.1 900.2 1365 900.9 1363.8 Z" fill="none" stroke="#111" stroke-width="1.79"/>
<ellipse cx="929.2" cy="1364.4" rx="5" ry="3" fill="#666" stroke="#111" stroke-width="1.79"/>
<path d="M981.2 1398.4 C981.9 1397.2 985.5 1396.4 989.2 1397.4 C992.9 1398.4 1001.9 1402.6 1003.2 1404.4 C1004.5 1406.2 1000.2 1408.4 997.2 1408.4 C994.2 1408.4 987.9 1406.1 985.2 1404.4 C982.5 1402.7 980.5 1399.6 981.2 1398.4 Z" fill="none" stroke="#111" stroke-width="1.79"/>
<path d="M862.5 1236 L862.5 1258" fill="none" stroke="#111" stroke-width="1.68"/>
<path d="M487.4 923.8 L640 992.5 L865 1084.3 L976.3 1136.3" fill="none" stroke="#222" stroke-width="1.68" stroke-dasharray="5 3"/>
<path d="M495.7 942 L640 1001.5 L865 1093 L969.6 1139.7" fill="none" stroke="#222" stroke-width="1.68" stroke-dasharray="5 3"/>
<path d="M504.8 992.7 L523.9 997.2 L523.9 1003.2 L547 1006.9 L547 1012.9 L570.1 1016.6 L570.1 1022.6 L593.2 1026.2 L593.2 1032.2 L616.3 1035.9 L616.3 1041.9 L639.4 1045.6 L639.4 1051.6 L662.5 1055.3 L662.5 1061.3 L685.6 1065 L685.6 1071 L708.7 1074.6 L708.7 1080.6 L731.8 1084.3 L731.8 1090.3 L754.9 1094 L754.9 1100 L778 1103.7 L778 1109.7 L801.1 1113.3 L801.1 1119.3 L824.2 1123 L824.2 1129 L847.3 1132.7 L847.3 1138.7 L870.4 1142.4 L870.4 1148.4 L893.5 1152.1 L893.5 1158.1 L916.6 1161.7 L916.6 1167.7 L939.7 1171.4 L939.7 1177.4 L962.8 1181.1 L962.8 1187.1 L969.9 1185.6 L979.8 1191.7" fill="none" stroke="#111" stroke-width="1.79"/>
<path d="M523.9 957.6 L523.9 1003.2" fill="none" stroke="#111" stroke-width="1.68"/>
<path d="M547 967.2 L547 1012.9" fill="none" stroke="#111" stroke-width="1.68"/>
<path d="M570.1 976.7 L570.1 1022.6" fill="none" stroke="#111" stroke-width="1.68"/>
<path d="M593.2 986.2 L593.2 1032.2" fill="none" stroke="#111" stroke-width="1.68"/>
<path d="M616.3 995.7 L616.3 1041.9" fill="none" stroke="#111" stroke-width="1.68"/>
<path d="M639.4 1005.2 L639.4 1051.6" fill="none" stroke="#111" stroke-width="1.68"/>
<path d="M662.5 1014.7 L662.5 1061.3" fill="none" stroke="#111" stroke-width="1.68"/>
<path d="M685.6 1024 L685.6 1071" fill="none" stroke="#111" stroke-width="1.68"/>
<path d="M708.7 1033.4 L708.7 1080.6" fill="none" stroke="#111" stroke-width="1.68"/>
<path d="M731.8 1042.8 L731.8 1090.3" fill="none" stroke="#111" stroke-width="1.68"/>
<path d="M754.9 1052.2 L754.9 1100" fill="none" stroke="#111" stroke-width="1.68"/>
<path d="M778 1061.6 L778 1109.7" fill="none" stroke="#111" stroke-width="1.68"/>
<path d="M801.1 1071 L801.1 1119.3" fill="none" stroke="#111" stroke-width="1.68"/>
<path d="M824.2 1080.4 L824.2 1129" fill="none" stroke="#111" stroke-width="1.68"/>
<path d="M847.3 1089.8 L847.3 1138.7" fill="none" stroke="#111" stroke-width="1.68"/>
<path d="M870.4 1099.4 L870.4 1148.4" fill="none" stroke="#111" stroke-width="1.68"/>
<path d="M893.5 1109.7 L893.5 1158.1" fill="none" stroke="#111" stroke-width="1.68"/>
<path d="M916.6 1120 L916.6 1167.7" fill="none" stroke="#111" stroke-width="1.68"/>
<path d="M939.7 1130.4 L939.7 1177.4" fill="none" stroke="#111" stroke-width="1.68"/>
<path d="M962.8 1140.7 L962.8 1187.1" fill="none" stroke="#111" stroke-width="1.68"/>
<path d="M489 906.3 L499.8 901.4 L505.7 904.7 L506.5 926.3" fill="none" stroke="#111" stroke-width="2.02"/>
<path d="M489 906.3 L487.4 923 L486.6 977.7 L478.3 981 L479 991 L493.2 997.7 L504.8 992.7" fill="none" stroke="#111" stroke-width="2.02"/>
<path d="M495.7 942.9 L494.9 994.3" fill="none" stroke="#111" stroke-width="1.79"/>
<path d="M501.5 949 L504.8 991" fill="none" stroke="#1a1a1a" stroke-width="2.13" stroke-dasharray="6 1.6"/>
<path d="M493 909 L492 921" fill="none" stroke="#111" stroke-width="2.46"/>
<path d="M499.8 903 L499.8 925" fill="none" stroke="#111" stroke-width="1.57"/>
<path d="M1126.8 1073 L1057.9 1094.6 L988.1 1121.1 L969.9 1139.4" fill="none" stroke="#1a1a1a" stroke-width="2.35" stroke-dasharray="6 1.6"/>
<path d="M1122.6 1061.4 L1126.8 1063 L1127.6 1074.6 L1121 1073" fill="none" stroke="#111" stroke-width="2.02"/>
<path d="M1121 1073 C1118.6 1076.1 1106.9 1088.7 1102.7 1096.2 C1098.5 1103.7 1092.3 1121.9 1089.4 1129.4 C1086.5 1136.9 1082.2 1149.6 1081.1 1152.7" fill="none" stroke="#111" stroke-width="1.9"/>
<path d="M1081.1 1152.7 L1026.3 1173.4 L979.8 1191.7" fill="none" stroke="#1a1a1a" stroke-width="2.46" stroke-dasharray="6 1.6"/>
<path d="M969.9 1139.4 L973 1176 L979.8 1191.7" fill="none" stroke="#111" stroke-width="1.9" stroke-dasharray="9 2"/>
<path d="M979.5 1180 L979.8 1192" fill="none" stroke="#111" stroke-width="3.81"/>
<path d="M953.3 1134.4 L955 1176" fill="none" stroke="#1a1a1a" stroke-width="2.24" stroke-dasharray="10 3"/>
<ellipse cx="1038" cy="1136" rx="10.5" ry="14.5" transform="rotate(18 1038 1136)" fill="none" stroke="#111" stroke-width="1.9"/>
<ellipse cx="983.2" cy="1142.7" rx="2.4" ry="3.4" transform="rotate(15 983.2 1142.7)" fill="none" stroke="#111" stroke-width="1.57"/>
<ellipse cx="1003" cy="1132.7" rx="2.4" ry="3.4" transform="rotate(15 1003 1132.7)" fill="none" stroke="#111" stroke-width="1.57"/>
<ellipse cx="1011.4" cy="1152.7" rx="2.4" ry="3.4" transform="rotate(15 1011.4 1152.7)" fill="none" stroke="#111" stroke-width="1.57"/>
<ellipse cx="983.2" cy="1171" rx="2.4" ry="3.4" transform="rotate(15 983.2 1171)" fill="none" stroke="#111" stroke-width="1.57"/>
<ellipse cx="1003" cy="1176.7" rx="2.4" ry="3.4" transform="rotate(15 1003 1176.7)" fill="none" stroke="#111" stroke-width="1.57"/>
<ellipse cx="1061.2" cy="1131" rx="2.4" ry="3.4" transform="rotate(15 1061.2 1131)" fill="none" stroke="#111" stroke-width="1.57"/>
<ellipse cx="1062" cy="1153.5" rx="2.4" ry="3.4" transform="rotate(15 1062 1153.5)" fill="none" stroke="#111" stroke-width="1.57"/>
<ellipse cx="1085.3" cy="1110.3" rx="2.4" ry="3.4" transform="rotate(15 1085.3 1110.3)" fill="none" stroke="#111" stroke-width="1.57"/>
<ellipse cx="1098.6" cy="1084.6" rx="2.4" ry="3.4" transform="rotate(15 1098.6 1084.6)" fill="none" stroke="#111" stroke-width="1.57"/>
<ellipse cx="1026" cy="1173.5" rx="1.8" ry="1.5" fill="#111" stroke="#111" stroke-width="1.12"/>
<path d="M982 1126 L985 1120" fill="none" stroke="#111" stroke-width="2.8"/>
<path d="M988 1131 L995 1129" fill="none" stroke="#111" stroke-width="2.46"/>
<path d="M506.5 903 L553 881.4 L576.2 874.8" fill="none" stroke="#1a1a1a" stroke-width="2.13" stroke-dasharray="6 1.6"/>
<path d="M573 873.5 L613.4 856.2 L637 865" fill="none" stroke="#1a1a1a" stroke-width="2.02" stroke-dasharray="6 1.6"/>
<ellipse cx="516.5" cy="903" rx="4.2" ry="3" transform="rotate(-20 516.5 903)" fill="none" stroke="#111" stroke-width="1.46"/>
<ellipse cx="534.7" cy="901.4" rx="4.2" ry="3" transform="rotate(-20 534.7 901.4)" fill="none" stroke="#111" stroke-width="1.46"/>
<ellipse cx="546.3" cy="886.4" rx="4.2" ry="3" transform="rotate(-20 546.3 886.4)" fill="none" stroke="#111" stroke-width="1.46"/>
<ellipse cx="546.3" cy="895.5" rx="4.2" ry="3" transform="rotate(-20 546.3 895.5)" fill="none" stroke="#111" stroke-width="1.46"/>
<path d="M635.5 865.1 C637 862.6 641.3 861 645.2 861 C649.1 861 658.9 863.2 661.8 865.1 C664.7 867 664.8 870.9 664.6 873.4 C664.4 875.9 663.4 880 660.5 881.7 C657.6 883.4 649 885.1 645.2 884.5 C641.5 883.9 637 880.4 635.5 877.5 C634 874.6 634 867.6 635.5 865.1 Z" fill="none" stroke="#1a1a1a" stroke-width="2.13" stroke-dasharray="6 1.6"/>
<text x="649.2" y="877.2" font-size="15.5" fill="#111" text-anchor="middle" style="font-family:'Liberation Serif',serif" stroke="#111" stroke-width="0.5">II</text>
<path d="M642.5 878.6 L650.8 879.4" fill="none" stroke="#111" stroke-width="2.91"/>
<ellipse cx="644.5" cy="888" rx="12" ry="5.6" transform="rotate(-8 644.5 888)" fill="none" stroke="#111" stroke-width="2.91"/>
<ellipse cx="644.5" cy="888" rx="7" ry="2.8" transform="rotate(-8 644.5 888)" fill="none" stroke="#111" stroke-width="1.57" stroke-dasharray="2 1.5"/>
<path d="M661.8 872 C663.3 871.8 668 869.6 671.5 870.4 C675 871.2 682.3 875.4 685.4 877.5 C688.5 879.6 690.9 881.8 692.3 884.5 C693.6 887.2 694.2 892 694.4 895.5 C694.6 899 695.3 904.7 693.7 908 C692.1 911.3 687.1 917.1 684 917.7 C680.9 918.3 676.1 913.7 673 912 C669.9 910.3 664.7 907.4 663.2 906.6" fill="none" stroke="#1a1a1a" stroke-width="2.35" stroke-dasharray="6 1.6"/>
<path d="M663.2 902.4 L684 894.1 L693 885.8" fill="none" stroke="#1a1a1a" stroke-width="2.13" stroke-dasharray="6 1.6"/>
<path d="M684 894.1 L684 916.3" fill="none" stroke="#1a1a1a" stroke-width="2.13" stroke-dasharray="6 1.6"/>
<path d="M662 886 C663.2 885.5 667.8 884.4 670 883 C672.2 881.6 676 877.9 677 877" fill="none" stroke="#1a1a1a" stroke-width="1.9" stroke-dasharray="6 1.6"/>
<path d="M658 894 C656.8 895.2 652.7 899.9 650 902 C647.3 904.1 641.5 906.8 640 907.7" fill="none" stroke="#1a1a1a" stroke-width="2.02" stroke-dasharray="6 1.6"/>
<path d="M681 878.5 L686 880.5" fill="none" stroke="#111" stroke-width="2.46"/>
<path d="M685 917 L714.4 906.6 L714.4 897" fill="none" stroke="#1a1a1a" stroke-width="2.02" stroke-dasharray="6 1.6"/>
<ellipse cx="574" cy="901.5" rx="13.5" ry="7" transform="rotate(-5 574 901.5)" fill="none" stroke="#111" stroke-width="2.91"/>
<ellipse cx="574" cy="903" rx="8" ry="3.2" transform="rotate(-3 574 903)" fill="none" stroke="#111" stroke-width="2.02"/>
<path d="M564 897.5 L574 895.4 L584 897.5" fill="none" stroke="#111" stroke-width="3.14"/>
<ellipse cx="601.3" cy="935.3" rx="9.3" ry="5.2" transform="rotate(-5 601.3 935.3)" fill="none" stroke="#111" stroke-width="3.14"/>
<ellipse cx="601.3" cy="936" rx="4.5" ry="2" fill="#888" stroke="#111" stroke-width="1.34"/>
<ellipse cx="607.5" cy="916.6" rx="14.5" ry="6.2" transform="rotate(-5 607.5 916.6)" fill="none" stroke="#111" stroke-width="2.91"/>
<ellipse cx="607.5" cy="917" rx="8.5" ry="2.8" transform="rotate(-3 607.5 917)" fill="none" stroke="#111" stroke-width="1.79"/>
<ellipse cx="605" cy="902.4" rx="9.5" ry="3.8" transform="rotate(-5 605 902.4)" fill="none" stroke="#111" stroke-width="2.46"/>
<path d="M618 910 L626 913 L632 910.5" fill="none" stroke="#111" stroke-width="2.69"/>
<path d="M621 921 L629 923.5" fill="none" stroke="#111" stroke-width="3.14"/>
<path d="M576.0 880.0 l9 -2 l4 4 l-9 3 Z" fill="#111" stroke="#111" stroke-width="1.68"/>
<path d="M570 884 L590 878" fill="none" stroke="#111" stroke-width="1.79"/>
<path d="M578 875 L584 886" fill="none" stroke="#111" stroke-width="1.79"/>
<path d="M622 864 L622 877.5" fill="none" stroke="#111" stroke-width="2.24"/>
<path d="M615 865 C615.7 865.5 618.3 866.5 619 868 C619.7 869.5 619.7 872.5 619 874 C618.3 875.5 615.7 876.5 615 877" fill="none" stroke="#111" stroke-width="1.57"/>
<ellipse cx="657.5" cy="916.6" rx="10" ry="4.6" transform="rotate(-5 657.5 916.6)" fill="none" stroke="#111" stroke-width="3.36"/>
<ellipse cx="657.5" cy="917.2" rx="5" ry="2" fill="#999" stroke="#111" stroke-width="1.34"/>
<path d="M588.8 933 L588.8 960.2" fill="none" stroke="#111" stroke-width="2.24"/>
<path d="M589.9 931.5 C590.4 930.8 591.3 928 593 927 C594.7 926 598.8 925.8 600 925.5" fill="none" stroke="#111" stroke-width="2.02"/>
<path d="M635.5 922.9 L635.5 943.6" fill="none" stroke="#111" stroke-width="3.14"/>
<path d="M589.9 934 L601 938 L610 936 L635.5 924" fill="none" stroke="#1a1a1a" stroke-width="2.13" stroke-dasharray="6 1.6"/>
<path d="M610 936 L610 950" fill="none" stroke="#111" stroke-width="1.46"/>
<path d="M596 932 C597 932.8 600 936.7 602 937 C604 937.3 607 934.5 608 934" fill="none" stroke="#111" stroke-width="2.69"/>
<path d="M620 930 L624 933.5 L628 930" fill="none" stroke="#111" stroke-width="2.69"/>
<path d="M612 920.5 L618 923 L628 922" fill="none" stroke="#111" stroke-width="2.46"/>
<path d="M628 904 L638 908 L646 905" fill="none" stroke="#111" stroke-width="2.24"/>
<path d="M592 908 L608 901.5 L626 903 L634 896" fill="none" stroke="#1a1a1a" stroke-width="2.02" stroke-dasharray="6 1.6"/>
<path d="M715.5 898.9 C717 896.4 721.3 894.8 725.2 894.8 C729.1 894.8 738.9 897 741.8 898.9 C744.7 900.8 744.8 904.7 744.6 907.2 C744.4 909.7 743.4 913.8 740.5 915.5 C737.6 917.2 729 918.9 725.2 918.3 C721.5 917.7 717 914.2 715.5 911.3 C714 908.4 714 901.4 715.5 898.9 Z" fill="none" stroke="#1a1a1a" stroke-width="2.13" stroke-dasharray="6 1.6"/>
<text x="729.2" y="911" font-size="15.5" fill="#111" text-anchor="middle" style="font-family:'Liberation Serif',serif" stroke="#111" stroke-width="0.5">II</text>
<path d="M722.5 912.4 L730.8 913.2" fill="none" stroke="#111" stroke-width="2.91"/>
<ellipse cx="724.5" cy="921.8" rx="12" ry="5.6" transform="rotate(-8 724.5 921.8)" fill="none" stroke="#111" stroke-width="2.91"/>
<ellipse cx="724.5" cy="921.8" rx="7" ry="2.8" transform="rotate(-8 724.5 921.8)" fill="none" stroke="#111" stroke-width="1.57" stroke-dasharray="2 1.5"/>
<path d="M741.8 905.8 C743.3 905.6 748 903.4 751.5 904.2 C755 905 762.3 909.2 765.4 911.3 C768.5 913.4 770.9 915.6 772.3 918.3 C773.6 921 774.2 925.8 774.4 929.3 C774.6 932.8 775.3 938.5 773.7 941.8 C772.1 945.1 767.1 950.9 764 951.5 C760.9 952.1 756.1 947.5 753 945.8 C749.9 944.1 744.7 941.2 743.2 940.4" fill="none" stroke="#1a1a1a" stroke-width="2.35" stroke-dasharray="6 1.6"/>
<path d="M743.2 936.2 L764 927.9 L773 919.6" fill="none" stroke="#1a1a1a" stroke-width="2.13" stroke-dasharray="6 1.6"/>
<path d="M764 927.9 L764 950.1" fill="none" stroke="#1a1a1a" stroke-width="2.13" stroke-dasharray="6 1.6"/>
<path d="M742 919.8 C743.2 919.3 747.8 918.1 750 916.8 C752.2 915.4 756 911.7 757 910.8" fill="none" stroke="#1a1a1a" stroke-width="1.9" stroke-dasharray="6 1.6"/>
<path d="M738 927.8 C736.8 929 732.7 933.7 730 935.8 C727.3 937.9 721.5 940.6 720 941.5" fill="none" stroke="#1a1a1a" stroke-width="2.02" stroke-dasharray="6 1.6"/>
<path d="M761 912.3 L766 914.3" fill="none" stroke="#111" stroke-width="2.46"/>
<path d="M765 950.8 L794.4 940.4 L794.4 930.8" fill="none" stroke="#1a1a1a" stroke-width="2.02" stroke-dasharray="6 1.6"/>
<ellipse cx="654" cy="935.3" rx="13.5" ry="7" transform="rotate(-5 654 935.3)" fill="none" stroke="#111" stroke-width="2.91"/>
<ellipse cx="654" cy="936.8" rx="8" ry="3.2" transform="rotate(-3 654 936.8)" fill="none" stroke="#111" stroke-width="2.02"/>
<path d="M644 931.3 L654 929.2 L664 931.3" fill="none" stroke="#111" stroke-width="3.14"/>
<ellipse cx="681.3" cy="969.1" rx="9.3" ry="5.2" transform="rotate(-5 681.3 969.1)" fill="none" stroke="#111" stroke-width="3.14"/>
<ellipse cx="681.3" cy="969.8" rx="4.5" ry="2" fill="#888" stroke="#111" stroke-width="1.34"/>
<ellipse cx="687.5" cy="950.4" rx="14.5" ry="6.2" transform="rotate(-5 687.5 950.4)" fill="none" stroke="#111" stroke-width="2.91"/>
<ellipse cx="687.5" cy="950.8" rx="8.5" ry="2.8" transform="rotate(-3 687.5 950.8)" fill="none" stroke="#111" stroke-width="1.79"/>
<ellipse cx="685" cy="936.2" rx="9.5" ry="3.8" transform="rotate(-5 685 936.2)" fill="none" stroke="#111" stroke-width="2.46"/>
<path d="M698 943.8 L706 946.8 L712 944.3" fill="none" stroke="#111" stroke-width="2.69"/>
<path d="M701 954.8 L709 957.3" fill="none" stroke="#111" stroke-width="3.14"/>
<path d="M656.0 913.8 l9 -2 l4 4 l-9 3 Z" fill="#111" stroke="#111" stroke-width="1.68"/>
<path d="M650 917.8 L670 911.8" fill="none" stroke="#111" stroke-width="1.79"/>
<path d="M658 908.8 L664 919.8" fill="none" stroke="#111" stroke-width="1.79"/>
<path d="M702 897.8 L702 911.3" fill="none" stroke="#111" stroke-width="2.24"/>
<path d="M695 898.8 C695.7 899.3 698.3 900.3 699 901.8 C699.7 903.3 699.7 906.3 699 907.8 C698.3 909.3 695.7 910.3 695 910.8" fill="none" stroke="#111" stroke-width="1.57"/>
<ellipse cx="737.5" cy="950.4" rx="10" ry="4.6" transform="rotate(-5 737.5 950.4)" fill="none" stroke="#111" stroke-width="3.36"/>
<ellipse cx="737.5" cy="951" rx="5" ry="2" fill="#999" stroke="#111" stroke-width="1.34"/>
<path d="M668.8 966.8 L668.8 994" fill="none" stroke="#111" stroke-width="2.24"/>
<path d="M669.9 965.3 C670.4 964.5 671.3 961.8 673 960.8 C674.7 959.8 678.8 959.5 680 959.3" fill="none" stroke="#111" stroke-width="2.02"/>
<path d="M715.5 956.7 L715.5 977.4" fill="none" stroke="#111" stroke-width="3.14"/>
<path d="M669.9 967.8 L681 971.8 L690 969.8 L715.5 957.8" fill="none" stroke="#1a1a1a" stroke-width="2.13" stroke-dasharray="6 1.6"/>
<path d="M690 969.8 L690 983.8" fill="none" stroke="#111" stroke-width="1.46"/>
<path d="M676 965.8 C677 966.6 680 970.5 682 970.8 C684 971.1 687 968.3 688 967.8" fill="none" stroke="#111" stroke-width="2.69"/>
<path d="M700 963.8 L704 967.3 L708 963.8" fill="none" stroke="#111" stroke-width="2.69"/>
<path d="M692 954.3 L698 956.8 L708 955.8" fill="none" stroke="#111" stroke-width="2.46"/>
<path d="M708 937.8 L718 941.8 L726 938.8" fill="none" stroke="#111" stroke-width="2.24"/>
<path d="M672 941.8 L688 935.3 L706 936.8 L714 929.8" fill="none" stroke="#1a1a1a" stroke-width="2.02" stroke-dasharray="6 1.6"/>
<path d="M795.5 932.7 C797 930.2 801.3 928.6 805.2 928.6 C809.1 928.6 818.9 930.8 821.8 932.7 C824.7 934.6 824.8 938.5 824.6 941 C824.4 943.5 823.4 947.6 820.5 949.3 C817.6 951 809 952.7 805.2 952.1 C801.5 951.5 797 948 795.5 945.1 C794 942.2 794 935.2 795.5 932.7 Z" fill="none" stroke="#1a1a1a" stroke-width="2.13" stroke-dasharray="6 1.6"/>
<text x="809.2" y="944.8" font-size="15.5" fill="#111" text-anchor="middle" style="font-family:'Liberation Serif',serif" stroke="#111" stroke-width="0.5">II</text>
<path d="M802.5 946.2 L810.8 947" fill="none" stroke="#111" stroke-width="2.91"/>
<ellipse cx="804.5" cy="955.6" rx="12" ry="5.6" transform="rotate(-8 804.5 955.6)" fill="none" stroke="#111" stroke-width="2.91"/>
<ellipse cx="804.5" cy="955.6" rx="7" ry="2.8" transform="rotate(-8 804.5 955.6)" fill="none" stroke="#111" stroke-width="1.57" stroke-dasharray="2 1.5"/>
<path d="M821.8 939.6 C823.3 939.4 828 937.2 831.5 938 C835 938.8 842.3 943 845.4 945.1 C848.5 947.2 850.9 949.4 852.3 952.1 C853.6 954.8 854.2 959.6 854.4 963.1 C854.6 966.6 855.3 972.3 853.7 975.6 C852.1 978.9 847.1 984.7 844 985.3 C840.9 985.9 836.1 981.3 833 979.6 C829.9 977.9 824.7 975 823.2 974.2" fill="none" stroke="#1a1a1a" stroke-width="2.35" stroke-dasharray="6 1.6"/>
<path d="M823.2 970 L844 961.7 L853 953.4" fill="none" stroke="#1a1a1a" stroke-width="2.13" stroke-dasharray="6 1.6"/>
<path d="M844 961.7 L844 983.9" fill="none" stroke="#1a1a1a" stroke-width="2.13" stroke-dasharray="6 1.6"/>
<path d="M822 953.6 C823.2 953.1 827.8 952 830 950.6 C832.2 949.2 836 945.5 837 944.6" fill="none" stroke="#1a1a1a" stroke-width="1.9" stroke-dasharray="6 1.6"/>
<path d="M818 961.6 C816.8 962.8 812.7 967.5 810 969.6 C807.3 971.7 801.5 974.4 800 975.3" fill="none" stroke="#1a1a1a" stroke-width="2.02" stroke-dasharray="6 1.6"/>
<path d="M841 946.1 L846 948.1" fill="none" stroke="#111" stroke-width="2.46"/>
<path d="M845 984.6 L874.4 974.2 L874.4 964.6" fill="none" stroke="#1a1a1a" stroke-width="2.02" stroke-dasharray="6 1.6"/>
<ellipse cx="734" cy="969.1" rx="13.5" ry="7" transform="rotate(-5 734 969.1)" fill="none" stroke="#111" stroke-width="2.91"/>
<ellipse cx="734" cy="970.6" rx="8" ry="3.2" transform="rotate(-3 734 970.6)" fill="none" stroke="#111" stroke-width="2.02"/>
<path d="M724 965.1 L734 963 L744 965.1" fill="none" stroke="#111" stroke-width="3.14"/>
<ellipse cx="761.3" cy="1002.9" rx="9.3" ry="5.2" transform="rotate(-5 761.3 1002.9)" fill="none" stroke="#111" stroke-width="3.14"/>
<ellipse cx="761.3" cy="1003.6" rx="4.5" ry="2" fill="#888" stroke="#111" stroke-width="1.34"/>
<ellipse cx="767.5" cy="984.2" rx="14.5" ry="6.2" transform="rotate(-5 767.5 984.2)" fill="none" stroke="#111" stroke-width="2.91"/>
<ellipse cx="767.5" cy="984.6" rx="8.5" ry="2.8" transform="rotate(-3 767.5 984.6)" fill="none" stroke="#111" stroke-width="1.79"/>
<ellipse cx="765" cy="970" rx="9.5" ry="3.8" transform="rotate(-5 765 970)" fill="none" stroke="#111" stroke-width="2.46"/>
<path d="M778 977.6 L786 980.6 L792 978.1" fill="none" stroke="#111" stroke-width="2.69"/>
<path d="M781 988.6 L789 991.1" fill="none" stroke="#111" stroke-width="3.14"/>
<path d="M736.0 947.6 l9 -2 l4 4 l-9 3 Z" fill="#111" stroke="#111" stroke-width="1.68"/>
<path d="M730 951.6 L750 945.6" fill="none" stroke="#111" stroke-width="1.79"/>
<path d="M738 942.6 L744 953.6" fill="none" stroke="#111" stroke-width="1.79"/>
<path d="M782 931.6 L782 945.1" fill="none" stroke="#111" stroke-width="2.24"/>
<path d="M775 932.6 C775.7 933.1 778.3 934.1 779 935.6 C779.7 937.1 779.7 940.1 779 941.6 C778.3 943.1 775.7 944.1 775 944.6" fill="none" stroke="#111" stroke-width="1.57"/>
<ellipse cx="817.5" cy="984.2" rx="10" ry="4.6" transform="rotate(-5 817.5 984.2)" fill="none" stroke="#111" stroke-width="3.36"/>
<ellipse cx="817.5" cy="984.8" rx="5" ry="2" fill="#999" stroke="#111" stroke-width="1.34"/>
<path d="M748.8 1000.6 L748.8 1027.8" fill="none" stroke="#111" stroke-width="2.24"/>
<path d="M749.9 999.1 C750.4 998.4 751.3 995.6 753 994.6 C754.7 993.6 758.8 993.4 760 993.1" fill="none" stroke="#111" stroke-width="2.02"/>
<path d="M795.5 990.5 L795.5 1011.2" fill="none" stroke="#111" stroke-width="3.14"/>
<path d="M749.9 1001.6 L761 1005.6 L770 1003.6 L795.5 991.6" fill="none" stroke="#1a1a1a" stroke-width="2.13" stroke-dasharray="6 1.6"/>
<path d="M770 1003.6 L770 1017.6" fill="none" stroke="#111" stroke-width="1.46"/>
<path d="M756 999.6 C757 1000.4 760 1004.3 762 1004.6 C764 1004.9 767 1002.1 768 1001.6" fill="none" stroke="#111" stroke-width="2.69"/>
<path d="M780 997.6 L784 1001.1 L788 997.6" fill="none" stroke="#111" stroke-width="2.69"/>
<path d="M772 988.1 L778 990.6 L788 989.6" fill="none" stroke="#111" stroke-width="2.46"/>
<path d="M788 971.6 L798 975.6 L806 972.6" fill="none" stroke="#111" stroke-width="2.24"/>
<path d="M752 975.6 L768 969.1 L786 970.6 L794 963.6" fill="none" stroke="#1a1a1a" stroke-width="2.02" stroke-dasharray="6 1.6"/>
<path d="M875.5 966.5 C877 964 881.3 962.4 885.2 962.4 C889.1 962.4 898.9 964.6 901.8 966.5 C904.7 968.4 904.8 972.3 904.6 974.8 C904.4 977.3 903.4 981.4 900.5 983.1 C897.6 984.8 889 986.5 885.2 985.9 C881.5 985.3 877 981.8 875.5 978.9 C874 976 874 969 875.5 966.5 Z" fill="none" stroke="#1a1a1a" stroke-width="2.13" stroke-dasharray="6 1.6"/>
<text x="889.2" y="978.6" font-size="15.5" fill="#111" text-anchor="middle" style="font-family:'Liberation Serif',serif" stroke="#111" stroke-width="0.5">II</text>
<path d="M882.5 980 L890.8 980.8" fill="none" stroke="#111" stroke-width="2.91"/>
<ellipse cx="884.5" cy="989.4" rx="12" ry="5.6" transform="rotate(-8 884.5 989.4)" fill="none" stroke="#111" stroke-width="2.91"/>
<ellipse cx="884.5" cy="989.4" rx="7" ry="2.8" transform="rotate(-8 884.5 989.4)" fill="none" stroke="#111" stroke-width="1.57" stroke-dasharray="2 1.5"/>
<path d="M901.8 973.4 C903.3 973.2 908 971 911.5 971.8 C915 972.6 922.3 976.8 925.4 978.9 C928.5 981 930.9 983.2 932.3 985.9 C933.6 988.6 934.2 993.4 934.4 996.9 C934.6 1000.4 935.3 1006.1 933.7 1009.4 C932.1 1012.7 927.1 1018.5 924 1019.1 C920.9 1019.7 916.1 1015.1 913 1013.4 C909.9 1011.7 904.7 1008.8 903.2 1008" fill="none" stroke="#1a1a1a" stroke-width="2.35" stroke-dasharray="6 1.6"/>
<path d="M903.2 1003.8 L924 995.5 L933 987.2" fill="none" stroke="#1a1a1a" stroke-width="2.13" stroke-dasharray="6 1.6"/>
<path d="M924 995.5 L924 1017.7" fill="none" stroke="#1a1a1a" stroke-width="2.13" stroke-dasharray="6 1.6"/>
<path d="M902 987.4 C903.2 986.9 907.8 985.8 910 984.4 C912.2 983 916 979.3 917 978.4" fill="none" stroke="#1a1a1a" stroke-width="1.9" stroke-dasharray="6 1.6"/>
<path d="M898 995.4 C896.8 996.6 892.7 1001.3 890 1003.4 C887.3 1005.5 881.5 1008.2 880 1009.1" fill="none" stroke="#1a1a1a" stroke-width="2.02" stroke-dasharray="6 1.6"/>
<path d="M921 979.9 L926 981.9" fill="none" stroke="#111" stroke-width="2.46"/>
<path d="M925 1018.4 L954.4 1008 L954.4 998.4" fill="none" stroke="#1a1a1a" stroke-width="2.02" stroke-dasharray="6 1.6"/>
<ellipse cx="814" cy="1002.9" rx="13.5" ry="7" transform="rotate(-5 814 1002.9)" fill="none" stroke="#111" stroke-width="2.91"/>
<ellipse cx="814" cy="1004.4" rx="8" ry="3.2" transform="rotate(-3 814 1004.4)" fill="none" stroke="#111" stroke-width="2.02"/>
<path d="M804 998.9 L814 996.8 L824 998.9" fill="none" stroke="#111" stroke-width="3.14"/>
<ellipse cx="841.3" cy="1036.7" rx="9.3" ry="5.2" transform="rotate(-5 841.3 1036.7)" fill="none" stroke="#111" stroke-width="3.14"/>
<ellipse cx="841.3" cy="1037.4" rx="4.5" ry="2" fill="#888" stroke="#111" stroke-width="1.34"/>
<ellipse cx="847.5" cy="1018" rx="14.5" ry="6.2" transform="rotate(-5 847.5 1018)" fill="none" stroke="#111" stroke-width="2.91"/>
<ellipse cx="847.5" cy="1018.4" rx="8.5" ry="2.8" transform="rotate(-3 847.5 1018.4)" fill="none" stroke="#111" stroke-width="1.79"/>
<ellipse cx="845" cy="1003.8" rx="9.5" ry="3.8" transform="rotate(-5 845 1003.8)" fill="none" stroke="#111" stroke-width="2.46"/>
<path d="M858 1011.4 L866 1014.4 L872 1011.9" fill="none" stroke="#111" stroke-width="2.69"/>
<path d="M861 1022.4 L869 1024.9" fill="none" stroke="#111" stroke-width="3.14"/>
<path d="M816.0 981.4 l9 -2 l4 4 l-9 3 Z" fill="#111" stroke="#111" stroke-width="1.68"/>
<path d="M810 985.4 L830 979.4" fill="none" stroke="#111" stroke-width="1.79"/>
<path d="M818 976.4 L824 987.4" fill="none" stroke="#111" stroke-width="1.79"/>
<path d="M862 965.4 L862 978.9" fill="none" stroke="#111" stroke-width="2.24"/>
<path d="M855 966.4 C855.7 966.9 858.3 967.9 859 969.4 C859.7 970.9 859.7 973.9 859 975.4 C858.3 976.9 855.7 977.9 855 978.4" fill="none" stroke="#111" stroke-width="1.57"/>
<ellipse cx="897.5" cy="1018" rx="10" ry="4.6" transform="rotate(-5 897.5 1018)" fill="none" stroke="#111" stroke-width="3.36"/>
<ellipse cx="897.5" cy="1018.6" rx="5" ry="2" fill="#999" stroke="#111" stroke-width="1.34"/>
<path d="M828.8 1034.4 L828.8 1061.6" fill="none" stroke="#111" stroke-width="2.24"/>
<path d="M829.9 1032.9 C830.4 1032.2 831.3 1029.4 833 1028.4 C834.7 1027.4 838.8 1027.2 840 1026.9" fill="none" stroke="#111" stroke-width="2.02"/>
<path d="M875.5 1024.3 L875.5 1045" fill="none" stroke="#111" stroke-width="3.14"/>
<path d="M829.9 1035.4 L841 1039.4 L850 1037.4 L875.5 1025.4" fill="none" stroke="#1a1a1a" stroke-width="2.13" stroke-dasharray="6 1.6"/>
<path d="M850 1037.4 L850 1051.4" fill="none" stroke="#111" stroke-width="1.46"/>
<path d="M836 1033.4 C837 1034.2 840 1038.1 842 1038.4 C844 1038.7 847 1035.9 848 1035.4" fill="none" stroke="#111" stroke-width="2.69"/>
<path d="M860 1031.4 L864 1034.9 L868 1031.4" fill="none" stroke="#111" stroke-width="2.69"/>
<path d="M852 1021.9 L858 1024.4 L868 1023.4" fill="none" stroke="#111" stroke-width="2.46"/>
<path d="M868 1005.4 L878 1009.4 L886 1006.4" fill="none" stroke="#111" stroke-width="2.24"/>
<path d="M832 1009.4 L848 1002.9 L866 1004.4 L874 997.4" fill="none" stroke="#1a1a1a" stroke-width="2.02" stroke-dasharray="6 1.6"/>
<path d="M955.5 1000.3 C957 997.8 961.3 996.2 965.2 996.2 C969.1 996.2 978.9 998.4 981.8 1000.3 C984.7 1002.2 984.8 1006.1 984.6 1008.6 C984.4 1011.1 983.4 1015.2 980.5 1016.9 C977.6 1018.6 969 1020.3 965.2 1019.7 C961.5 1019.1 957 1015.6 955.5 1012.7 C954 1009.8 954 1002.8 955.5 1000.3 Z" fill="none" stroke="#1a1a1a" stroke-width="2.13" stroke-dasharray="6 1.6"/>
<text x="969.2" y="1012.4" font-size="15.5" fill="#111" text-anchor="middle" style="font-family:'Liberation Serif',serif" stroke="#111" stroke-width="0.5">II</text>
<path d="M962.5 1013.8 L970.8 1014.6" fill="none" stroke="#111" stroke-width="2.91"/>
<ellipse cx="964.5" cy="1023.2" rx="12" ry="5.6" transform="rotate(-8 964.5 1023.2)" fill="none" stroke="#111" stroke-width="2.91"/>
<ellipse cx="964.5" cy="1023.2" rx="7" ry="2.8" transform="rotate(-8 964.5 1023.2)" fill="none" stroke="#111" stroke-width="1.57" stroke-dasharray="2 1.5"/>
<path d="M981.8 1007.2 C983.3 1007 988 1004.8 991.5 1005.6 C995 1006.4 1002.3 1010.6 1005.4 1012.7 C1008.5 1014.8 1010.9 1017 1012.3 1019.7 C1013.6 1022.4 1014.2 1027.2 1014.4 1030.7 C1014.6 1034.2 1015.3 1039.9 1013.7 1043.2 C1012.1 1046.5 1007.1 1052.3 1004 1052.9 C1000.9 1053.5 996.1 1048.9 993 1047.2 C989.9 1045.5 984.7 1042.6 983.2 1041.8" fill="none" stroke="#1a1a1a" stroke-width="2.35" stroke-dasharray="6 1.6"/>
<path d="M983.2 1037.6 L1004 1029.3 L1013 1021" fill="none" stroke="#1a1a1a" stroke-width="2.13" stroke-dasharray="6 1.6"/>
<path d="M1004 1029.3 L1004 1051.5" fill="none" stroke="#1a1a1a" stroke-width="2.13" stroke-dasharray="6 1.6"/>
<path d="M982 1021.2 C983.2 1020.8 987.8 1019.6 990 1018.2 C992.2 1016.9 996 1013.1 997 1012.2" fill="none" stroke="#1a1a1a" stroke-width="1.9" stroke-dasharray="6 1.6"/>
<path d="M978 1029.2 C976.8 1030.4 972.7 1035.1 970 1037.2 C967.3 1039.3 961.5 1042 960 1042.9" fill="none" stroke="#1a1a1a" stroke-width="2.02" stroke-dasharray="6 1.6"/>
<path d="M1001 1013.7 L1006 1015.7" fill="none" stroke="#111" stroke-width="2.46"/>
<path d="M1005 1052.2 L1034.4 1041.8 L1034.4 1032.2" fill="none" stroke="#1a1a1a" stroke-width="2.02" stroke-dasharray="6 1.6"/>
<ellipse cx="894" cy="1036.7" rx="13.5" ry="7" transform="rotate(-5 894 1036.7)" fill="none" stroke="#111" stroke-width="2.91"/>
<ellipse cx="894" cy="1038.2" rx="8" ry="3.2" transform="rotate(-3 894 1038.2)" fill="none" stroke="#111" stroke-width="2.02"/>
<path d="M884 1032.7 L894 1030.6 L904 1032.7" fill="none" stroke="#111" stroke-width="3.14"/>
<ellipse cx="921.3" cy="1070.5" rx="9.3" ry="5.2" transform="rotate(-5 921.3 1070.5)" fill="none" stroke="#111" stroke-width="3.14"/>
<ellipse cx="921.3" cy="1071.2" rx="4.5" ry="2" fill="#888" stroke="#111" stroke-width="1.34"/>
<ellipse cx="927.5" cy="1051.8" rx="14.5" ry="6.2" transform="rotate(-5 927.5 1051.8)" fill="none" stroke="#111" stroke-width="2.91"/>
<ellipse cx="927.5" cy="1052.2" rx="8.5" ry="2.8" transform="rotate(-3 927.5 1052.2)" fill="none" stroke="#111" stroke-width="1.79"/>
<ellipse cx="925" cy="1037.6" rx="9.5" ry="3.8" transform="rotate(-5 925 1037.6)" fill="none" stroke="#111" stroke-width="2.46"/>
<path d="M938 1045.2 L946 1048.2 L952 1045.7" fill="none" stroke="#111" stroke-width="2.69"/>
<path d="M941 1056.2 L949 1058.7" fill="none" stroke="#111" stroke-width="3.14"/>
<path d="M896.0 1015.2 l9 -2 l4 4 l-9 3 Z" fill="#111" stroke="#111" stroke-width="1.68"/>
<path d="M890 1019.2 L910 1013.2" fill="none" stroke="#111" stroke-width="1.79"/>
<path d="M898 1010.2 L904 1021.2" fill="none" stroke="#111" stroke-width="1.79"/>
<path d="M942 999.2 L942 1012.7" fill="none" stroke="#111" stroke-width="2.24"/>
<path d="M935 1000.2 C935.7 1000.7 938.3 1001.7 939 1003.2 C939.7 1004.7 939.7 1007.7 939 1009.2 C938.3 1010.7 935.7 1011.7 935 1012.2" fill="none" stroke="#111" stroke-width="1.57"/>
<ellipse cx="977.5" cy="1051.8" rx="10" ry="4.6" transform="rotate(-5 977.5 1051.8)" fill="none" stroke="#111" stroke-width="3.36"/>
<ellipse cx="977.5" cy="1052.4" rx="5" ry="2" fill="#999" stroke="#111" stroke-width="1.34"/>
<path d="M908.8 1068.2 L908.8 1095.4" fill="none" stroke="#111" stroke-width="2.24"/>
<path d="M909.9 1066.7 C910.4 1066 911.3 1063.2 913 1062.2 C914.7 1061.2 918.8 1061 920 1060.7" fill="none" stroke="#111" stroke-width="2.02"/>
<path d="M955.5 1058.1 L955.5 1078.8" fill="none" stroke="#111" stroke-width="3.14"/>
<path d="M909.9 1069.2 L921 1073.2 L930 1071.2 L955.5 1059.2" fill="none" stroke="#1a1a1a" stroke-width="2.13" stroke-dasharray="6 1.6"/>
<path d="M930 1071.2 L930 1085.2" fill="none" stroke="#111" stroke-width="1.46"/>
<path d="M916 1067.2 C917 1068 920 1071.9 922 1072.2 C924 1072.5 927 1069.7 928 1069.2" fill="none" stroke="#111" stroke-width="2.69"/>
<path d="M940 1065.2 L944 1068.7 L948 1065.2" fill="none" stroke="#111" stroke-width="2.69"/>
<path d="M932 1055.7 L938 1058.2 L948 1057.2" fill="none" stroke="#111" stroke-width="2.46"/>
<path d="M948 1039.2 L958 1043.2 L966 1040.2" fill="none" stroke="#111" stroke-width="2.24"/>
<path d="M912 1043.2 L928 1036.7 L946 1038.2 L954 1031.2" fill="none" stroke="#1a1a1a" stroke-width="2.02" stroke-dasharray="6 1.6"/>
<path d="M1035.5 1034.1 C1037 1031.6 1041.3 1030 1045.2 1030 C1049.1 1030 1058.9 1032.2 1061.8 1034.1 C1064.7 1036 1064.8 1039.9 1064.6 1042.4 C1064.4 1044.9 1063.4 1049 1060.5 1050.7 C1057.6 1052.4 1049 1054.1 1045.2 1053.5 C1041.5 1052.9 1037 1049.4 1035.5 1046.5 C1034 1043.6 1034 1036.6 1035.5 1034.1 Z" fill="none" stroke="#1a1a1a" stroke-width="2.13" stroke-dasharray="6 1.6"/>
<text x="1049.2" y="1046.2" font-size="15.5" fill="#111" text-anchor="middle" style="font-family:'Liberation Serif',serif" stroke="#111" stroke-width="0.5">III</text>
<path d="M1042.5 1047.6 L1050.8 1048.4" fill="none" stroke="#111" stroke-width="2.91"/>
<ellipse cx="1044.5" cy="1057" rx="12" ry="5.6" transform="rotate(-8 1044.5 1057)" fill="none" stroke="#111" stroke-width="2.91"/>
<ellipse cx="1044.5" cy="1057" rx="7" ry="2.8" transform="rotate(-8 1044.5 1057)" fill="none" stroke="#111" stroke-width="1.57" stroke-dasharray="2 1.5"/>
<ellipse cx="974" cy="1070.5" rx="13.5" ry="7" transform="rotate(-5 974 1070.5)" fill="none" stroke="#111" stroke-width="2.91"/>
<ellipse cx="974" cy="1072" rx="8" ry="3.2" transform="rotate(-3 974 1072)" fill="none" stroke="#111" stroke-width="2.02"/>
<path d="M964 1066.5 L974 1064.4 L984 1066.5" fill="none" stroke="#111" stroke-width="3.14"/>
<ellipse cx="1001.3" cy="1104.3" rx="9.3" ry="5.2" transform="rotate(-5 1001.3 1104.3)" fill="none" stroke="#111" stroke-width="3.14"/>
<ellipse cx="1001.3" cy="1105" rx="4.5" ry="2" fill="#888" stroke="#111" stroke-width="1.34"/>
<ellipse cx="1007.5" cy="1085.6" rx="14.5" ry="6.2" transform="rotate(-5 1007.5 1085.6)" fill="none" stroke="#111" stroke-width="2.91"/>
<ellipse cx="1007.5" cy="1086" rx="8.5" ry="2.8" transform="rotate(-3 1007.5 1086)" fill="none" stroke="#111" stroke-width="1.79"/>
<ellipse cx="1005" cy="1071.4" rx="9.5" ry="3.8" transform="rotate(-5 1005 1071.4)" fill="none" stroke="#111" stroke-width="2.46"/>
<path d="M1018 1079 L1026 1082 L1032 1079.5" fill="none" stroke="#111" stroke-width="2.69"/>
<path d="M1021 1090 L1029 1092.5" fill="none" stroke="#111" stroke-width="3.14"/>
<path d="M976.0 1049.0 l9 -2 l4 4 l-9 3 Z" fill="#111" stroke="#111" stroke-width="1.68"/>
<path d="M970 1053 L990 1047" fill="none" stroke="#111" stroke-width="1.79"/>
<path d="M978 1044 L984 1055" fill="none" stroke="#111" stroke-width="1.79"/>
<path d="M1022 1033 L1022 1046.5" fill="none" stroke="#111" stroke-width="2.24"/>
<path d="M1015 1034 C1015.7 1034.5 1018.3 1035.5 1019 1037 C1019.7 1038.5 1019.7 1041.5 1019 1043 C1018.3 1044.5 1015.7 1045.5 1015 1046" fill="none" stroke="#111" stroke-width="1.57"/>
<ellipse cx="1057.5" cy="1085.6" rx="10" ry="4.6" transform="rotate(-5 1057.5 1085.6)" fill="none" stroke="#111" stroke-width="3.36"/>
<ellipse cx="1057.5" cy="1086.2" rx="5" ry="2" fill="#999" stroke="#111" stroke-width="1.34"/>
<path d="M988.8 1102 L988.8 1129.2" fill="none" stroke="#111" stroke-width="2.24"/>
<path d="M989.9 1100.5 C990.4 1099.8 991.3 1097 993 1096 C994.7 1095 998.8 1094.8 1000 1094.5" fill="none" stroke="#111" stroke-width="2.02"/>
<path d="M1035.5 1091.9 L1035.5 1112.6" fill="none" stroke="#111" stroke-width="3.14"/>
<path d="M989.9 1103 L1001 1107 L1010 1105 L1035.5 1093" fill="none" stroke="#1a1a1a" stroke-width="2.13" stroke-dasharray="6 1.6"/>
<path d="M1010 1105 L1010 1119" fill="none" stroke="#111" stroke-width="1.46"/>
<path d="M996 1101 C997 1101.8 1000 1105.7 1002 1106 C1004 1106.3 1007 1103.5 1008 1103" fill="none" stroke="#111" stroke-width="2.69"/>
<path d="M1020 1099 L1024 1102.5 L1028 1099" fill="none" stroke="#111" stroke-width="2.69"/>
<path d="M1012 1089.5 L1018 1092 L1028 1091" fill="none" stroke="#111" stroke-width="2.46"/>
<path d="M1028 1073 L1038 1077 L1046 1074" fill="none" stroke="#111" stroke-width="2.24"/>
<path d="M992 1077 L1008 1070.5 L1026 1072 L1034 1065" fill="none" stroke="#1a1a1a" stroke-width="2.02" stroke-dasharray="6 1.6"/>
<path d="M515.4 926.8 C521.2 922.8 556.1 909.6 565.2 906.7 C574.3 903.8 573.5 906.3 576 907.7 C578.5 909.1 581.5 913.7 581.8 916.2 C582.1 918.7 583.8 920.5 578 924.2 C572.2 927.9 550.8 939.2 543.1 940.6 C535.4 942 530.7 935.8 526.5 933.7 C522.3 931.6 509.6 930.9 515.4 926.8 Z" fill="none" stroke="#1a1a1a" stroke-width="2.35" stroke-dasharray="6 1.6"/>
<path d="M516.1 926.4 L557 908.7" fill="none" stroke="#111" stroke-width="2.91"/>
<path d="M523 934.2 L541 939.7" fill="none" stroke="#111" stroke-width="2.46"/>
<path d="M543.1 942.6 C545.8 938.9 575.5 925 580.5 926 C585.5 927 577.8 945.1 576.3 949.5 C574.8 953.9 572.9 954.9 570.8 955.1 C568.7 955.3 566.7 952.8 562.5 950.9 C558.3 949 540.4 946.3 543.1 942.6 Z" fill="none" stroke="#1a1a1a" stroke-width="2.13" stroke-dasharray="6 1.6"/>
<path d="M528.0 931.7 l8 -3.5 l3 5 l-8 1.5 Z" fill="#111" stroke="#111" stroke-width="1.12"/>
<path d="M560.0 945.7 l8 -1 l1 3.5 l-7 1 Z" fill="#111" stroke="#111" stroke-width="1.12"/>
<path d="M562.5 907.4 C563.6 908.1 568.3 910 569.4 911.6 C570.5 913.2 569.9 915.6 569 917.2 C568.1 918.8 564.7 920.5 563.8 921.2" fill="none" stroke="#111" stroke-width="2.46"/>
<path d="M532 924.2 L564 910.7" fill="none" stroke="#1a1a1a" stroke-width="2.02" stroke-dasharray="6 1.6"/>
<path d="M538 930.2 L568 917.2" fill="none" stroke="#1a1a1a" stroke-width="2.02" stroke-dasharray="6 1.6"/>
<path d="M554 909.2 L560 906.7" fill="none" stroke="#111" stroke-width="2.91"/>
<path d="M581.8 918.2 L576.3 949.5" fill="none" stroke="#1a1a1a" stroke-width="2.02" stroke-dasharray="6 1.6"/>
<path d="M588.5 926.2 L588.5 954.2" fill="none" stroke="#111" stroke-width="1.79"/>
<path d="M576.3 951.2 C576.9 952 578 955.7 580 956.2 C582 956.7 587.1 954.5 588.5 954.2" fill="none" stroke="#111" stroke-width="1.68"/>
<path d="M595.4 960.6 C601.2 956.6 636.1 943.4 645.2 940.5 C654.3 937.6 653.5 940.1 656 941.5 C658.5 942.9 661.5 947.5 661.8 950 C662.1 952.5 663.8 954.3 658 958 C652.2 961.7 630.8 973 623.1 974.4 C615.4 975.8 610.7 969.6 606.5 967.5 C602.3 965.4 589.6 964.6 595.4 960.6 Z" fill="none" stroke="#1a1a1a" stroke-width="2.35" stroke-dasharray="6 1.6"/>
<path d="M596.1 960.2 L637 942.5" fill="none" stroke="#111" stroke-width="2.91"/>
<path d="M603 968 L621 973.5" fill="none" stroke="#111" stroke-width="2.46"/>
<path d="M623.1 976.4 C625.8 972.7 655.5 958.8 660.5 959.8 C665.5 960.8 657.8 978.9 656.3 983.3 C654.8 987.7 652.9 988.7 650.8 988.9 C648.7 989.1 646.7 986.6 642.5 984.7 C638.3 982.8 620.4 980.1 623.1 976.4 Z" fill="none" stroke="#1a1a1a" stroke-width="2.13" stroke-dasharray="6 1.6"/>
<path d="M608.0 965.5 l8 -3.5 l3 5 l-8 1.5 Z" fill="#111" stroke="#111" stroke-width="1.12"/>
<path d="M640.0 979.5 l8 -1 l1 3.5 l-7 1 Z" fill="#111" stroke="#111" stroke-width="1.12"/>
<path d="M642.5 941.2 C643.6 941.9 648.3 943.8 649.4 945.4 C650.5 947 649.9 949.4 649 951 C648.1 952.6 644.7 954.3 643.8 955" fill="none" stroke="#111" stroke-width="2.46"/>
<path d="M612 958 L644 944.5" fill="none" stroke="#1a1a1a" stroke-width="2.02" stroke-dasharray="6 1.6"/>
<path d="M618 964 L648 951" fill="none" stroke="#1a1a1a" stroke-width="2.02" stroke-dasharray="6 1.6"/>
<path d="M634 943 L640 940.5" fill="none" stroke="#111" stroke-width="2.91"/>
<path d="M661.8 952 L656.3 983.3" fill="none" stroke="#1a1a1a" stroke-width="2.02" stroke-dasharray="6 1.6"/>
<path d="M668.5 960 L668.5 988" fill="none" stroke="#111" stroke-width="1.79"/>
<path d="M656.3 985 C656.9 985.8 658 989.5 660 990 C662 990.5 667.1 988.3 668.5 988" fill="none" stroke="#111" stroke-width="1.68"/>
<path d="M675.4 994.4 C681.2 990.4 716.1 977.2 725.2 974.3 C734.3 971.4 733.5 973.9 736 975.3 C738.5 976.7 741.5 981.3 741.8 983.8 C742.1 986.3 743.8 988.1 738 991.8 C732.2 995.5 710.8 1006.8 703.1 1008.2 C695.4 1009.6 690.7 1003.4 686.5 1001.3 C682.3 999.2 669.6 998.4 675.4 994.4 Z" fill="none" stroke="#1a1a1a" stroke-width="2.35" stroke-dasharray="6 1.6"/>
<path d="M676.1 994 L717 976.3" fill="none" stroke="#111" stroke-width="2.91"/>
<path d="M683 1001.8 L701 1007.3" fill="none" stroke="#111" stroke-width="2.46"/>
<path d="M703.1 1010.2 C705.8 1006.5 735.5 992.6 740.5 993.6 C745.5 994.6 737.8 1012.7 736.3 1017.1 C734.8 1021.5 732.9 1022.5 730.8 1022.7 C728.7 1022.9 726.7 1020.4 722.5 1018.5 C718.3 1016.6 700.4 1013.9 703.1 1010.2 Z" fill="none" stroke="#1a1a1a" stroke-width="2.13" stroke-dasharray="6 1.6"/>
<path d="M688.0 999.3 l8 -3.5 l3 5 l-8 1.5 Z" fill="#111" stroke="#111" stroke-width="1.12"/>
<path d="M720.0 1013.3 l8 -1 l1 3.5 l-7 1 Z" fill="#111" stroke="#111" stroke-width="1.12"/>
<path d="M722.5 975 C723.6 975.7 728.3 977.6 729.4 979.2 C730.5 980.8 729.9 983.2 729 984.8 C728.1 986.4 724.7 988.1 723.8 988.8" fill="none" stroke="#111" stroke-width="2.46"/>
<path d="M692 991.8 L724 978.3" fill="none" stroke="#1a1a1a" stroke-width="2.02" stroke-dasharray="6 1.6"/>
<path d="M698 997.8 L728 984.8" fill="none" stroke="#1a1a1a" stroke-width="2.02" stroke-dasharray="6 1.6"/>
<path d="M714 976.8 L720 974.3" fill="none" stroke="#111" stroke-width="2.91"/>
<path d="M741.8 985.8 L736.3 1017.1" fill="none" stroke="#1a1a1a" stroke-width="2.02" stroke-dasharray="6 1.6"/>
<path d="M748.5 993.8 L748.5 1021.8" fill="none" stroke="#111" stroke-width="1.79"/>
<path d="M736.3 1018.8 C736.9 1019.6 738 1023.3 740 1023.8 C742 1024.3 747.1 1022.1 748.5 1021.8" fill="none" stroke="#111" stroke-width="1.68"/>
<path d="M755.4 1028.2 C761.2 1024.2 796.1 1011 805.2 1008.1 C814.3 1005.2 813.5 1007.7 816 1009.1 C818.5 1010.5 821.5 1015.1 821.8 1017.6 C822.1 1020.1 823.8 1021.9 818 1025.6 C812.2 1029.3 790.8 1040.6 783.1 1042 C775.4 1043.4 770.7 1037.2 766.5 1035.1 C762.3 1033 749.6 1032.2 755.4 1028.2 Z" fill="none" stroke="#1a1a1a" stroke-width="2.35" stroke-dasharray="6 1.6"/>
<path d="M756.1 1027.8 L797 1010.1" fill="none" stroke="#111" stroke-width="2.91"/>
<path d="M763 1035.6 L781 1041.1" fill="none" stroke="#111" stroke-width="2.46"/>
<path d="M783.1 1044 C785.8 1040.3 815.5 1026.4 820.5 1027.4 C825.5 1028.4 817.8 1046.5 816.3 1050.9 C814.8 1055.3 812.9 1056.3 810.8 1056.5 C808.7 1056.7 806.7 1054.2 802.5 1052.3 C798.3 1050.4 780.4 1047.7 783.1 1044 Z" fill="none" stroke="#1a1a1a" stroke-width="2.13" stroke-dasharray="6 1.6"/>
<path d="M768.0 1033.1 l8 -3.5 l3 5 l-8 1.5 Z" fill="#111" stroke="#111" stroke-width="1.12"/>
<path d="M800.0 1047.1 l8 -1 l1 3.5 l-7 1 Z" fill="#111" stroke="#111" stroke-width="1.12"/>
<path d="M802.5 1008.8 C803.6 1009.5 808.3 1011.4 809.4 1013 C810.5 1014.6 809.9 1017 809 1018.6 C808.1 1020.2 804.7 1021.9 803.8 1022.6" fill="none" stroke="#111" stroke-width="2.46"/>
<path d="M772 1025.6 L804 1012.1" fill="none" stroke="#1a1a1a" stroke-width="2.02" stroke-dasharray="6 1.6"/>
<path d="M778 1031.6 L808 1018.6" fill="none" stroke="#1a1a1a" stroke-width="2.02" stroke-dasharray="6 1.6"/>
<path d="M794 1010.6 L800 1008.1" fill="none" stroke="#111" stroke-width="2.91"/>
<path d="M821.8 1019.6 L816.3 1050.9" fill="none" stroke="#1a1a1a" stroke-width="2.02" stroke-dasharray="6 1.6"/>
<path d="M828.5 1027.6 L828.5 1055.6" fill="none" stroke="#111" stroke-width="1.79"/>
<path d="M816.3 1052.6 C816.9 1053.4 818 1057.1 820 1057.6 C822 1058.1 827.1 1055.9 828.5 1055.6" fill="none" stroke="#111" stroke-width="1.68"/>
<path d="M835.4 1062 C841.2 1058 876.1 1044.8 885.2 1041.9 C894.3 1039 893.5 1041.5 896 1042.9 C898.5 1044.3 901.5 1048.9 901.8 1051.4 C902.1 1053.9 903.8 1055.7 898 1059.4 C892.2 1063.1 870.8 1074.4 863.1 1075.8 C855.4 1077.2 850.7 1071 846.5 1068.9 C842.3 1066.8 829.6 1066 835.4 1062 Z" fill="none" stroke="#1a1a1a" stroke-width="2.35" stroke-dasharray="6 1.6"/>
<path d="M836.1 1061.6 L877 1043.9" fill="none" stroke="#111" stroke-width="2.91"/>
<path d="M843 1069.4 L861 1074.9" fill="none" stroke="#111" stroke-width="2.46"/>
<path d="M863.1 1077.8 C865.8 1074.1 895.5 1060.2 900.5 1061.2 C905.5 1062.2 897.8 1080.3 896.3 1084.7 C894.8 1089.1 892.9 1090.1 890.8 1090.3 C888.7 1090.5 886.7 1088 882.5 1086.1 C878.3 1084.2 860.4 1081.5 863.1 1077.8 Z" fill="none" stroke="#1a1a1a" stroke-width="2.13" stroke-dasharray="6 1.6"/>
<path d="M848.0 1066.9 l8 -3.5 l3 5 l-8 1.5 Z" fill="#111" stroke="#111" stroke-width="1.12"/>
<path d="M880.0 1080.9 l8 -1 l1 3.5 l-7 1 Z" fill="#111" stroke="#111" stroke-width="1.12"/>
<path d="M882.5 1042.6 C883.6 1043.3 888.3 1045.2 889.4 1046.8 C890.5 1048.4 889.9 1050.8 889 1052.4 C888.1 1054 884.7 1055.7 883.8 1056.4" fill="none" stroke="#111" stroke-width="2.46"/>
<path d="M852 1059.4 L884 1045.9" fill="none" stroke="#1a1a1a" stroke-width="2.02" stroke-dasharray="6 1.6"/>
<path d="M858 1065.4 L888 1052.4" fill="none" stroke="#1a1a1a" stroke-width="2.02" stroke-dasharray="6 1.6"/>
<path d="M874 1044.4 L880 1041.9" fill="none" stroke="#111" stroke-width="2.91"/>
<path d="M901.8 1053.4 L896.3 1084.7" fill="none" stroke="#1a1a1a" stroke-width="2.02" stroke-dasharray="6 1.6"/>
<path d="M908.5 1061.4 L908.5 1089.4" fill="none" stroke="#111" stroke-width="1.79"/>
<path d="M896.3 1086.4 C896.9 1087.2 898 1090.9 900 1091.4 C902 1091.9 907.1 1089.7 908.5 1089.4" fill="none" stroke="#111" stroke-width="1.68"/>
<path d="M915.4 1095.8 C921.2 1091.8 956.1 1078.6 965.2 1075.7 C974.3 1072.8 973.5 1075.3 976 1076.7 C978.5 1078.1 981.5 1082.7 981.8 1085.2 C982.1 1087.7 983.8 1089.5 978 1093.2 C972.2 1096.9 950.8 1108.2 943.1 1109.6 C935.4 1111 930.7 1104.8 926.5 1102.7 C922.3 1100.6 909.6 1099.8 915.4 1095.8 Z" fill="none" stroke="#1a1a1a" stroke-width="2.35" stroke-dasharray="6 1.6"/>
<path d="M916.1 1095.4 L957 1077.7" fill="none" stroke="#111" stroke-width="2.91"/>
<path d="M923 1103.2 L941 1108.7" fill="none" stroke="#111" stroke-width="2.46"/>
<path d="M943.1 1111.6 C945.8 1107.9 975.5 1094 980.5 1095 C985.5 1096 977.8 1114.1 976.3 1118.5 C974.8 1122.9 972.9 1123.9 970.8 1124.1 C968.7 1124.3 966.7 1121.8 962.5 1119.9 C958.3 1118 940.4 1115.3 943.1 1111.6 Z" fill="none" stroke="#1a1a1a" stroke-width="2.13" stroke-dasharray="6 1.6"/>
<path d="M928.0 1100.7 l8 -3.5 l3 5 l-8 1.5 Z" fill="#111" stroke="#111" stroke-width="1.12"/>
<path d="M960.0 1114.7 l8 -1 l1 3.5 l-7 1 Z" fill="#111" stroke="#111" stroke-width="1.12"/>
<path d="M962.5 1076.4 C963.6 1077.1 968.3 1079 969.4 1080.6 C970.5 1082.2 969.9 1084.6 969 1086.2 C968.1 1087.8 964.7 1089.5 963.8 1090.2" fill="none" stroke="#111" stroke-width="2.46"/>
<path d="M932 1093.2 L964 1079.7" fill="none" stroke="#1a1a1a" stroke-width="2.02" stroke-dasharray="6 1.6"/>
<path d="M938 1099.2 L968 1086.2" fill="none" stroke="#1a1a1a" stroke-width="2.02" stroke-dasharray="6 1.6"/>
<path d="M954 1078.2 L960 1075.7" fill="none" stroke="#111" stroke-width="2.91"/>
<path d="M981.8 1087.2 L976.3 1118.5" fill="none" stroke="#1a1a1a" stroke-width="2.02" stroke-dasharray="6 1.6"/>
<path d="M988.5 1095.2 L988.5 1123.2" fill="none" stroke="#111" stroke-width="1.79"/>
<path d="M976.3 1120.2 C976.9 1121 978 1124.7 980 1125.2 C982 1125.7 987.1 1123.5 988.5 1123.2" fill="none" stroke="#111" stroke-width="1.68"/>
<path d="M1061 1054.7 L1082.8 1061.4 L1072.8 1079.6 L1053 1076.3 Z" fill="none" stroke="#1a1a1a" stroke-width="2.13" stroke-dasharray="6 1.6"/>
<path d="M1067.8 1041.4 L1122.6 1061.4" fill="none" stroke="#1a1a1a" stroke-width="2.24" stroke-dasharray="6 1.6"/>
<path d="M1094.4 1058 L1104 1056 L1112 1059.5 L1111 1067 L1102 1069 L1094.4 1066 Z" fill="none" stroke="#1a1a1a" stroke-width="2.13" stroke-dasharray="6 1.6"/>
<path d="M1040 1081 L1047 1082" fill="none" stroke="#111" stroke-width="2.91"/>
<path d="M1050 1084 C1050.8 1082 1057 1078.3 1060 1078 C1063 1077.7 1069.1 1080.2 1070 1082 C1070.9 1083.8 1068.2 1088.7 1066 1090 C1063.8 1091.3 1057.4 1091.9 1055 1091 C1052.6 1090.1 1049.2 1086 1050 1084 Z" fill="none" stroke="#1a1a1a" stroke-width="2.02" stroke-dasharray="6 1.6"/>
<path d="M1102.7 1029 L1102.7 1066" fill="none" stroke="#111" stroke-width="1.68"/>
<path d="M266.4 430 L266.4 523.4" fill="none" stroke="#111" stroke-width="1.46"/>
<path d="M266.4 523.4 L462 606.4" fill="none" stroke="#111" stroke-width="1.46" stroke-dasharray="9 1.5"/>
<path d="M462 606.4 L462 745" fill="none" stroke="#111" stroke-width="1.46"/>
<path d="M462 745 L414 724" fill="none" stroke="#222" stroke-width="1.34" stroke-dasharray="8 2 2 2"/>
<path d="M383 710.5 L354 698" fill="none" stroke="#222" stroke-width="1.34" stroke-dasharray="8 2 2 2"/>
<path d="M328 686 L300 673" fill="none" stroke="#222" stroke-width="1.34" stroke-dasharray="8 2 2 2"/>
<path d="M266.4 430 L300 444" fill="none" stroke="#222" stroke-width="1.34" stroke-dasharray="8 2 2 2"/>
<path d="M324 456 L335 462" fill="none" stroke="#222" stroke-width="1.34" stroke-dasharray="8 2 2 2"/>
<path d="M485 540 L505 549" fill="none" stroke="#222" stroke-width="1.34" stroke-dasharray="8 2 2 2"/>
<path d="M565 575 L572 578" fill="none" stroke="#222" stroke-width="1.34" stroke-dasharray="8 2 2 2"/>
<path d="M596 588 L606 592" fill="none" stroke="#222" stroke-width="1.34" stroke-dasharray="8 2 2 2"/>
<path d="M633 602 L645 608" fill="none" stroke="#222" stroke-width="1.34" stroke-dasharray="8 2 2 2"/>
<path d="M706 634 L718 640" fill="none" stroke="#222" stroke-width="1.34" stroke-dasharray="8 2 2 2"/>
<path d="M822 700 L835 708" fill="none" stroke="#222" stroke-width="1.34" stroke-dasharray="8 2 2 2"/>
<path d="M893 727 L910 735" fill="none" stroke="#222" stroke-width="1.34" stroke-dasharray="8 2 2 2"/>
<path d="M936 747 L950 752" fill="none" stroke="#222" stroke-width="1.34" stroke-dasharray="8 2 2 2"/>
<path d="M977 762 L985 770" fill="none" stroke="#222" stroke-width="1.34" stroke-dasharray="8 2 2 2"/>
<path d="M1045 792 L1054 797" fill="none" stroke="#222" stroke-width="1.34" stroke-dasharray="8 2 2 2"/>
<path d="M358 361.6 L372 361.6" fill="none" stroke="#111" stroke-width="1.46"/>
<path d="M351 401 L368 401" fill="none" stroke="#bbb" stroke-width="1.46"/>
<path d="M310 408 L310 428" fill="none" stroke="#111" stroke-width="1.46"/>
<path d="M437 390 L454 378" fill="none" stroke="#888" stroke-width="1.46"/>
<path d="M467 378 L467 400" fill="none" stroke="#111" stroke-width="1.46"/>
<path d="M529 451.8 L545 451.8" fill="none" stroke="#111" stroke-width="1.46"/>
<path d="M525 496 L538.5 496" fill="none" stroke="#bbb" stroke-width="1.46"/>
<path d="M598 499 L598 519" fill="none" stroke="#888" stroke-width="1.46"/>
<path d="M368.5 523 L395 523" fill="none" stroke="#111" stroke-width="1.46"/>
<path d="M673 507.2 L694 507.2" fill="none" stroke="#111" stroke-width="1.46"/>
<path d="M668 549 L690 549" fill="none" stroke="#111" stroke-width="1.46"/>
<path d="M610 551 L596 565" fill="none" stroke="#111" stroke-width="1.46"/>
<path d="M627 551 L627 573" fill="none" stroke="#111" stroke-width="1.46"/>
<path d="M272 573 L296 573" fill="none" stroke="#111" stroke-width="1.46"/>
<path d="M379.5 604 L396 604" fill="none" stroke="#111" stroke-width="1.46"/>
<path d="M374.5 643 L391 643" fill="none" stroke="#888" stroke-width="1.46"/>
<path d="M863 612 L885 612" fill="none" stroke="#111" stroke-width="1.46"/>
<path d="M858 650 L868 650" fill="none" stroke="#888" stroke-width="1.46"/>
<path d="M933 663 L933 681" fill="none" stroke="#888" stroke-width="1.46"/>
<path d="M700 684.5 L728 684.5" fill="none" stroke="#111" stroke-width="1.46"/>
<path d="M1013 664 L1030 664" fill="none" stroke="#111" stroke-width="1.46"/>
<path d="M1005 694 L1032 694" fill="none" stroke="#888" stroke-width="1.46"/>
<path d="M1144.6 670.7 L1161 670.7" fill="none" stroke="#888" stroke-width="1.46"/>
<path d="M952 710 L938 722" fill="none" stroke="#111" stroke-width="1.46"/>
<path d="M968 710 L971 733" fill="none" stroke="#111" stroke-width="1.46"/>
<path d="M1086.5 726 L1086.5 737" fill="none" stroke="#ccc" stroke-width="1.46"/>
<path d="M332.2 711.3 L332.2 723" fill="none" stroke="#111" stroke-width="1.46"/>
<path d="M397.8 736.2 L397.8 754.5" fill="none" stroke="#999" stroke-width="1.46"/>
<path d="M772 546 L812 546 L812 594 L800 594" fill="none" stroke="#777" stroke-width="1.23"/>
<path d="M812 573 L828 573" fill="none" stroke="#777" stroke-width="1.23"/>
<path d="M425 458 L425 478" fill="none" stroke="#111" stroke-width="1.23" stroke-dasharray="4 2"/>
<path d="M757.8 612 L757.8 632" fill="none" stroke="#111" stroke-width="1.34"/>
<ellipse cx="396.5" cy="490.5" rx="8" ry="12.5" transform="rotate(20 396.5 490.5)" fill="#fff" stroke="#111" stroke-width="2.69"/>
<ellipse cx="400" cy="491.5" rx="8" ry="12.5" transform="rotate(20 400 491.5)" fill="#fff" stroke="#111" stroke-width="2.69"/>
<path d="M391.5 481 L394.5 502" fill="none" stroke="#111" stroke-width="1.46"/>
<path d="M393.7 481.8 L396.7 502.6" fill="none" stroke="#111" stroke-width="1.46"/>
<path d="M395.9 482.6 L398.9 503.2" fill="none" stroke="#111" stroke-width="1.46"/>
<path d="M398.1 483.4 L401.1 503.8" fill="none" stroke="#111" stroke-width="1.46"/>
<path d="M400.3 484.2 L403.3 504.4" fill="none" stroke="#111" stroke-width="1.46"/>
<path d="M405.5 486 C406 485.5 409.2 481.8 410.5 481 C411.8 480.2 414.4 478.1 418 477.8 C421.6 477.5 441.8 478 446.1 477.8 C450.4 477.6 459.3 475.2 461 476.2 C462.7 477.2 461.9 485.9 462.7 487.7 C463.4 489.5 467.5 492.7 468.5 494 C469.5 495.3 472.4 499.3 472.7 501 C472.9 502.7 471.2 510 471 511" fill="#fff" stroke="#111" stroke-width="2.46"/>
<ellipse cx="424.5" cy="481" rx="4.5" ry="2.6" fill="none" stroke="#111" stroke-width="2.02"/>
<ellipse cx="424.5" cy="481" rx="1.8" ry="1.2" fill="#111" stroke="#111" stroke-width="1.12"/>
<path d="M446.1 477.8 L446.1 483.5 L455.5 483.5 L455.5 477" fill="none" stroke="#111" stroke-width="1.79"/>
<ellipse cx="462.7" cy="504.4" rx="4" ry="2" transform="rotate(15 462.7 504.4)" fill="none" stroke="#111" stroke-width="1.79"/>
<path d="M396.3 513 C396.6 510.7 397.3 499.6 398.5 496 C399.7 492.4 404.6 487.3 405.5 486" fill="none" stroke="#111" stroke-width="2.46"/>
<path d="M396.3 513 L396.3 556 L399 559.5 L402 553 L402 512" fill="none" stroke="#111" stroke-width="2.46"/>
<path d="M401.3 510 C401.8 508.6 402.7 503.3 404.5 501 C406.3 498.7 409.8 495.9 413 494.5 C416.2 493.1 422 491.4 426 491.5 C430 491.6 436.4 493.4 439.5 495 C442.6 496.6 445.8 500.6 447 502.5 C448.2 504.4 448.9 505.5 447.8 508 C446.7 510.5 441.6 516.2 439.5 519.4 C437.4 522.6 435.1 526.2 434 529.4 C432.9 532.6 432.7 539.3 432.5 541" fill="none" stroke="#111" stroke-width="2.46"/>
<path d="M402.2 552 C404.6 550.8 413.3 545.9 417.9 544.3 C422.5 542.6 430.6 541.5 432.8 541" fill="none" stroke="#111" stroke-width="2.24"/>
<path d="M432.5 541 L431.5 574" fill="none" stroke="#111" stroke-width="2.46"/>
<path d="M431.5 574 L439.3 575.5 L479.2 551.5 L479.5 545" fill="none" stroke="#111" stroke-width="2.46"/>
<path d="M438 570 C438 564.5 437.4 535.8 438 529 C438.6 522.2 440.8 521.7 442.5 519 C444.2 516.3 449.9 510.3 451 509" fill="none" stroke="#111" stroke-width="2.02"/>
<path d="M471 511 C471.6 512 474.2 515.3 474.5 517 C474.8 518.7 472.8 520.3 472.5 521" fill="none" stroke="#111" stroke-width="2.24"/>
<ellipse cx="462" cy="529" rx="11.5" ry="17" transform="rotate(20 462 529)" fill="#fff" stroke="#111" stroke-width="2.24"/>
<ellipse cx="465.5" cy="530.5" rx="11.5" ry="17" transform="rotate(20 465.5 530.5)" fill="#fff" stroke="#111" stroke-width="2.46"/>
<ellipse cx="468.5" cy="532" rx="9.5" ry="14.5" transform="rotate(20 468.5 532)" fill="#fff" stroke="#111" stroke-width="1.79"/>
<path d="M472.5 517.5 L487.5 525.0 L486.5 555.0 L470.5 547.5 Z" fill="#fff" stroke="#fff" stroke-width="0.1"/>
<path d="M472.5 517.5 L485.5 524.5" fill="none" stroke="#111" stroke-width="2.24"/>
<path d="M470.5 547.5 L484.5 554.5" fill="none" stroke="#111" stroke-width="2.24"/>
<ellipse cx="483.5" cy="538.5" rx="10.5" ry="14.5" transform="rotate(20 483.5 538.5)" fill="#fff" stroke="#111" stroke-width="2.24"/>
<ellipse cx="488" cy="540.5" rx="10.5" ry="14.5" transform="rotate(20 488 540.5)" fill="#fff" stroke="#111" stroke-width="2.46"/>
<ellipse cx="728.5" cy="645" rx="8" ry="12.5" transform="rotate(20 728.5 645)" fill="#fff" stroke="#111" stroke-width="2.69"/>
<ellipse cx="732" cy="646" rx="8" ry="12.5" transform="rotate(20 732 646)" fill="#fff" stroke="#111" stroke-width="2.69"/>
<path d="M723.5 635.5 L726.5 656.5" fill="none" stroke="#111" stroke-width="1.46"/>
<path d="M725.7 636.3 L728.7 657.1" fill="none" stroke="#111" stroke-width="1.46"/>
<path d="M727.9 637.1 L730.9 657.7" fill="none" stroke="#111" stroke-width="1.46"/>
<path d="M730.1 637.9 L733.1 658.3" fill="none" stroke="#111" stroke-width="1.46"/>
<path d="M732.3 638.7 L735.3 658.9" fill="none" stroke="#111" stroke-width="1.46"/>
<path d="M737.5 640.5 C738 640 741.2 636.3 742.5 635.5 C743.8 634.7 746.4 632.6 750 632.3 C753.6 632 773.8 632.5 778.1 632.3 C782.4 632.1 791.3 629.7 793 630.7 C794.7 631.7 794 640.4 794.7 642.2 C795.5 644 799.5 647.2 800.5 648.5 C801.5 649.8 804.5 653.8 804.7 655.5 C805 657.2 803.2 664.5 803 665.5" fill="#fff" stroke="#111" stroke-width="2.46"/>
<ellipse cx="756.5" cy="635.5" rx="4.5" ry="2.6" fill="none" stroke="#111" stroke-width="2.02"/>
<ellipse cx="756.5" cy="635.5" rx="1.8" ry="1.2" fill="#111" stroke="#111" stroke-width="1.12"/>
<path d="M778.1 632.3 L778.1 638 L787.5 638 L787.5 631.5" fill="none" stroke="#111" stroke-width="1.79"/>
<ellipse cx="794.7" cy="658.9" rx="4" ry="2" transform="rotate(15 794.7 658.9)" fill="none" stroke="#111" stroke-width="1.79"/>
<path d="M728.3 667.5 C728.6 665.2 729.3 654.1 730.5 650.5 C731.7 646.9 736.6 641.8 737.5 640.5" fill="none" stroke="#111" stroke-width="2.46"/>
<path d="M728.3 667.5 L728.3 710.5 L731 714 L734 707.5 L734 666.5" fill="none" stroke="#111" stroke-width="2.46"/>
<path d="M733.3 664.5 C733.8 663.1 734.7 657.8 736.5 655.5 C738.3 653.2 741.8 650.4 745 649 C748.2 647.6 754 645.9 758 646 C762 646.1 768.4 647.9 771.5 649.5 C774.6 651.1 777.8 655 779 657 C780.2 659 780.9 660 779.8 662.5 C778.7 665 773.6 670.7 771.5 673.9 C769.4 677.1 767 680.7 766 683.9 C765 687.1 764.7 693.8 764.5 695.5" fill="none" stroke="#111" stroke-width="2.46"/>
<path d="M734.2 706.5 C736.6 705.3 745.3 700.4 749.9 698.8 C754.5 697.1 762.6 696 764.8 695.5" fill="none" stroke="#111" stroke-width="2.24"/>
<path d="M764.5 695.5 L763.5 728.5" fill="none" stroke="#111" stroke-width="2.46"/>
<path d="M763.5 728.5 L771.3 730 L811.2 706 L811.5 699.5" fill="none" stroke="#111" stroke-width="2.46"/>
<path d="M770 724.5 C770 719 769.4 690.3 770 683.5 C770.6 676.7 772.8 676.2 774.5 673.5 C776.2 670.8 781.9 664.8 783 663.5" fill="none" stroke="#111" stroke-width="2.02"/>
<path d="M803 665.5 C803.6 666.5 806.2 669.8 806.5 671.5 C806.8 673.2 804.8 674.8 804.5 675.5" fill="none" stroke="#111" stroke-width="2.24"/>
<ellipse cx="794" cy="683.5" rx="11.5" ry="17" transform="rotate(20 794 683.5)" fill="#fff" stroke="#111" stroke-width="2.24"/>
<ellipse cx="797.5" cy="685" rx="11.5" ry="17" transform="rotate(20 797.5 685)" fill="#fff" stroke="#111" stroke-width="2.46"/>
<ellipse cx="800.5" cy="686.5" rx="9.5" ry="14.5" transform="rotate(20 800.5 686.5)" fill="#fff" stroke="#111" stroke-width="1.79"/>
<path d="M804.5 672.0 L819.5 679.5 L818.5 709.5 L802.5 702.0 Z" fill="#fff" stroke="#fff" stroke-width="0.1"/>
<path d="M804.5 672 L817.5 679" fill="none" stroke="#111" stroke-width="2.24"/>
<path d="M802.5 702 L816.5 709" fill="none" stroke="#111" stroke-width="2.24"/>
<ellipse cx="815.5" cy="693" rx="10.5" ry="14.5" transform="rotate(20 815.5 693)" fill="#fff" stroke="#111" stroke-width="2.24"/>
<ellipse cx="820" cy="695" rx="10.5" ry="14.5" transform="rotate(20 820 695)" fill="#fff" stroke="#111" stroke-width="2.46"/>
<path d="M337 460.4 C339.3 459.2 347.7 455 352.5 452.1 C357.3 449.2 364 444 369.2 441 C374.4 438 381.6 434.1 386.9 432.2 C392.2 430.3 400.6 428.8 404.6 428.3 C408.6 427.8 410.8 428.1 413.5 428.9 C416.2 429.6 420 432 422.3 433.3 C424.6 434.6 427.8 436.2 429 437.7 C430.2 439.2 430.9 441.3 430.6 443.3 C430.3 445.3 428.3 449.4 426.7 451 C425.1 452.6 423.4 453.6 420.1 454.3 C416.8 455 407.9 454.3 404.6 455.4 C401.3 456.5 399.6 459.7 397.8 461.7 C396 463.7 395.7 466.1 392.4 468.7 C389.1 471.2 380.3 479.4 375.8 478.7 C371.3 478 366.2 465.8 362.5 464.3 C358.8 462.8 353.1 468 351.4 468.7" fill="#fff" stroke="#fff" stroke-width="0.1"/>
<path d="M337 460.4 C339.3 459.2 347.7 455 352.5 452.1 C357.3 449.2 364 444 369.2 441 C374.4 438 381.6 434.1 386.9 432.2 C392.2 430.3 400.6 428.8 404.6 428.3 C408.6 427.8 410.8 428.1 413.5 428.9 C416.2 429.6 420 432 422.3 433.3 C424.6 434.6 427.8 436.2 429 437.7 C430.2 439.2 430.9 441.3 430.6 443.3 C430.3 445.3 428.3 449.4 426.7 451 C425.1 452.6 423.4 453.6 420.1 454.3 C416.8 455 407.9 454.3 404.6 455.4 C401.3 456.5 399.6 459.7 397.8 461.7 C396 463.7 393.2 467.6 392.4 468.7" fill="none" stroke="#111" stroke-width="2.46"/>
<path d="M330.4 464.3 L335.8 459.9 L352.5 467.6 L345.9 473.7" fill="#fff" stroke="#111" stroke-width="2.24"/>
<path d="M345.9 473.7 C344.9 473.1 331.5 464.3 330.4 464.3 C329.3 464.3 329.9 472.1 330 473.7 C330.1 475.3 331.2 487.4 331.5 488.7 C331.8 490 333.8 492.8 334.8 493.1 C335.8 493.4 345.2 494.8 345.9 493.5 C346.6 492.2 345.9 475 345.9 473.7" fill="#fff" stroke="#111" stroke-width="2.46"/>
<path d="M345.9 493.5 L354.8 489.2 L361.8 491.7" fill="none" stroke="#111" stroke-width="2.46"/>
<path d="M355.8 489.7 L362.3 494.2" fill="none" stroke="#111" stroke-width="3.58"/>
<path d="M351.4 468.7 L362.5 464.3" fill="none" stroke="#111" stroke-width="1.79"/>
<ellipse cx="343.2" cy="465.1" rx="5.5" ry="2.8" transform="rotate(15 343.2 465.1)" fill="none" stroke="#111" stroke-width="2.91"/>
<path d="M347.8 468.2 L351.3 469.7" fill="none" stroke="#111" stroke-width="3.36"/>
<path d="M382.4 445.5 C384.1 443.5 388.9 439.7 393.5 437.7 C398.1 435.7 406.4 433.7 410.1 433.3 C413.8 432.9 415.3 433.1 415.7 435.5 C416.1 437.9 414.9 444.4 412.3 447.7 C409.7 451 404.1 454.3 400.2 455.4 C396.3 456.5 391.9 455.2 389.1 454.3 C386.3 453.4 384.7 451.4 383.6 449.9 C382.5 448.4 380.8 447.5 382.4 445.5 Z" fill="none" stroke="#111" stroke-width="2.02"/>
<path d="M382.4 445.5 C382.6 446.2 382.5 448.4 383.6 449.9 C384.7 451.4 386.3 453.4 389.1 454.3 C391.9 455.2 398.4 455.2 400.2 455.4" fill="none" stroke="#111" stroke-width="3.36"/>
<path d="M413.5 434.4 L400.2 456.6" fill="none" stroke="#111" stroke-width="1.68"/>
<path d="M416.8 435.5 L403.5 457.7" fill="none" stroke="#111" stroke-width="1.68"/>
<path d="M422.3 433.3 L426.7 441 L426.7 451" fill="none" stroke="#111" stroke-width="1.79"/>
<ellipse cx="372.6" cy="480.5" rx="15.2" ry="22" transform="rotate(35 372.6 480.5)" fill="#fff" stroke="#111" stroke-width="2.02"/>
<ellipse cx="375.8" cy="478.7" rx="15.2" ry="22" transform="rotate(35 375.8 478.7)" fill="#fff" stroke="#111" stroke-width="2.46"/>
<ellipse cx="376.3" cy="478.7" rx="9.5" ry="15.5" transform="rotate(35 376.3 478.7)" fill="none" stroke="#111" stroke-width="2.46"/>
<ellipse cx="377.8" cy="479.5" rx="8" ry="13.5" transform="rotate(35 377.8 479.5)" fill="none" stroke="#444" stroke-width="1.46"/>
<path d="M368.8 476.7 L383.8 481.7" fill="none" stroke="#333" stroke-width="1.23"/>
<path d="M511.2 549.2 C513.5 548 521.9 543.8 526.7 540.9 C531.5 538 538.2 532.8 543.4 529.8 C548.6 526.8 555.8 522.9 561.1 521 C566.4 519.1 574.8 517.6 578.8 517.1 C582.8 516.6 585 517 587.7 517.7 C590.4 518.5 594.2 520.8 596.5 522.1 C598.8 523.4 602 525 603.2 526.5 C604.4 528 605.1 530.1 604.8 532.1 C604.5 534.1 602.5 538.1 600.9 539.8 C599.3 541.4 597.6 542.4 594.3 543.1 C591 543.8 582.1 543.1 578.8 544.2 C575.5 545.3 573.8 548.5 572 550.5 C570.2 552.5 569.9 555 566.6 557.5 C563.3 560 554.5 568.2 550 567.5 C545.5 566.8 540.4 554.6 536.7 553.1 C533 551.6 527.3 556.8 525.6 557.5" fill="#fff" stroke="#fff" stroke-width="0.1"/>
<path d="M511.2 549.2 C513.5 548 521.9 543.8 526.7 540.9 C531.5 538 538.2 532.8 543.4 529.8 C548.6 526.8 555.8 522.9 561.1 521 C566.4 519.1 574.8 517.6 578.8 517.1 C582.8 516.6 585 517 587.7 517.7 C590.4 518.5 594.2 520.8 596.5 522.1 C598.8 523.4 602 525 603.2 526.5 C604.4 528 605.1 530.1 604.8 532.1 C604.5 534.1 602.5 538.1 600.9 539.8 C599.3 541.4 597.6 542.4 594.3 543.1 C591 543.8 582.1 543.1 578.8 544.2 C575.5 545.3 573.8 548.5 572 550.5 C570.2 552.5 567.4 556.5 566.6 557.5" fill="none" stroke="#111" stroke-width="2.46"/>
<path d="M504.6 553.1 L510 548.7 L526.7 556.4 L520.1 562.5" fill="#fff" stroke="#111" stroke-width="2.24"/>
<path d="M520.1 562.5 C519.1 561.9 505.7 553.1 504.6 553.1 C503.5 553.1 504.1 560.9 504.2 562.5 C504.3 564.1 505.4 576.2 505.7 577.5 C506 578.8 508 581.6 509 581.9 C510 582.2 519.4 583.6 520.1 582.3 C520.8 581 520.1 563.8 520.1 562.5" fill="#fff" stroke="#111" stroke-width="2.46"/>
<path d="M520.1 582.3 L529 578 L536 580.5" fill="none" stroke="#111" stroke-width="2.46"/>
<path d="M530 578.5 L536.5 583" fill="none" stroke="#111" stroke-width="3.58"/>
<path d="M525.6 557.5 L536.7 553.1" fill="none" stroke="#111" stroke-width="1.79"/>
<ellipse cx="517.4" cy="553.9" rx="5.5" ry="2.8" transform="rotate(15 517.4 553.9)" fill="none" stroke="#111" stroke-width="2.91"/>
<path d="M522 557 L525.5 558.5" fill="none" stroke="#111" stroke-width="3.36"/>
<path d="M556.6 534.3 C558.2 532.3 563.1 528.5 567.7 526.5 C572.3 524.5 580.6 522.5 584.3 522.1 C588 521.7 589.5 521.9 589.9 524.3 C590.3 526.7 589.1 533.2 586.5 536.5 C583.9 539.8 578.3 543.1 574.4 544.2 C570.5 545.3 566.1 544 563.3 543.1 C560.5 542.2 558.9 540.2 557.8 538.7 C556.7 537.2 555 536.3 556.6 534.3 Z" fill="none" stroke="#111" stroke-width="2.02"/>
<path d="M556.6 534.3 C556.8 535 556.7 537.2 557.8 538.7 C558.9 540.2 560.5 542.2 563.3 543.1 C566.1 544 572.5 544 574.4 544.2" fill="none" stroke="#111" stroke-width="3.36"/>
<path d="M587.7 523.2 L574.4 545.4" fill="none" stroke="#111" stroke-width="1.68"/>
<path d="M591 524.3 L577.7 546.5" fill="none" stroke="#111" stroke-width="1.68"/>
<path d="M596.5 522.1 L600.9 529.8 L600.9 539.8" fill="none" stroke="#111" stroke-width="1.79"/>
<ellipse cx="546.8" cy="569.3" rx="15.2" ry="22" transform="rotate(35 546.8 569.3)" fill="#fff" stroke="#111" stroke-width="2.02"/>
<ellipse cx="550" cy="567.5" rx="15.2" ry="22" transform="rotate(35 550 567.5)" fill="#fff" stroke="#111" stroke-width="2.46"/>
<ellipse cx="550.5" cy="567.5" rx="9.5" ry="15.5" transform="rotate(35 550.5 567.5)" fill="none" stroke="#111" stroke-width="2.46"/>
<ellipse cx="552" cy="568.3" rx="8" ry="13.5" transform="rotate(35 552 568.3)" fill="none" stroke="#444" stroke-width="1.46"/>
<path d="M543 565.5 L558 570.5" fill="none" stroke="#333" stroke-width="1.23"/>
<path d="M653.6 609.7 C655.9 608.5 664.3 604.3 669.1 601.4 C673.9 598.5 680.6 593.3 685.8 590.3 C691 587.3 698.2 583.4 703.5 581.5 C708.8 579.6 717.2 578.1 721.2 577.6 C725.2 577.1 727.4 577.5 730.1 578.2 C732.8 579 736.6 581.3 738.9 582.6 C741.2 583.9 744.4 585.5 745.6 587 C746.8 588.5 747.5 590.6 747.2 592.6 C746.9 594.6 744.9 598.6 743.3 600.3 C741.7 601.9 740 602.9 736.7 603.6 C733.4 604.3 724.5 603.6 721.2 604.7 C717.9 605.8 716.2 609 714.4 611 C712.6 613 712.3 615.5 709 618 C705.7 620.5 696.9 628.7 692.4 628 C687.9 627.3 682.8 615.1 679.1 613.6 C675.4 612.1 669.7 617.3 668 618" fill="#fff" stroke="#fff" stroke-width="0.1"/>
<path d="M653.6 609.7 C655.9 608.5 664.3 604.3 669.1 601.4 C673.9 598.5 680.6 593.3 685.8 590.3 C691 587.3 698.2 583.4 703.5 581.5 C708.8 579.6 717.2 578.1 721.2 577.6 C725.2 577.1 727.4 577.5 730.1 578.2 C732.8 579 736.6 581.3 738.9 582.6 C741.2 583.9 744.4 585.5 745.6 587 C746.8 588.5 747.5 590.6 747.2 592.6 C746.9 594.6 744.9 598.6 743.3 600.3 C741.7 601.9 740 602.9 736.7 603.6 C733.4 604.3 724.5 603.6 721.2 604.7 C717.9 605.8 716.2 609 714.4 611 C712.6 613 709.8 617 709 618" fill="none" stroke="#111" stroke-width="2.46"/>
<path d="M647 613.6 L652.4 609.2 L669.1 616.9 L662.5 623" fill="#fff" stroke="#111" stroke-width="2.24"/>
<path d="M662.5 623 C661.5 622.4 648.1 613.6 647 613.6 C645.9 613.6 646.5 621.4 646.6 623 C646.7 624.6 647.8 636.7 648.1 638 C648.4 639.3 650.4 642.1 651.4 642.4 C652.4 642.7 661.8 644.1 662.5 642.8 C663.2 641.5 662.5 624.3 662.5 623" fill="#fff" stroke="#111" stroke-width="2.46"/>
<path d="M662.5 642.8 L671.4 638.5 L678.4 641" fill="none" stroke="#111" stroke-width="2.46"/>
<path d="M672.4 639 L678.9 643.5" fill="none" stroke="#111" stroke-width="3.58"/>
<path d="M668 618 L679.1 613.6" fill="none" stroke="#111" stroke-width="1.79"/>
<ellipse cx="659.8" cy="614.4" rx="5.5" ry="2.8" transform="rotate(15 659.8 614.4)" fill="none" stroke="#111" stroke-width="2.91"/>
<path d="M664.4 617.5 L667.9 619" fill="none" stroke="#111" stroke-width="3.36"/>
<path d="M699 594.8 C700.6 592.8 705.5 589 710.1 587 C714.7 585 723 583 726.7 582.6 C730.4 582.2 731.9 582.4 732.3 584.8 C732.7 587.2 731.5 593.7 728.9 597 C726.3 600.3 720.7 603.6 716.8 604.7 C712.9 605.8 708.5 604.5 705.7 603.6 C702.9 602.7 701.3 600.7 700.2 599.2 C699.1 597.7 697.4 596.8 699 594.8 Z" fill="none" stroke="#111" stroke-width="2.02"/>
<path d="M699 594.8 C699.2 595.5 699.1 597.7 700.2 599.2 C701.3 600.7 702.9 602.7 705.7 603.6 C708.5 604.5 714.9 604.5 716.8 604.7" fill="none" stroke="#111" stroke-width="3.36"/>
<path d="M730.1 583.7 L716.8 605.9" fill="none" stroke="#111" stroke-width="1.68"/>
<path d="M733.4 584.8 L720.1 607" fill="none" stroke="#111" stroke-width="1.68"/>
<path d="M738.9 582.6 L743.3 590.3 L743.3 600.3" fill="none" stroke="#111" stroke-width="1.79"/>
<ellipse cx="689.2" cy="629.8" rx="15.2" ry="22" transform="rotate(35 689.2 629.8)" fill="#fff" stroke="#111" stroke-width="2.02"/>
<ellipse cx="692.4" cy="628" rx="15.2" ry="22" transform="rotate(35 692.4 628)" fill="#fff" stroke="#111" stroke-width="2.46"/>
<ellipse cx="692.9" cy="628" rx="9.5" ry="15.5" transform="rotate(35 692.9 628)" fill="none" stroke="#111" stroke-width="2.46"/>
<ellipse cx="694.4" cy="628.8" rx="8" ry="13.5" transform="rotate(35 694.4 628.8)" fill="none" stroke="#444" stroke-width="1.46"/>
<path d="M685.4 626 L700.4 631" fill="none" stroke="#333" stroke-width="1.23"/>
<path d="M841.5 703.6 C843.8 702.4 852.2 698.2 857 695.3 C861.8 692.4 868.5 687.2 873.7 684.2 C878.9 681.2 886.1 677.3 891.4 675.4 C896.7 673.5 905.1 672 909.1 671.5 C913.1 671 915.3 671.4 918 672.1 C920.7 672.9 924.5 675.2 926.8 676.5 C929.1 677.8 932.3 679.4 933.5 680.9 C934.7 682.4 935.4 684.5 935.1 686.5 C934.8 688.5 932.8 692.5 931.2 694.2 C929.6 695.8 927.9 696.8 924.6 697.5 C921.3 698.2 912.4 697.5 909.1 698.6 C905.8 699.7 904.1 702.9 902.3 704.9 C900.5 706.9 900.2 709.4 896.9 711.9 C893.6 714.4 884.8 722.6 880.3 721.9 C875.8 721.2 870.7 709 867 707.5 C863.3 706 857.6 711.2 855.9 711.9" fill="#fff" stroke="#fff" stroke-width="0.1"/>
<path d="M841.5 703.6 C843.8 702.4 852.2 698.2 857 695.3 C861.8 692.4 868.5 687.2 873.7 684.2 C878.9 681.2 886.1 677.3 891.4 675.4 C896.7 673.5 905.1 672 909.1 671.5 C913.1 671 915.3 671.4 918 672.1 C920.7 672.9 924.5 675.2 926.8 676.5 C929.1 677.8 932.3 679.4 933.5 680.9 C934.7 682.4 935.4 684.5 935.1 686.5 C934.8 688.5 932.8 692.5 931.2 694.2 C929.6 695.8 927.9 696.8 924.6 697.5 C921.3 698.2 912.4 697.5 909.1 698.6 C905.8 699.7 904.1 702.9 902.3 704.9 C900.5 706.9 897.7 710.9 896.9 711.9" fill="none" stroke="#111" stroke-width="2.46"/>
<path d="M834.9 707.5 L840.3 703.1 L857 710.8 L850.4 716.9" fill="#fff" stroke="#111" stroke-width="2.24"/>
<path d="M850.4 716.9 C849.4 716.3 836 707.5 834.9 707.5 C833.8 707.5 834.4 715.3 834.5 716.9 C834.6 718.5 835.7 730.6 836 731.9 C836.3 733.2 838.3 736 839.3 736.3 C840.3 736.6 849.7 738 850.4 736.7 C851.1 735.4 850.4 718.2 850.4 716.9" fill="#fff" stroke="#111" stroke-width="2.46"/>
<path d="M850.4 736.7 L859.3 732.4 L866.3 734.9" fill="none" stroke="#111" stroke-width="2.46"/>
<path d="M860.3 732.9 L866.8 737.4" fill="none" stroke="#111" stroke-width="3.58"/>
<path d="M855.9 711.9 L867 707.5" fill="none" stroke="#111" stroke-width="1.79"/>
<ellipse cx="847.7" cy="708.3" rx="5.5" ry="2.8" transform="rotate(15 847.7 708.3)" fill="none" stroke="#111" stroke-width="2.91"/>
<path d="M852.3 711.4 L855.8 712.9" fill="none" stroke="#111" stroke-width="3.36"/>
<path d="M886.9 688.7 C888.5 686.7 893.4 682.9 898 680.9 C902.6 678.9 910.9 676.9 914.6 676.5 C918.3 676.1 919.8 676.3 920.2 678.7 C920.6 681.1 919.4 687.6 916.8 690.9 C914.2 694.2 908.6 697.5 904.7 698.6 C900.8 699.7 896.4 698.4 893.6 697.5 C890.8 696.6 889.2 694.6 888.1 693.1 C887 691.6 885.2 690.7 886.9 688.7 Z" fill="none" stroke="#111" stroke-width="2.02"/>
<path d="M886.9 688.7 C887.1 689.4 887 691.6 888.1 693.1 C889.2 694.6 890.8 696.6 893.6 697.5 C896.4 698.4 902.8 698.4 904.7 698.6" fill="none" stroke="#111" stroke-width="3.36"/>
<path d="M918 677.6 L904.7 699.8" fill="none" stroke="#111" stroke-width="1.68"/>
<path d="M921.3 678.7 L908 700.9" fill="none" stroke="#111" stroke-width="1.68"/>
<path d="M926.8 676.5 L931.2 684.2 L931.2 694.2" fill="none" stroke="#111" stroke-width="1.79"/>
<ellipse cx="877.1" cy="723.7" rx="15.2" ry="22" transform="rotate(35 877.1 723.7)" fill="#fff" stroke="#111" stroke-width="2.02"/>
<ellipse cx="880.3" cy="721.9" rx="15.2" ry="22" transform="rotate(35 880.3 721.9)" fill="#fff" stroke="#111" stroke-width="2.46"/>
<ellipse cx="880.8" cy="721.9" rx="9.5" ry="15.5" transform="rotate(35 880.8 721.9)" fill="none" stroke="#111" stroke-width="2.46"/>
<ellipse cx="882.3" cy="722.7" rx="8" ry="13.5" transform="rotate(35 882.3 722.7)" fill="none" stroke="#444" stroke-width="1.46"/>
<path d="M873.3 719.9 L888.3 724.9" fill="none" stroke="#333" stroke-width="1.23"/>
<path d="M993 768 C995.3 766.8 1003.7 762.6 1008.5 759.7 C1013.3 756.8 1020 751.6 1025.2 748.6 C1030.4 745.6 1037.6 741.7 1042.9 739.8 C1048.2 737.9 1056.6 736.4 1060.6 735.9 C1064.6 735.4 1066.8 735.8 1069.5 736.5 C1072.2 737.2 1076 739.6 1078.3 740.9 C1080.6 742.2 1083.8 743.8 1085 745.3 C1086.2 746.8 1086.9 748.9 1086.6 750.9 C1086.3 752.9 1084.3 756.9 1082.7 758.6 C1081.1 760.2 1079.4 761.2 1076.1 761.9 C1072.8 762.6 1063.9 761.9 1060.6 763 C1057.3 764.1 1055.6 767.3 1053.8 769.3 C1052 771.3 1051.7 773.8 1048.4 776.3 C1045.1 778.8 1036.3 787 1031.8 786.3 C1027.3 785.6 1022.2 773.4 1018.5 771.9 C1014.8 770.4 1009.1 775.6 1007.4 776.3" fill="#fff" stroke="#fff" stroke-width="0.1"/>
<path d="M993 768 C995.3 766.8 1003.7 762.6 1008.5 759.7 C1013.3 756.8 1020 751.6 1025.2 748.6 C1030.4 745.6 1037.6 741.7 1042.9 739.8 C1048.2 737.9 1056.6 736.4 1060.6 735.9 C1064.6 735.4 1066.8 735.8 1069.5 736.5 C1072.2 737.2 1076 739.6 1078.3 740.9 C1080.6 742.2 1083.8 743.8 1085 745.3 C1086.2 746.8 1086.9 748.9 1086.6 750.9 C1086.3 752.9 1084.3 756.9 1082.7 758.6 C1081.1 760.2 1079.4 761.2 1076.1 761.9 C1072.8 762.6 1063.9 761.9 1060.6 763 C1057.3 764.1 1055.6 767.3 1053.8 769.3 C1052 771.3 1049.2 775.2 1048.4 776.3" fill="none" stroke="#111" stroke-width="2.46"/>
<path d="M986.4 771.9 L991.8 767.5 L1008.5 775.2 L1001.9 781.3" fill="#fff" stroke="#111" stroke-width="2.24"/>
<path d="M1001.9 781.3 C1000.9 780.7 987.5 771.9 986.4 771.9 C985.3 771.9 985.9 779.7 986 781.3 C986.1 782.9 987.2 795 987.5 796.3 C987.8 797.6 989.8 800.4 990.8 800.7 C991.8 801 1001.2 802.4 1001.9 801.1 C1002.6 799.8 1001.9 782.6 1001.9 781.3" fill="#fff" stroke="#111" stroke-width="2.46"/>
<path d="M1001.9 801.1 L1010.8 796.8 L1017.8 799.3" fill="none" stroke="#111" stroke-width="2.46"/>
<path d="M1011.8 797.3 L1018.3 801.8" fill="none" stroke="#111" stroke-width="3.58"/>
<path d="M1007.4 776.3 L1018.5 771.9" fill="none" stroke="#111" stroke-width="1.79"/>
<ellipse cx="999.2" cy="772.7" rx="5.5" ry="2.8" transform="rotate(15 999.2 772.7)" fill="none" stroke="#111" stroke-width="2.91"/>
<path d="M1003.8 775.8 L1007.3 777.3" fill="none" stroke="#111" stroke-width="3.36"/>
<path d="M1038.4 753.1 C1040 751.1 1044.9 747.3 1049.5 745.3 C1054.1 743.3 1062.4 741.3 1066.1 740.9 C1069.8 740.5 1071.3 740.7 1071.7 743.1 C1072.1 745.5 1070.9 752 1068.3 755.3 C1065.7 758.6 1060.1 761.9 1056.2 763 C1052.3 764.1 1047.9 762.8 1045.1 761.9 C1042.3 761 1040.7 759 1039.6 757.5 C1038.5 756 1036.7 755.1 1038.4 753.1 Z" fill="none" stroke="#111" stroke-width="2.02"/>
<path d="M1038.4 753.1 C1038.6 753.8 1038.5 756 1039.6 757.5 C1040.7 759 1042.3 761 1045.1 761.9 C1047.9 762.8 1054.3 762.8 1056.2 763" fill="none" stroke="#111" stroke-width="3.36"/>
<path d="M1069.5 742 L1056.2 764.2" fill="none" stroke="#111" stroke-width="1.68"/>
<path d="M1072.8 743.1 L1059.5 765.3" fill="none" stroke="#111" stroke-width="1.68"/>
<path d="M1078.3 740.9 L1082.7 748.6 L1082.7 758.6" fill="none" stroke="#111" stroke-width="1.79"/>
<ellipse cx="1028.6" cy="788.1" rx="15.2" ry="22" transform="rotate(35 1028.6 788.1)" fill="#fff" stroke="#111" stroke-width="2.02"/>
<ellipse cx="1031.8" cy="786.3" rx="15.2" ry="22" transform="rotate(35 1031.8 786.3)" fill="#fff" stroke="#111" stroke-width="2.46"/>
<ellipse cx="1032.3" cy="786.3" rx="9.5" ry="15.5" transform="rotate(35 1032.3 786.3)" fill="none" stroke="#111" stroke-width="2.46"/>
<ellipse cx="1033.8" cy="787.1" rx="8" ry="13.5" transform="rotate(35 1033.8 787.1)" fill="none" stroke="#444" stroke-width="1.46"/>
<path d="M1024.8 784.3 L1039.8 789.3" fill="none" stroke="#333" stroke-width="1.23"/>
<path d="M362.6 701.4 C364.9 700.2 373.3 696 378.1 693.1 C382.9 690.2 389.6 685 394.8 682 C400 679 407.2 675.1 412.5 673.2 C417.8 671.3 426.2 669.8 430.2 669.3 C434.2 668.8 436.4 669.2 439.1 669.9 C441.8 670.7 445.6 673 447.9 674.3 C450.2 675.6 453.4 677.2 454.6 678.7 C455.8 680.2 456.5 682.3 456.2 684.3 C455.9 686.3 453.9 690.4 452.3 692 C450.7 693.6 449 694.6 445.7 695.3 C442.4 696 433.5 695.3 430.2 696.4 C426.9 697.5 425.2 700.7 423.4 702.7 C421.6 704.7 421.3 707.2 418 709.7 C414.7 712.2 405.9 720.4 401.4 719.7 C396.9 719 391.8 706.8 388.1 705.3 C384.4 703.8 378.7 709 377 709.7" fill="#fff" stroke="#fff" stroke-width="0.1"/>
<path d="M362.6 701.4 C364.9 700.2 373.3 696 378.1 693.1 C382.9 690.2 389.6 685 394.8 682 C400 679 407.2 675.1 412.5 673.2 C417.8 671.3 426.2 669.8 430.2 669.3 C434.2 668.8 436.4 669.2 439.1 669.9 C441.8 670.7 445.6 673 447.9 674.3 C450.2 675.6 453.4 677.2 454.6 678.7 C455.8 680.2 456.5 682.3 456.2 684.3 C455.9 686.3 453.9 690.4 452.3 692 C450.7 693.6 449 694.6 445.7 695.3 C442.4 696 433.5 695.3 430.2 696.4 C426.9 697.5 425.2 700.7 423.4 702.7 C421.6 704.7 418.8 708.7 418 709.7" fill="none" stroke="#111" stroke-width="2.46"/>
<path d="M356 705.3 L361.4 700.9 L378.1 708.6 L371.5 714.7" fill="#fff" stroke="#111" stroke-width="2.24"/>
<path d="M371.5 714.7 C370.5 714.1 357.1 705.3 356 705.3 C354.9 705.3 355.5 713.1 355.6 714.7 C355.7 716.3 356.8 728.4 357.1 729.7 C357.4 731 359.4 733.8 360.4 734.1 C361.4 734.4 370.8 735.8 371.5 734.5 C372.2 733.2 371.5 716 371.5 714.7" fill="#fff" stroke="#111" stroke-width="2.46"/>
<path d="M371.5 734.5 L380.4 730.2 L387.4 732.7" fill="none" stroke="#111" stroke-width="2.46"/>
<path d="M381.4 730.7 L387.9 735.2" fill="none" stroke="#111" stroke-width="3.58"/>
<path d="M377 709.7 L388.1 705.3" fill="none" stroke="#111" stroke-width="1.79"/>
<ellipse cx="368.8" cy="706.1" rx="5.5" ry="2.8" transform="rotate(15 368.8 706.1)" fill="none" stroke="#111" stroke-width="2.91"/>
<path d="M373.4 709.2 L376.9 710.7" fill="none" stroke="#111" stroke-width="3.36"/>
<path d="M408 686.5 C409.6 684.5 414.5 680.7 419.1 678.7 C423.7 676.7 432 674.7 435.7 674.3 C439.4 673.9 440.9 674.1 441.3 676.5 C441.7 678.9 440.5 685.4 437.9 688.7 C435.3 692 429.7 695.3 425.8 696.4 C421.9 697.5 417.5 696.2 414.7 695.3 C411.9 694.4 410.3 692.4 409.2 690.9 C408.1 689.4 406.4 688.5 408 686.5 Z" fill="none" stroke="#111" stroke-width="2.02"/>
<path d="M408 686.5 C408.2 687.2 408.1 689.4 409.2 690.9 C410.3 692.4 411.9 694.4 414.7 695.3 C417.5 696.2 423.9 696.2 425.8 696.4" fill="none" stroke="#111" stroke-width="3.36"/>
<path d="M439.1 675.4 L425.8 697.6" fill="none" stroke="#111" stroke-width="1.68"/>
<path d="M442.4 676.5 L429.1 698.7" fill="none" stroke="#111" stroke-width="1.68"/>
<path d="M447.9 674.3 L452.3 682 L452.3 692" fill="none" stroke="#111" stroke-width="1.79"/>
<ellipse cx="398.2" cy="721.5" rx="15.2" ry="22" transform="rotate(35 398.2 721.5)" fill="#fff" stroke="#111" stroke-width="2.02"/>
<ellipse cx="401.4" cy="719.7" rx="15.2" ry="22" transform="rotate(35 401.4 719.7)" fill="#fff" stroke="#111" stroke-width="2.46"/>
<ellipse cx="401.9" cy="719.7" rx="9.5" ry="15.5" transform="rotate(35 401.9 719.7)" fill="none" stroke="#111" stroke-width="2.46"/>
<ellipse cx="403.4" cy="720.5" rx="8" ry="13.5" transform="rotate(35 403.4 720.5)" fill="none" stroke="#444" stroke-width="1.46"/>
<path d="M394.4 717.7 L409.4 722.7" fill="none" stroke="#333" stroke-width="1.23"/>
<ellipse cx="309.4" cy="450.6" rx="13.3" ry="20.5" transform="rotate(30 309.4 450.6)" fill="#fff" stroke="#111" stroke-width="2.46"/>
<ellipse cx="312.4" cy="448.8" rx="13.3" ry="20.5" transform="rotate(30 312.4 448.8)" fill="#fff" stroke="#111" stroke-width="2.91"/>
<path d="M308.6 436.1 L312 433.7 L315.4 432.4 L318.7 432.1 L321.5 433 L323.7 435 L325.1 438 L325.7 441.6 L325.3 445.8 L324.1 450.1 L322.1 454.4 L319.4 458.3 L316.2 461.5" fill="none" stroke="#1a1a1a" stroke-width="5.15" stroke-dasharray="3.2 1.6"/>
<ellipse cx="312.9" cy="449.3" rx="8" ry="15" transform="rotate(30 312.9 449.3)" fill="none" stroke="#111" stroke-width="2.69"/>
<path d="M304.4 445.8 L321.4 452.3" fill="none" stroke="#333" stroke-width="1.23"/>
<ellipse cx="319.9" cy="429.3" rx="2.8" ry="2.8" fill="#222" stroke="#111" stroke-width="2.24"/>
<ellipse cx="325.9" cy="434.8" rx="2.5" ry="2.5" fill="#222" stroke="#111" stroke-width="2.24"/>
<ellipse cx="581.4" cy="583.8" rx="13.3" ry="20.5" transform="rotate(30 581.4 583.8)" fill="#fff" stroke="#111" stroke-width="2.46"/>
<ellipse cx="584.4" cy="582" rx="13.3" ry="20.5" transform="rotate(30 584.4 582)" fill="#fff" stroke="#111" stroke-width="2.91"/>
<path d="M580.5 569.3 L584 566.9 L587.4 565.6 L590.7 565.3 L593.5 566.2 L595.7 568.2 L597.1 571.1 L597.7 574.8 L597.3 579 L596.1 583.3 L594.1 587.6 L591.4 591.5 L588.2 594.7" fill="none" stroke="#1a1a1a" stroke-width="5.15" stroke-dasharray="3.2 1.6"/>
<ellipse cx="584.9" cy="582.5" rx="8" ry="15" transform="rotate(30 584.9 582.5)" fill="none" stroke="#111" stroke-width="2.69"/>
<path d="M576.4 579 L593.4 585.5" fill="none" stroke="#333" stroke-width="1.23"/>
<ellipse cx="591.9" cy="562.5" rx="2.8" ry="2.8" fill="#222" stroke="#111" stroke-width="2.24"/>
<ellipse cx="597.9" cy="568" rx="2.5" ry="2.5" fill="#222" stroke="#111" stroke-width="2.24"/>
<ellipse cx="616.8" cy="597.1" rx="13.3" ry="20.5" transform="rotate(30 616.8 597.1)" fill="#fff" stroke="#111" stroke-width="2.46"/>
<ellipse cx="619.8" cy="595.3" rx="13.3" ry="20.5" transform="rotate(30 619.8 595.3)" fill="#fff" stroke="#111" stroke-width="2.91"/>
<path d="M615.9 582.6 L619.4 580.2 L622.8 578.9 L626.1 578.6 L628.9 579.5 L631.1 581.5 L632.5 584.4 L633.1 588.1 L632.7 592.3 L631.5 596.6 L629.5 600.9 L626.8 604.8 L623.6 608" fill="none" stroke="#1a1a1a" stroke-width="5.15" stroke-dasharray="3.2 1.6"/>
<ellipse cx="620.3" cy="595.8" rx="8" ry="15" transform="rotate(30 620.3 595.8)" fill="none" stroke="#111" stroke-width="2.69"/>
<path d="M611.8 592.3 L628.8 598.8" fill="none" stroke="#333" stroke-width="1.23"/>
<ellipse cx="627.3" cy="575.8" rx="2.8" ry="2.8" fill="#222" stroke="#111" stroke-width="2.24"/>
<ellipse cx="633.3" cy="581.3" rx="2.5" ry="2.5" fill="#222" stroke="#111" stroke-width="2.24"/>
<ellipse cx="337" cy="693" rx="13.3" ry="20.5" transform="rotate(30 337 693)" fill="#fff" stroke="#111" stroke-width="2.46"/>
<ellipse cx="340" cy="691.2" rx="13.3" ry="20.5" transform="rotate(30 340 691.2)" fill="#fff" stroke="#111" stroke-width="2.91"/>
<path d="M336.2 678.5 L339.6 676.1 L343 674.8 L346.3 674.5 L349.1 675.4 L351.3 677.4 L352.7 680.4 L353.3 684 L352.9 688.2 L351.7 692.5 L349.7 696.8 L347 700.7 L343.8 703.9" fill="none" stroke="#1a1a1a" stroke-width="5.15" stroke-dasharray="3.2 1.6"/>
<ellipse cx="340.5" cy="691.7" rx="8" ry="15" transform="rotate(30 340.5 691.7)" fill="none" stroke="#111" stroke-width="2.69"/>
<path d="M332 688.2 L349 694.7" fill="none" stroke="#333" stroke-width="1.23"/>
<ellipse cx="347.5" cy="671.7" rx="2.8" ry="2.8" fill="#222" stroke="#111" stroke-width="2.24"/>
<ellipse cx="353.5" cy="677.2" rx="2.5" ry="2.5" fill="#222" stroke="#111" stroke-width="2.24"/>
<ellipse cx="920.2" cy="743.1" rx="13.3" ry="20.5" transform="rotate(30 920.2 743.1)" fill="#fff" stroke="#111" stroke-width="2.46"/>
<ellipse cx="923.2" cy="741.3" rx="13.3" ry="20.5" transform="rotate(30 923.2 741.3)" fill="#fff" stroke="#111" stroke-width="2.91"/>
<path d="M919.4 728.6 L922.8 726.2 L926.2 724.9 L929.5 724.6 L932.3 725.5 L934.5 727.5 L935.9 730.4 L936.5 734.1 L936.1 738.3 L934.9 742.6 L932.9 746.9 L930.2 750.8 L927.1 754" fill="none" stroke="#1a1a1a" stroke-width="5.15" stroke-dasharray="3.2 1.6"/>
<ellipse cx="923.7" cy="741.8" rx="8" ry="15" transform="rotate(30 923.7 741.8)" fill="none" stroke="#111" stroke-width="2.69"/>
<path d="M915.2 738.3 L932.2 744.8" fill="none" stroke="#333" stroke-width="1.23"/>
<ellipse cx="930.7" cy="721.8" rx="2.8" ry="2.8" fill="#222" stroke="#111" stroke-width="2.24"/>
<ellipse cx="936.7" cy="727.3" rx="2.5" ry="2.5" fill="#222" stroke="#111" stroke-width="2.24"/>
<ellipse cx="960.3" cy="757.7" rx="13.3" ry="20.5" transform="rotate(30 960.3 757.7)" fill="#fff" stroke="#111" stroke-width="2.46"/>
<ellipse cx="963.3" cy="755.9" rx="13.3" ry="20.5" transform="rotate(30 963.3 755.9)" fill="#fff" stroke="#111" stroke-width="2.91"/>
<path d="M959.4 743.2 L962.9 740.8 L966.3 739.5 L969.6 739.2 L972.4 740.1 L974.6 742.1 L976 745 L976.6 748.7 L976.2 752.9 L975 757.2 L973 761.5 L970.3 765.4 L967.1 768.6" fill="none" stroke="#1a1a1a" stroke-width="5.15" stroke-dasharray="3.2 1.6"/>
<ellipse cx="963.8" cy="756.4" rx="8" ry="15" transform="rotate(30 963.8 756.4)" fill="none" stroke="#111" stroke-width="2.69"/>
<path d="M955.3 752.9 L972.3 759.4" fill="none" stroke="#333" stroke-width="1.23"/>
<ellipse cx="970.8" cy="736.4" rx="2.8" ry="2.8" fill="#222" stroke="#111" stroke-width="2.24"/>
<ellipse cx="976.8" cy="741.9" rx="2.5" ry="2.5" fill="#222" stroke="#111" stroke-width="2.24"/>
<path d="M330.5 357.6 L330.5 366.6 A13.5 6.5 0 0 0 357.5 366.6 L357.5 357.6" fill="#fff" stroke="#111" stroke-width="2.69"/>
<ellipse cx="344" cy="357.6" rx="13.5" ry="6.5" fill="#fff" stroke="#111" stroke-width="2.69"/>
<ellipse cx="344" cy="357.1" rx="6.5" ry="3" fill="#ddd" stroke="#111" stroke-width="2.69"/>
<path d="M338 356.6 L344 358.6 L350 356.6" fill="none" stroke="#111" stroke-width="1.79"/>
<path d="M338 363.6 L338 371.6" fill="none" stroke="#111" stroke-width="1.57"/>
<path d="M350.5 363.6 L350.5 371.6" fill="none" stroke="#111" stroke-width="1.57"/>
<path d="M331 358.6 L338 363.6 L350.5 363.6 L357 358.6" fill="none" stroke="#111" stroke-width="1.46"/>
<path d="M502.0 447.8 L502.0 456.8 A13.5 6.5 0 0 0 529.0 456.8 L529.0 447.8" fill="#fff" stroke="#111" stroke-width="2.69"/>
<ellipse cx="515.5" cy="447.8" rx="13.5" ry="6.5" fill="#fff" stroke="#111" stroke-width="2.69"/>
<ellipse cx="515.5" cy="447.3" rx="6.5" ry="3" fill="#ddd" stroke="#111" stroke-width="2.69"/>
<path d="M509.5 446.8 L515.5 448.8 L521.5 446.8" fill="none" stroke="#111" stroke-width="1.79"/>
<path d="M509.5 453.8 L509.5 461.8" fill="none" stroke="#111" stroke-width="1.57"/>
<path d="M522 453.8 L522 461.8" fill="none" stroke="#111" stroke-width="1.57"/>
<path d="M502.5 448.8 L509.5 453.8 L522 453.8 L528.5 448.8" fill="none" stroke="#111" stroke-width="1.46"/>
<path d="M645.9 503.2 L645.9 512.2 A13.5 6.5 0 0 0 672.9 512.2 L672.9 503.2" fill="#fff" stroke="#111" stroke-width="2.69"/>
<ellipse cx="659.4" cy="503.2" rx="13.5" ry="6.5" fill="#fff" stroke="#111" stroke-width="2.69"/>
<ellipse cx="659.4" cy="502.7" rx="6.5" ry="3" fill="#ddd" stroke="#111" stroke-width="2.69"/>
<path d="M653.4 502.2 L659.4 504.2 L665.4 502.2" fill="none" stroke="#111" stroke-width="1.79"/>
<path d="M653.4 509.2 L653.4 517.2" fill="none" stroke="#111" stroke-width="1.57"/>
<path d="M665.9 509.2 L665.9 517.2" fill="none" stroke="#111" stroke-width="1.57"/>
<path d="M646.4 504.2 L653.4 509.2 L665.9 509.2 L672.4 504.2" fill="none" stroke="#111" stroke-width="1.46"/>
<path d="M352.3 599.3 L352.3 608.3 A13.5 6.5 0 0 0 379.3 608.3 L379.3 599.3" fill="#fff" stroke="#111" stroke-width="2.69"/>
<ellipse cx="365.8" cy="599.3" rx="13.5" ry="6.5" fill="#fff" stroke="#111" stroke-width="2.69"/>
<ellipse cx="365.8" cy="598.8" rx="6.5" ry="3" fill="#ddd" stroke="#111" stroke-width="2.69"/>
<path d="M359.8 598.3 L365.8 600.3 L371.8 598.3" fill="none" stroke="#111" stroke-width="1.79"/>
<path d="M359.8 605.3 L359.8 613.3" fill="none" stroke="#111" stroke-width="1.57"/>
<path d="M372.3 605.3 L372.3 613.3" fill="none" stroke="#111" stroke-width="1.57"/>
<path d="M352.8 600.3 L359.8 605.3 L372.3 605.3 L378.8 600.3" fill="none" stroke="#111" stroke-width="1.46"/>
<path d="M836.3 607.9 L836.3 616.9 A13.5 6.5 0 0 0 863.3 616.9 L863.3 607.9" fill="#fff" stroke="#111" stroke-width="2.69"/>
<ellipse cx="849.8" cy="607.9" rx="13.5" ry="6.5" fill="#fff" stroke="#111" stroke-width="2.69"/>
<ellipse cx="849.8" cy="607.4" rx="6.5" ry="3" fill="#ddd" stroke="#111" stroke-width="2.69"/>
<path d="M843.8 606.9 L849.8 608.9 L855.8 606.9" fill="none" stroke="#111" stroke-width="1.79"/>
<path d="M843.8 613.9 L843.8 621.9" fill="none" stroke="#111" stroke-width="1.57"/>
<path d="M856.3 613.9 L856.3 621.9" fill="none" stroke="#111" stroke-width="1.57"/>
<path d="M836.8 608.9 L843.8 613.9 L856.3 613.9 L862.8 608.9" fill="none" stroke="#111" stroke-width="1.46"/>
<path d="M986.2 659.8 L986.2 668.8 A13.5 6.5 0 0 0 1013.2 668.8 L1013.2 659.8" fill="#fff" stroke="#111" stroke-width="2.69"/>
<ellipse cx="999.7" cy="659.8" rx="13.5" ry="6.5" fill="#fff" stroke="#111" stroke-width="2.69"/>
<ellipse cx="999.7" cy="659.3" rx="6.5" ry="3" fill="#ddd" stroke="#111" stroke-width="2.69"/>
<path d="M993.7 658.8 L999.7 660.8 L1005.7 658.8" fill="none" stroke="#111" stroke-width="1.79"/>
<path d="M993.7 665.8 L993.7 673.8" fill="none" stroke="#111" stroke-width="1.57"/>
<path d="M1006.2 665.8 L1006.2 673.8" fill="none" stroke="#111" stroke-width="1.57"/>
<path d="M986.7 660.8 L993.7 665.8 L1006.2 665.8 L1012.7 660.8" fill="none" stroke="#111" stroke-width="1.46"/>
<path d="M336.7 388.0 L335.7 394.0 L335.7 437.6 A7.5 7 0 0 0 350.7 437.6 L350.7 394.0 L349.7 388.0 Z" fill="#fff" stroke="#111" stroke-width="2.24"/>
<path d="M339.2 384.0 h8 v5 h-8 Z" fill="#222" stroke="#111" stroke-width="1.68"/>
<path d="M335.7 393.0 A7.5 3.6 0 0 0 350.7 393.0" fill="none" stroke="#111" stroke-width="4.7"/>
<path d="M335.7 391.5 A7.5 3.6 0 0 1 350.7 391.5" fill="none" stroke="#777" stroke-width="1.57"/>
<path d="M335.7 400.3 A7.5 3.6 0 0 0 350.7 400.3" fill="none" stroke="#111" stroke-width="4.7"/>
<path d="M335.7 398.8 A7.5 3.6 0 0 1 350.7 398.8" fill="none" stroke="#777" stroke-width="1.57"/>
<path d="M335.7 407.6 A7.5 3.6 0 0 0 350.7 407.6" fill="none" stroke="#111" stroke-width="4.7"/>
<path d="M335.7 406.1 A7.5 3.6 0 0 1 350.7 406.1" fill="none" stroke="#777" stroke-width="1.57"/>
<path d="M335.7 415.0 A7.5 3.6 0 0 0 350.7 415.0" fill="none" stroke="#111" stroke-width="4.7"/>
<path d="M335.7 413.5 A7.5 3.6 0 0 1 350.7 413.5" fill="none" stroke="#777" stroke-width="1.57"/>
<path d="M335.7 422.3 A7.5 3.6 0 0 0 350.7 422.3" fill="none" stroke="#111" stroke-width="4.7"/>
<path d="M335.7 420.8 A7.5 3.6 0 0 1 350.7 420.8" fill="none" stroke="#777" stroke-width="1.57"/>
<path d="M335.7 429.6 A7.5 3.6 0 0 0 350.7 429.6" fill="none" stroke="#111" stroke-width="4.7"/>
<path d="M335.7 428.1 A7.5 3.6 0 0 1 350.7 428.1" fill="none" stroke="#777" stroke-width="1.57"/>
<ellipse cx="343.2" cy="437.6" rx="5" ry="2.5" fill="none" stroke="#666" stroke-width="1.46"/>
<path d="M509.0 477.2 L508.0 483.2 L508.0 528.2 A7.5 7 0 0 0 523.0 528.2 L523.0 483.2 L522.0 477.2 Z" fill="#fff" stroke="#111" stroke-width="2.24"/>
<path d="M511.5 473.2 h8 v5 h-8 Z" fill="#222" stroke="#111" stroke-width="1.68"/>
<path d="M508.0 482.2 A7.5 3.6 0 0 0 523.0 482.2" fill="none" stroke="#111" stroke-width="4.7"/>
<path d="M508.0 480.7 A7.5 3.6 0 0 1 523.0 480.7" fill="none" stroke="#777" stroke-width="1.57"/>
<path d="M508.0 489.8 A7.5 3.6 0 0 0 523.0 489.8" fill="none" stroke="#111" stroke-width="4.7"/>
<path d="M508.0 488.3 A7.5 3.6 0 0 1 523.0 488.3" fill="none" stroke="#777" stroke-width="1.57"/>
<path d="M508.0 497.4 A7.5 3.6 0 0 0 523.0 497.4" fill="none" stroke="#111" stroke-width="4.7"/>
<path d="M508.0 495.9 A7.5 3.6 0 0 1 523.0 495.9" fill="none" stroke="#777" stroke-width="1.57"/>
<path d="M508.0 505.0 A7.5 3.6 0 0 0 523.0 505.0" fill="none" stroke="#111" stroke-width="4.7"/>
<path d="M508.0 503.5 A7.5 3.6 0 0 1 523.0 503.5" fill="none" stroke="#777" stroke-width="1.57"/>
<path d="M508.0 512.6 A7.5 3.6 0 0 0 523.0 512.6" fill="none" stroke="#111" stroke-width="4.7"/>
<path d="M508.0 511.1 A7.5 3.6 0 0 1 523.0 511.1" fill="none" stroke="#777" stroke-width="1.57"/>
<path d="M508.0 520.2 A7.5 3.6 0 0 0 523.0 520.2" fill="none" stroke="#111" stroke-width="4.7"/>
<path d="M508.0 518.7 A7.5 3.6 0 0 1 523.0 518.7" fill="none" stroke="#777" stroke-width="1.57"/>
<ellipse cx="515.5" cy="528.2" rx="5" ry="2.5" fill="none" stroke="#666" stroke-width="1.46"/>
<path d="M654.1 531.0 L653.1 537.0 L653.1 586.0 A7.5 7 0 0 0 668.1 586.0 L668.1 537.0 L667.1 531.0 Z" fill="#fff" stroke="#111" stroke-width="2.24"/>
<path d="M656.6 527.0 h8 v5 h-8 Z" fill="#222" stroke="#111" stroke-width="1.68"/>
<path d="M653.1 536.0 A7.5 3.6 0 0 0 668.1 536.0" fill="none" stroke="#111" stroke-width="4.7"/>
<path d="M653.1 534.5 A7.5 3.6 0 0 1 668.1 534.5" fill="none" stroke="#777" stroke-width="1.57"/>
<path d="M653.1 544.4 A7.5 3.6 0 0 0 668.1 544.4" fill="none" stroke="#111" stroke-width="4.7"/>
<path d="M653.1 542.9 A7.5 3.6 0 0 1 668.1 542.9" fill="none" stroke="#777" stroke-width="1.57"/>
<path d="M653.1 552.8 A7.5 3.6 0 0 0 668.1 552.8" fill="none" stroke="#111" stroke-width="4.7"/>
<path d="M653.1 551.3 A7.5 3.6 0 0 1 668.1 551.3" fill="none" stroke="#777" stroke-width="1.57"/>
<path d="M653.1 561.2 A7.5 3.6 0 0 0 668.1 561.2" fill="none" stroke="#111" stroke-width="4.7"/>
<path d="M653.1 559.7 A7.5 3.6 0 0 1 668.1 559.7" fill="none" stroke="#777" stroke-width="1.57"/>
<path d="M653.1 569.6 A7.5 3.6 0 0 0 668.1 569.6" fill="none" stroke="#111" stroke-width="4.7"/>
<path d="M653.1 568.1 A7.5 3.6 0 0 1 668.1 568.1" fill="none" stroke="#777" stroke-width="1.57"/>
<path d="M653.1 578.0 A7.5 3.6 0 0 0 668.1 578.0" fill="none" stroke="#111" stroke-width="4.7"/>
<path d="M653.1 576.5 A7.5 3.6 0 0 1 668.1 576.5" fill="none" stroke="#777" stroke-width="1.57"/>
<ellipse cx="660.6" cy="586" rx="5" ry="2.5" fill="none" stroke="#666" stroke-width="1.46"/>
<path d="M361.2 626.4 L360.2 632.4 L360.2 679.0 A7.5 7 0 0 0 375.2 679.0 L375.2 632.4 L374.2 626.4 Z" fill="#fff" stroke="#111" stroke-width="2.24"/>
<path d="M363.7 622.4 h8 v5 h-8 Z" fill="#222" stroke="#111" stroke-width="1.68"/>
<path d="M360.2 631.4 A7.5 3.6 0 0 0 375.2 631.4" fill="none" stroke="#111" stroke-width="4.7"/>
<path d="M360.2 629.9 A7.5 3.6 0 0 1 375.2 629.9" fill="none" stroke="#777" stroke-width="1.57"/>
<path d="M360.2 639.3 A7.5 3.6 0 0 0 375.2 639.3" fill="none" stroke="#111" stroke-width="4.7"/>
<path d="M360.2 637.8 A7.5 3.6 0 0 1 375.2 637.8" fill="none" stroke="#777" stroke-width="1.57"/>
<path d="M360.2 647.2 A7.5 3.6 0 0 0 375.2 647.2" fill="none" stroke="#111" stroke-width="4.7"/>
<path d="M360.2 645.7 A7.5 3.6 0 0 1 375.2 645.7" fill="none" stroke="#777" stroke-width="1.57"/>
<path d="M360.2 655.2 A7.5 3.6 0 0 0 375.2 655.2" fill="none" stroke="#111" stroke-width="4.7"/>
<path d="M360.2 653.7 A7.5 3.6 0 0 1 375.2 653.7" fill="none" stroke="#777" stroke-width="1.57"/>
<path d="M360.2 663.1 A7.5 3.6 0 0 0 375.2 663.1" fill="none" stroke="#111" stroke-width="4.7"/>
<path d="M360.2 661.6 A7.5 3.6 0 0 1 375.2 661.6" fill="none" stroke="#777" stroke-width="1.57"/>
<path d="M360.2 671.0 A7.5 3.6 0 0 0 375.2 671.0" fill="none" stroke="#111" stroke-width="4.7"/>
<path d="M360.2 669.5 A7.5 3.6 0 0 1 375.2 669.5" fill="none" stroke="#777" stroke-width="1.57"/>
<ellipse cx="367.7" cy="679" rx="5" ry="2.5" fill="none" stroke="#666" stroke-width="1.46"/>
<path d="M844.0 638.7 L843.0 644.7 L843.0 688.6 A7.5 7 0 0 0 858.0 688.6 L858.0 644.7 L857.0 638.7 Z" fill="#fff" stroke="#111" stroke-width="2.24"/>
<path d="M846.5 634.7 h8 v5 h-8 Z" fill="#222" stroke="#111" stroke-width="1.68"/>
<path d="M843.0 643.7 A7.5 3.6 0 0 0 858.0 643.7" fill="none" stroke="#111" stroke-width="4.7"/>
<path d="M843.0 642.2 A7.5 3.6 0 0 1 858.0 642.2" fill="none" stroke="#777" stroke-width="1.57"/>
<path d="M843.0 651.1 A7.5 3.6 0 0 0 858.0 651.1" fill="none" stroke="#111" stroke-width="4.7"/>
<path d="M843.0 649.6 A7.5 3.6 0 0 1 858.0 649.6" fill="none" stroke="#777" stroke-width="1.57"/>
<path d="M843.0 658.5 A7.5 3.6 0 0 0 858.0 658.5" fill="none" stroke="#111" stroke-width="4.7"/>
<path d="M843.0 657.0 A7.5 3.6 0 0 1 858.0 657.0" fill="none" stroke="#777" stroke-width="1.57"/>
<path d="M843.0 665.8 A7.5 3.6 0 0 0 858.0 665.8" fill="none" stroke="#111" stroke-width="4.7"/>
<path d="M843.0 664.3 A7.5 3.6 0 0 1 858.0 664.3" fill="none" stroke="#777" stroke-width="1.57"/>
<path d="M843.0 673.2 A7.5 3.6 0 0 0 858.0 673.2" fill="none" stroke="#111" stroke-width="4.7"/>
<path d="M843.0 671.7 A7.5 3.6 0 0 1 858.0 671.7" fill="none" stroke="#777" stroke-width="1.57"/>
<path d="M843.0 680.6 A7.5 3.6 0 0 0 858.0 680.6" fill="none" stroke="#111" stroke-width="4.7"/>
<path d="M843.0 679.1 A7.5 3.6 0 0 1 858.0 679.1" fill="none" stroke="#777" stroke-width="1.57"/>
<ellipse cx="850.5" cy="688.6" rx="5" ry="2.5" fill="none" stroke="#666" stroke-width="1.46"/>
<path d="M990.8 692.7 L989.8 698.7 L989.8 748.0 A7.5 7 0 0 0 1004.8 748.0 L1004.8 698.7 L1003.8 692.7 Z" fill="#fff" stroke="#111" stroke-width="2.24"/>
<path d="M993.3 688.7 h8 v5 h-8 Z" fill="#222" stroke="#111" stroke-width="1.68"/>
<path d="M989.8 697.7 A7.5 3.6 0 0 0 1004.8 697.7" fill="none" stroke="#111" stroke-width="4.7"/>
<path d="M989.8 696.2 A7.5 3.6 0 0 1 1004.8 696.2" fill="none" stroke="#777" stroke-width="1.57"/>
<path d="M989.8 706.2 A7.5 3.6 0 0 0 1004.8 706.2" fill="none" stroke="#111" stroke-width="4.7"/>
<path d="M989.8 704.7 A7.5 3.6 0 0 1 1004.8 704.7" fill="none" stroke="#777" stroke-width="1.57"/>
<path d="M989.8 714.6 A7.5 3.6 0 0 0 1004.8 714.6" fill="none" stroke="#111" stroke-width="4.7"/>
<path d="M989.8 713.1 A7.5 3.6 0 0 1 1004.8 713.1" fill="none" stroke="#777" stroke-width="1.57"/>
<path d="M989.8 723.1 A7.5 3.6 0 0 0 1004.8 723.1" fill="none" stroke="#111" stroke-width="4.7"/>
<path d="M989.8 721.6 A7.5 3.6 0 0 1 1004.8 721.6" fill="none" stroke="#777" stroke-width="1.57"/>
<path d="M989.8 731.5 A7.5 3.6 0 0 0 1004.8 731.5" fill="none" stroke="#111" stroke-width="4.7"/>
<path d="M989.8 730.0 A7.5 3.6 0 0 1 1004.8 730.0" fill="none" stroke="#777" stroke-width="1.57"/>
<path d="M989.8 740.0 A7.5 3.6 0 0 0 1004.8 740.0" fill="none" stroke="#111" stroke-width="4.7"/>
<path d="M989.8 738.5 A7.5 3.6 0 0 1 1004.8 738.5" fill="none" stroke="#777" stroke-width="1.57"/>
<ellipse cx="997.3" cy="748" rx="5" ry="2.5" fill="none" stroke="#666" stroke-width="1.46"/>
<path d="M414.4 382.8 Q414.4 379.8 417.4 379.8 L432.6 379.8 Q435.6 379.8 435.6 382.8 L435.6 395.3 Q425.0 398.8 414.4 395.3 Z" fill="#fff" stroke="#111" stroke-width="2.46"/>
<path d="M414.4 384.3 Q425.0 388.3 435.6 384.3" fill="none" stroke="#111" stroke-width="1.9"/>
<path d="M421 386.8 L421 396.3" fill="none" stroke="#111" stroke-width="1.34"/>
<path d="M430 386.8 L430 396.3" fill="none" stroke="#111" stroke-width="1.34"/>
<path d="M419.7 396.3 L419.7 456.0 Q425.0 460.0 430.3 456.0 L430.3 396.3" fill="#fff" stroke="#111" stroke-width="2.46"/>
<path d="M426 428 L430.5 431.2 L426 434.4 L430.5 437.6 L426 440.8 L430.5 444 L426 447.2 L430.5 450.4 L426 453.6" fill="none" stroke="#111" stroke-width="2.46"/>
<path d="M452.9 403.6 Q452.9 400.6 455.9 400.6 L471.1 400.6 Q474.1 400.6 474.1 403.6 L474.1 416.1 Q463.5 419.6 452.9 416.1 Z" fill="#fff" stroke="#111" stroke-width="2.46"/>
<path d="M452.9 405.1 Q463.5 409.1 474.1 405.1" fill="none" stroke="#111" stroke-width="1.9"/>
<path d="M459.5 407.6 L459.5 417.1" fill="none" stroke="#111" stroke-width="1.34"/>
<path d="M468.5 407.6 L468.5 417.1" fill="none" stroke="#111" stroke-width="1.34"/>
<path d="M458.2 417.1 L458.2 474.0 Q463.5 478.0 468.8 474.0 L468.8 417.1" fill="#fff" stroke="#111" stroke-width="2.46"/>
<path d="M464.5 446 L469 449.2 L464.5 452.4 L469 455.6 L464.5 458.8 L469 462 L464.5 465.2 L469 468.4 L464.5 471.6" fill="none" stroke="#111" stroke-width="2.46"/>
<path d="M291.7 519.7 Q291.7 516.7 294.7 516.7 L309.9 516.7 Q312.9 516.7 312.9 519.7 L312.9 532.2 Q302.3 535.7 291.7 532.2 Z" fill="#fff" stroke="#111" stroke-width="2.46"/>
<path d="M291.7 521.2 Q302.3 525.2 312.9 521.2" fill="none" stroke="#111" stroke-width="1.9"/>
<path d="M298.3 523.7 L298.3 533.2" fill="none" stroke="#111" stroke-width="1.34"/>
<path d="M307.3 523.7 L307.3 533.2" fill="none" stroke="#111" stroke-width="1.34"/>
<path d="M297.0 533.2 L297.0 609.4 Q302.3 613.4 307.6 609.4 L307.6 533.2" fill="#fff" stroke="#111" stroke-width="2.46"/>
<path d="M303.3 581.4 L307.8 584.6 L303.3 587.8 L307.8 591 L303.3 594.2 L307.8 597.4 L303.3 600.6 L307.8 603.8 L303.3 607" fill="none" stroke="#111" stroke-width="2.46"/>
<path d="M747.2 538.8 Q747.2 535.8 750.2 535.8 L765.4 535.8 Q768.4 535.8 768.4 538.8 L768.4 551.3 Q757.8 554.8 747.2 551.3 Z" fill="#fff" stroke="#111" stroke-width="2.46"/>
<path d="M747.2 540.3 Q757.8 544.3 768.4 540.3" fill="none" stroke="#111" stroke-width="1.9"/>
<path d="M753.8 542.8 L753.8 552.3" fill="none" stroke="#111" stroke-width="1.34"/>
<path d="M762.8 542.8 L762.8 552.3" fill="none" stroke="#111" stroke-width="1.34"/>
<path d="M752.5 552.3 L752.5 609.8 Q757.8 613.8 763.1 609.8 L763.1 552.3" fill="#fff" stroke="#111" stroke-width="2.46"/>
<path d="M758.8 581.8 L763.3 585 L758.8 588.2 L763.3 591.4 L758.8 594.6 L763.3 597.8 L758.8 601 L763.3 604.2 L758.8 607.4" fill="none" stroke="#111" stroke-width="2.46"/>
<path d="M785.8 558.8 Q785.8 555.8 788.8 555.8 L804.0 555.8 Q807.0 555.8 807.0 558.8 L807.0 571.3 Q796.4 574.8 785.8 571.3 Z" fill="#fff" stroke="#111" stroke-width="2.46"/>
<path d="M785.8 560.3 Q796.4 564.3 807.0 560.3" fill="none" stroke="#111" stroke-width="1.9"/>
<path d="M792.4 562.8 L792.4 572.3" fill="none" stroke="#111" stroke-width="1.34"/>
<path d="M801.4 562.8 L801.4 572.3" fill="none" stroke="#111" stroke-width="1.34"/>
<path d="M791.1 572.3 L791.1 629.8 Q796.4 633.8 801.7 629.8 L801.7 572.3" fill="#fff" stroke="#111" stroke-width="2.46"/>
<path d="M797.4 601.8 L801.9 605 L797.4 608.2 L801.9 611.4 L797.4 614.6 L801.9 617.8 L797.4 621 L801.9 624.2 L797.4 627.4" fill="none" stroke="#111" stroke-width="2.46"/>
<path d="M1121.6 662.7 Q1121.6 659.7 1124.6 659.7 L1139.8 659.7 Q1142.8 659.7 1142.8 662.7 L1142.8 675.2 Q1132.2 678.7 1121.6 675.2 Z" fill="#fff" stroke="#111" stroke-width="2.46"/>
<path d="M1121.6 664.2 Q1132.2 668.2 1142.8 664.2" fill="none" stroke="#111" stroke-width="1.9"/>
<path d="M1128.2 666.7 L1128.2 676.2" fill="none" stroke="#111" stroke-width="1.34"/>
<path d="M1137.2 666.7 L1137.2 676.2" fill="none" stroke="#111" stroke-width="1.34"/>
<path d="M1126.9 676.2 L1126.9 762.8 Q1132.2 766.8 1137.5 762.8 L1137.5 676.2" fill="#fff" stroke="#111" stroke-width="2.46"/>
<path d="M1133.2 734.8 L1137.7 738 L1133.2 741.2 L1137.7 744.4 L1133.2 747.6 L1137.7 750.8 L1133.2 754 L1137.7 757.2 L1133.2 760.4" fill="none" stroke="#111" stroke-width="2.46"/>
<ellipse cx="1061.5" cy="799" rx="8" ry="13" transform="rotate(20 1061.5 799)" fill="#fff" stroke="#111" stroke-width="2.69"/>
<ellipse cx="1065" cy="800.5" rx="8" ry="13" transform="rotate(20 1065 800.5)" fill="#fff" stroke="#111" stroke-width="2.69"/>
<path d="M1056.5 789 L1059.5 811" fill="none" stroke="#111" stroke-width="1.46"/>
<path d="M1058.7 789.8 L1061.7 811.6" fill="none" stroke="#111" stroke-width="1.46"/>
<path d="M1060.9 790.6 L1063.9 812.2" fill="none" stroke="#111" stroke-width="1.46"/>
<path d="M1063.1 791.4 L1066.1 812.8" fill="none" stroke="#111" stroke-width="1.46"/>
<path d="M1065.3 792.2 L1068.3 813.4" fill="none" stroke="#111" stroke-width="1.46"/>
<path d="M1064.9 816 L1068 803 L1074.8 789.5 L1088 786 L1109.7 787 L1119.7 779.5 L1138 779.5 L1144.6 784.5 L1144.6 836 L1109.7 855.9 L1088 860.9 L1071.5 867.5 L1069.9 871.6 L1064.9 871.6 L1064 822.7 Z" fill="#fff" stroke="#111" stroke-width="2.46"/>
<path d="M1069.9 822.7 L1069.9 870" fill="none" stroke="#111" stroke-width="2.02"/>
<path d="M1069.9 820 C1071.4 818.6 1075.8 812.8 1079.8 811 C1083.8 809.2 1091.9 807.9 1096.4 807.7 C1100.9 807.5 1107.7 809.1 1109.7 809.4" fill="none" stroke="#111" stroke-width="2.02"/>
<path d="M1109.7 809.4 L1109.7 855.9" fill="none" stroke="#111" stroke-width="2.24"/>
<path d="M1109.7 809.4 L1144.6 789.5" fill="none" stroke="#111" stroke-width="1.57"/>
<ellipse cx="1093" cy="792" rx="5" ry="2.8" fill="none" stroke="#111" stroke-width="1.68"/>
<ellipse cx="1113" cy="796" rx="5" ry="2.8" fill="none" stroke="#111" stroke-width="1.68"/>
<ellipse cx="1129.6" cy="784.5" rx="7" ry="3.8" fill="none" stroke="#111" stroke-width="2.24"/>
<ellipse cx="1129.6" cy="785" rx="4.5" ry="2.2" fill="none" stroke="#111" stroke-width="1.57"/>
<path d="M1144.6 823.5 L1158 823.5" fill="none" stroke="#111" stroke-width="1.68"/>
<path d="M1131.3 765 L1131.3 781" fill="none" stroke="#111" stroke-width="1.34"/>
<path d="M274 629 L278.2 624 L293.1 619 L308 618.2 L313 623.2 L313 669.7 L317.2 671.4 L317.2 679.7 L308 683 L308 696.3 L271.5 709.6 L261.6 704.6 L257.4 683 L256.6 656.4 L263.2 643.2 L273.2 638.2 Z" fill="#fff" stroke="#111" stroke-width="2.46"/>
<path d="M303 633 L303 669.7" fill="none" stroke="#111" stroke-width="2.02"/>
<path d="M310.5 623.5 L310.5 669.7" fill="none" stroke="#111" stroke-width="1.46"/>
<path d="M278 631 L303 633 L311 624" fill="none" stroke="#111" stroke-width="1.57"/>
<ellipse cx="301.4" cy="621.6" rx="6" ry="3" fill="none" stroke="#111" stroke-width="1.79"/>
<ellipse cx="294" cy="636.5" rx="3.6" ry="3.2" fill="none" stroke="#111" stroke-width="1.57"/>
<path d="M281 629.5 L288 630.5" fill="none" stroke="#111" stroke-width="1.57"/>
<ellipse cx="279.8" cy="663" rx="16" ry="18.5" fill="none" stroke="#777" stroke-width="1.46"/>
<ellipse cx="286" cy="667.5" rx="7" ry="10.5" transform="rotate(15 286 667.5)" fill="none" stroke="#111" stroke-width="3.36"/>
<path d="M287 657.5 L300 660.5 L302 681 L288 677.5 Z" fill="#fff" stroke="#fff" stroke-width="0.1"/>
<path d="M287 657.5 L299 660.5" fill="none" stroke="#111" stroke-width="2.02"/>
<path d="M288 677.8 L299 680.5" fill="none" stroke="#111" stroke-width="2.02"/>
<ellipse cx="298" cy="670" rx="8" ry="10.5" transform="rotate(12 298 670)" fill="#fff" stroke="#111" stroke-width="2.02"/>
<path d="M268.2 696.3 L306 682.5" fill="none" stroke="#888" stroke-width="1.34"/>
<path d="M261.6 704.6 L268.2 696.3" fill="none" stroke="#555" stroke-width="1.46"/>
<path d="M271.5 709.6 L271.5 733" fill="none" stroke="#111" stroke-width="1.68"/>
<path d="M302 613 L302 620" fill="none" stroke="#111" stroke-width="1.34"/>
<ellipse cx="992.5" cy="200.5" rx="35" ry="17" fill="#fff" stroke="#111" stroke-width="2.69"/>
<ellipse cx="992.5" cy="197.5" rx="35" ry="17" fill="#fff" stroke="#111" stroke-width="2.91"/>
<path d="M960 190 C960.2 187.6 961.2 184.3 963.6 181.8 C966 179.3 973.8 173.3 978 171 C982.2 168.7 990.9 165.4 994.8 164.3 C998.7 163.2 1003.8 162.4 1007 162.7 C1010.2 163 1016.9 165.2 1019 166.5 C1021.1 167.8 1022.5 170 1023 172.6 C1023.5 175.2 1024.5 183.3 1023 186 C1021.5 188.7 1016.4 191.3 1012 193 C1007.6 194.7 995.2 197.6 990 199 C984.8 200.4 976.7 203.4 973 203.5 C969.3 203.6 963.7 201.8 962 200 C960.3 198.2 959.8 192.4 960 190 Z" fill="#fff" stroke="#111" stroke-width="2.69"/>
<path d="M963.6 182.5 L981 186.5 L981 203" fill="none" stroke="#111" stroke-width="2.02"/>
<path d="M981 186.5 L1016 171" fill="none" stroke="#222" stroke-width="2.91" stroke-dasharray="2.5 2"/>
<path d="M1017 166.5 L1022.5 172" fill="none" stroke="#111" stroke-width="3.58"/>
<path d="M987 201.6 C987.5 200.8 988.4 197.6 990 196 C991.6 194.4 993 192.5 997.8 191 C1002.6 189.5 1018.4 187 1022 186.3" fill="none" stroke="#111" stroke-width="1.68"/>
<path d="M966 184 L968 196" fill="none" stroke="#111" stroke-width="1.34" stroke-dasharray="2 2"/>
<path d="M995.5 122.4 L995.5 163.5" fill="none" stroke="#333" stroke-width="1.46"/>
<path d="M991.7 216 L991.7 365" fill="none" stroke="#333" stroke-width="1.46"/>
<path d="M482 329.7 L486.2 306.8 L494.5 299.6 L507 300.6 L525.7 309 L532 317.2 L534 338 L521.5 347.3 Z" fill="none" stroke="#333" stroke-width="1.68" stroke-dasharray="6 1.8"/>
<path d="M494.5 299.6 L521.5 313 L524.6 327.6 L521.5 347" fill="none" stroke="#333" stroke-width="1.57" stroke-dasharray="6 1.8"/>
<path d="M500 300.5 C502.5 301.4 511 303.8 515 306 C519 308.2 522.5 312.7 524 314" fill="none" stroke="#444" stroke-width="1.34"/>
<path d="M503.5 300.9 C505.9 301.9 514.2 304.6 518 307 C521.8 309.4 525.1 314.1 526.5 315.5" fill="none" stroke="#444" stroke-width="1.34"/>
<path d="M507 301.3 C509.3 302.4 517.3 305.4 521 308 C524.7 310.6 527.7 315.5 529 317" fill="none" stroke="#444" stroke-width="1.34"/>
<ellipse cx="492.5" cy="313" rx="3.3" ry="4.5" fill="none" stroke="#333" stroke-width="1.57"/>
<ellipse cx="501.8" cy="316.2" rx="2.4" ry="2.6" fill="none" stroke="#333" stroke-width="1.46"/>
<ellipse cx="512.2" cy="320.3" rx="3.8" ry="5" fill="none" stroke="#333" stroke-width="1.57"/>
<ellipse cx="974.1" cy="818" rx="13" ry="5.5" transform="rotate(-3 974.1 818)" fill="none" stroke="#111" stroke-width="2.24"/>
<path d="M961.5 819.5 A13 5.5 0 0 0 978 823.3" fill="none" stroke="#111" stroke-width="3.81"/>
<path d="M927.4 804 L948 804 L963 816" fill="none" stroke="#111" stroke-width="1.46"/>
<path d="M966 824 L986 832" fill="none" stroke="#111" stroke-width="1.46"/>
<path d="M984 823 L967 831" fill="none" stroke="#111" stroke-width="1.46"/>
<ellipse cx="975" cy="834.5" rx="12.5" ry="5" transform="rotate(-3 975 834.5)" fill="none" stroke="#111" stroke-width="2.24"/>
<path d="M963 836 A12.5 5 0 0 0 980 839" fill="none" stroke="#111" stroke-width="3.36"/>
<path d="M951.7 830.2 L964.8 830.2" fill="none" stroke="#111" stroke-width="1.68"/>
<path d="M962.5 847.5 Q962.5 845 965 845 L974.5 845 Q977 845 977 847.5 L977 855.4 L962.5 855.4 Z" fill="#fff" stroke="#111" stroke-width="2.24"/>
<path d="M962 853 L962 861" fill="none" stroke="#111" stroke-width="3.58"/>
<path d="M940.5 856.4 L959 856.4" fill="none" stroke="#111" stroke-width="1.68"/>
<path d="M972.2 855.4 L972.2 873" fill="none" stroke="#111" stroke-width="1.79"/>
<path d="M978 861.5 C978.8 861.4 982.3 861.8 984 861 C985.7 860.2 989.6 855.7 991 855.4 C992.4 855.1 994.7 857.7 994.7 859 C994.7 860.3 993 863.8 991 864.8 C989 865.8 981.4 867.2 979.7 866.8 C978 866.4 978.2 862.2 978 861.5" fill="none" stroke="#111" stroke-width="2.69"/>
<ellipse cx="972.2" cy="877.9" rx="11.2" ry="4.6" fill="none" stroke="#111" stroke-width="2.46"/>
<ellipse cx="972.2" cy="877.9" rx="8" ry="2.6" fill="none" stroke="#111" stroke-width="1.46"/>
<path d="M983.5 880.7 L1002 880.7" fill="none" stroke="#111" stroke-width="1.68"/>
<ellipse cx="971.8" cy="888" rx="11.5" ry="3.6" fill="none" stroke="#222" stroke-width="1.46"/>
<ellipse cx="971.8" cy="892.7" rx="11.5" ry="3.6" fill="none" stroke="#222" stroke-width="1.46"/>
<ellipse cx="971.8" cy="897.4" rx="11.5" ry="3.6" fill="none" stroke="#222" stroke-width="1.46"/>
<ellipse cx="971.8" cy="902.1" rx="11.5" ry="3.6" fill="none" stroke="#222" stroke-width="1.46"/>
<ellipse cx="971.8" cy="906.9" rx="11.5" ry="3.6" fill="none" stroke="#222" stroke-width="1.46"/>
<ellipse cx="971.8" cy="911.6" rx="11.5" ry="3.6" fill="none" stroke="#222" stroke-width="1.46"/>
<ellipse cx="971.8" cy="916.3" rx="11.5" ry="3.6" fill="none" stroke="#222" stroke-width="1.46"/>
<ellipse cx="971.8" cy="921" rx="11.5" ry="3.6" fill="none" stroke="#222" stroke-width="1.46"/>
<ellipse cx="971.8" cy="925.7" rx="11.5" ry="3.6" fill="none" stroke="#222" stroke-width="1.46"/>
<ellipse cx="971.8" cy="930.4" rx="11.5" ry="3.6" fill="none" stroke="#222" stroke-width="1.46"/>
<ellipse cx="971.8" cy="935.1" rx="11.5" ry="3.6" fill="none" stroke="#222" stroke-width="1.46"/>
<ellipse cx="971.8" cy="939.9" rx="11.5" ry="3.6" fill="none" stroke="#222" stroke-width="1.46"/>
<ellipse cx="971.8" cy="944.6" rx="11.5" ry="3.6" fill="none" stroke="#222" stroke-width="1.46"/>
<ellipse cx="971.8" cy="949.3" rx="11.5" ry="3.6" fill="none" stroke="#222" stroke-width="1.46"/>
<ellipse cx="971.8" cy="954" rx="11.5" ry="3.6" fill="none" stroke="#222" stroke-width="1.46"/>
<path d="M960.3 888 L960.3 954" fill="none" stroke="#444" stroke-width="1.34"/>
<path d="M983.3 888 L983.3 954" fill="none" stroke="#444" stroke-width="1.34"/>
<path d="M971.8 896 L971.8 946" fill="none" stroke="#666" stroke-width="3.36" stroke-dasharray="6 5"/>
<path d="M983.5 925.5 L1002 925.5" fill="none" stroke="#111" stroke-width="1.68"/>
<ellipse cx="972.2" cy="962" rx="8" ry="3.5" fill="none" stroke="#111" stroke-width="2.02"/>
<path d="M981.6 962.9 L1002 962.9" fill="none" stroke="#111" stroke-width="1.68"/>
<path d="M972.2 957 L972.2 959" fill="none" stroke="#111" stroke-width="1.34"/>
<path d="M963.8 975 Q963.8 967.6 972.7 967.6 Q981.6 967.6 981.6 975 L981.6 1033 Q981.6 1040.5 972.7 1040.5 Q963.8 1040.5 963.8 1033 Z" fill="#fff" stroke="#111" stroke-width="3.58"/>
<path d="M964 1005 L981.6 1005" fill="none" stroke="#111" stroke-width="1.79"/>
<path d="M966 968.5 L979 968.5" fill="none" stroke="#111" stroke-width="3.92"/>
<path d="M981.6 995.6 L1002 995.6" fill="none" stroke="#111" stroke-width="1.68"/>
<path d="M972.7 1041 L972.7 1049" fill="none" stroke="#111" stroke-width="1.46"/>
<ellipse cx="977" cy="1050.5" rx="5.5" ry="3" fill="#111" stroke="#111" stroke-width="2.24"/>
<path d="M579.2 26.5 Q579.2 24.0 580.8 24.0 L592.8 24.0 Q594.4 24.0 594.4 26.5 L594.4 34.0 Q586.8 38.0 579.2 34.0 Z" fill="#fff" stroke="#111" stroke-width="2.46"/>
<path d="M579.2 28.0 Q586.8 31.5 594.4 28.0" fill="none" stroke="#111" stroke-width="1.79"/>
<path d="M582.7 36.0 L582.7 107.5 Q586.8 111.0 590.9 107.5 L590.9 36.0" fill="#fff" stroke="#111" stroke-width="2.46"/>
<path d="M587.3 92.5 L587.3 107.5" fill="none" stroke="#1a1a1a" stroke-width="4.7" stroke-dasharray="1.6 1.2"/>
<path d="M1056.4 183.5 Q1056.4 181.0 1058.0 181.0 L1070.0 181.0 Q1071.6 181.0 1071.6 183.5 L1071.6 191.0 Q1064.0 195.0 1056.4 191.0 Z" fill="#fff" stroke="#111" stroke-width="2.46"/>
<path d="M1056.4 185.0 Q1064.0 188.5 1071.6 185.0" fill="none" stroke="#111" stroke-width="1.79"/>
<path d="M1059.9 193.0 L1059.9 265.0 Q1064.0 268.5 1068.1 265.0 L1068.1 193.0" fill="#fff" stroke="#111" stroke-width="2.46"/>
<path d="M1064.5 250 L1064.5 265" fill="none" stroke="#1a1a1a" stroke-width="4.7" stroke-dasharray="1.6 1.2"/>
<path d="M586.8 110 L586.8 246" fill="none" stroke="#111" stroke-width="1.57"/>
<path d="M1063.5 267.5 L1063.5 430" fill="none" stroke="#111" stroke-width="1.46"/>
<path d="M592.2 60.5 L613 60.5" fill="none" stroke="#111" stroke-width="1.46"/>
<path d="M1068.6 207.6 L1087.6 207.6" fill="none" stroke="#111" stroke-width="1.46"/>
<path d="M1113 327 L1113 360" fill="none" stroke="#111" stroke-width="1.46"/>
<ellipse cx="482.8" cy="861.5" rx="10.5" ry="13.5" transform="rotate(15 482.8 861.5)" fill="#fff" stroke="#111" stroke-width="2.46"/>
<ellipse cx="480.6" cy="860.5" rx="10.5" ry="13.5" transform="rotate(15 480.6 860.5)" fill="#fff" stroke="#111" stroke-width="2.46"/>
<ellipse cx="920.2" cy="925.6" rx="10.5" ry="13.5" transform="rotate(15 920.2 925.6)" fill="#fff" stroke="#111" stroke-width="2.46"/>
<ellipse cx="918" cy="924.6" rx="10.5" ry="13.5" transform="rotate(15 918 924.6)" fill="#fff" stroke="#111" stroke-width="2.46"/>
<path d="M480.6 823 L480.6 845.5" fill="none" stroke="#111" stroke-width="1.46"/>
<path d="M493 865.5 L549 891.6" fill="none" stroke="#222" stroke-width="1.34" stroke-dasharray="7 2"/>
<path d="M893.7 918 L905.9 918" fill="none" stroke="#111" stroke-width="1.46"/>
<path d="M908.7 929.3 L745 990" fill="none" stroke="#222" stroke-width="1.34" stroke-dasharray="7 2"/>
<path d="M518 714 L518 701.5 L521 698.5 L532.5 698.5 L536.7 701.5 L536.7 714" fill="#fff" stroke="#111" stroke-width="2.46"/>
<path d="M523 701 L523 712" fill="none" stroke="#111" stroke-width="1.57"/>
<path d="M530.5 701 L530.5 712" fill="none" stroke="#111" stroke-width="1.57"/>
<path d="M526.7 700 L526.7 712" fill="none" stroke="#111" stroke-width="1.34"/>
<ellipse cx="526.7" cy="717.2" rx="16" ry="5.2" fill="#fff" stroke="#111" stroke-width="2.69"/>
<path d="M510.7 717.5 A16 5.2 0 0 0 542.7 717.5" fill="none" stroke="#111" stroke-width="3.36"/>
<path d="M520.5 722 L520.5 816 L534.2 816 L534.2 722" fill="#fff" stroke="#111" stroke-width="2.46"/>
<path d="M523.5 741 L531.5 741" fill="none" stroke="#111" stroke-width="1.68"/>
<path d="M523.5 744.1 L531.5 744.1" fill="none" stroke="#111" stroke-width="1.68"/>
<path d="M523.5 747.3 L531.5 747.3" fill="none" stroke="#111" stroke-width="1.68"/>
<path d="M523.5 750.5 L531.5 750.5" fill="none" stroke="#111" stroke-width="1.68"/>
<path d="M523.5 753.6 L531.5 753.6" fill="none" stroke="#111" stroke-width="1.68"/>
<path d="M523.5 756.8 L531.5 756.8" fill="none" stroke="#111" stroke-width="1.68"/>
<path d="M523.5 759.9 L531.5 759.9" fill="none" stroke="#111" stroke-width="1.68"/>
<path d="M523.5 763 L531.5 763" fill="none" stroke="#111" stroke-width="1.68"/>
<path d="M523.5 766.2 L531.5 766.2" fill="none" stroke="#111" stroke-width="1.68"/>
<path d="M523.5 769.4 L531.5 769.4" fill="none" stroke="#111" stroke-width="1.68"/>
<path d="M523.5 772.5 L531.5 772.5" fill="none" stroke="#111" stroke-width="1.68"/>
<path d="M523.5 775.6 L531.5 775.6" fill="none" stroke="#111" stroke-width="1.68"/>
<path d="M523.5 778.8 L531.5 778.8" fill="none" stroke="#111" stroke-width="1.68"/>
<path d="M523.5 782 L531.5 782" fill="none" stroke="#111" stroke-width="1.68"/>
<path d="M523.5 785.1 L531.5 785.1" fill="none" stroke="#111" stroke-width="1.68"/>
<path d="M523.5 788.2 L531.5 788.2" fill="none" stroke="#111" stroke-width="1.68"/>
<path d="M523.5 791.4 L531.5 791.4" fill="none" stroke="#111" stroke-width="1.68"/>
<path d="M523.5 794.5 L531.5 794.5" fill="none" stroke="#111" stroke-width="1.68"/>
<path d="M523.5 797.7 L531.5 797.7" fill="none" stroke="#111" stroke-width="1.68"/>
<path d="M523.5 800.9 L531.5 800.9" fill="none" stroke="#111" stroke-width="1.68"/>
<path d="M523.5 804 L531.5 804" fill="none" stroke="#111" stroke-width="1.68"/>
<path d="M523.5 807.1 L531.5 807.1" fill="none" stroke="#111" stroke-width="1.68"/>
<path d="M523.5 810.3 L531.5 810.3" fill="none" stroke="#111" stroke-width="1.68"/>
<path d="M523.5 813.5 L531.5 813.5" fill="none" stroke="#111" stroke-width="1.68"/>
<path d="M526.7 677.4 L526.7 697.3" fill="none" stroke="#111" stroke-width="1.68"/>
<path d="M526.5 817 L526.5 905" fill="none" stroke="#111" stroke-width="2.02"/>
<path d="M526.5 995 L526.5 1198" fill="none" stroke="#111" stroke-width="2.02"/>
<g transform="translate(325 803.2) rotate(30)">
<ellipse cx="0" cy="0" rx="6" ry="12.5" fill="#fff" stroke="#111" stroke-width="2.46"/>
<path d="M0 -12.5 L9 -12.5 Q12 -12.5 12 -9 L12 9 Q12 12.5 9 12.5 L0 12.5" fill="#fff" stroke="#111" stroke-width="2.46"/>
<ellipse cx="2" cy="0" rx="6" ry="12.5" fill="none" stroke="#111" stroke-width="1.79"/>
<path d="M12 -6 L88 -6 L88 6 L12 6 Z" fill="#fff" stroke="#111" stroke-width="2.46"/>
<path d="M88 -4.6 L108 -4.6 Q111 0 108 4.6 L88 4.6 Z" fill="#fff" stroke="#111" stroke-width="2.46"/>
<path d="M18 0 L40 0" fill="none" stroke="#333" stroke-width="5.6" stroke-dasharray="2 1.6"/>
<path d="M40 -6 L40 6" fill="none" stroke="#111" stroke-width="2.46"/>
</g>
<path d="M383.5 849.3 L372.2 864.2" fill="none" stroke="#111" stroke-width="1.46"/>
<path d="M424.6 859.2 L500 901" fill="none" stroke="#222" stroke-width="1.34" stroke-dasharray="7 2"/>
<ellipse cx="584.5" cy="789" rx="7" ry="11.5" transform="rotate(-15 584.5 789)" fill="#fff" stroke="#111" stroke-width="3.58"/>
<ellipse cx="590.5" cy="791.5" rx="7.5" ry="10.5" transform="rotate(-15 590.5 791.5)" fill="#777" stroke="#111" stroke-width="4.03"/>
<ellipse cx="597" cy="794.5" rx="5" ry="8" transform="rotate(-15 597 794.5)" fill="#ddd" stroke="#111" stroke-width="2.91"/>
<path d="M588 787 L596 798" fill="none" stroke="#111" stroke-width="2.46"/>
<path d="M587 797 L597 789" fill="none" stroke="#111" stroke-width="2.46"/>
<path d="M600 796 L609 800" fill="none" stroke="#111" stroke-width="2.24"/>
<ellipse cx="619" cy="803.2" rx="8.5" ry="11" transform="rotate(-25 619 803.2)" fill="#fff" stroke="#111" stroke-width="4.48"/>
<ellipse cx="619.5" cy="803.5" rx="4.2" ry="6.5" transform="rotate(-25 619.5 803.5)" fill="none" stroke="#111" stroke-width="3.14"/>
<path d="M612 797 L626 809" fill="none" stroke="#111" stroke-width="1.79"/>
<path d="M584 759.6 L584 779" fill="none" stroke="#555" stroke-width="1.34"/>
<path d="M623.9 775.8 L623.9 792" fill="none" stroke="#555" stroke-width="1.34"/>
<path d="M628 808 L646.3 817 L548.5 860 L572 874" fill="none" stroke="#222" stroke-width="1.46" stroke-dasharray="6 2.2"/>
<path d="M779 865 Q779 861.7 786.6 861.7 Q794.3 861.7 794.3 865 L794.3 871 Q794.3 874.5 786.6 874.5 Q779 874.5 779 871 Z" fill="#fff" stroke="#111" stroke-width="2.69"/>
<ellipse cx="786.6" cy="865.3" rx="7.6" ry="3.2" fill="#999" stroke="#111" stroke-width="2.91"/>
<path d="M765.3 869 L779 869" fill="none" stroke="#444" stroke-width="1.34"/>
<path d="M786.6 875 L786.6 990" fill="none" stroke="#222" stroke-width="1.46"/>
<path d="M575.4 1022.8 L575.4 1036" fill="none" stroke="#555" stroke-width="1.46"/>
<path d="M609.3 1033 L609.3 1058" fill="none" stroke="#111" stroke-width="1.68"/>
<path d="M558.8 1042.2 L558.8 1045.7 A16.6 8.5 0 0 0 592.0 1045.7 L592.0 1042.2" fill="#fff" stroke="#111" stroke-width="2.91"/>
<ellipse cx="575.4" cy="1042.2" rx="16.6" ry="8.5" fill="#fff" stroke="#111" stroke-width="3.14"/>
<ellipse cx="575.4" cy="1041.7" rx="11.6" ry="4.9" fill="none" stroke="#111" stroke-width="1.79"/>
<path d="M563.8 1041.2 L566.8 1044.7 L571.4 1043.2 L575.4 1046.2 L579.4 1043.2 L584 1044.7 L587 1041.2" fill="none" stroke="#111" stroke-width="2.91"/>
<path d="M591.0 1065.0 L591.0 1068.5 A18.3 9.5 0 0 0 627.6 1068.5 L627.6 1065.0" fill="#fff" stroke="#111" stroke-width="2.91"/>
<ellipse cx="609.3" cy="1065" rx="18.3" ry="9.5" fill="#fff" stroke="#111" stroke-width="3.14"/>
<ellipse cx="609.3" cy="1064.5" rx="13.3" ry="5.9" fill="none" stroke="#111" stroke-width="1.79"/>
<path d="M596 1064 L599 1067.5 L605.3 1066 L609.3 1069 L613.3 1066 L619.6 1067.5 L622.6 1064" fill="none" stroke="#111" stroke-width="2.91"/>
<path d="M561 1052.6 L556 1061" fill="none" stroke="#111" stroke-width="1.34" stroke-dasharray="3 2"/>
<path d="M627.3 1069.2 L638.4 1074.7" fill="none" stroke="#111" stroke-width="1.34" stroke-dasharray="3 2"/>
<path d="M575.4 1052 L575.4 1062" fill="none" stroke="#111" stroke-width="1.34"/>
<path d="M609.3 1077 L609.3 1086" fill="none" stroke="#111" stroke-width="1.34"/>
<path d="M570.2 1062.3 L570.2 1122.2" fill="none" stroke="#111" stroke-width="2.91"/>
<path d="M580.6 1062.3 L580.6 1122.2" fill="none" stroke="#111" stroke-width="2.91"/>
<path d="M570.2 1062.3 L580.6 1062.3" fill="none" stroke="#111" stroke-width="1.79"/>
<ellipse cx="575.4" cy="1129.4" rx="18" ry="9" fill="#fff" stroke="#111" stroke-width="2.69"/>
<path d="M570.2 1118.6 L580.6 1118.6 L580.6 1124.0 Q581.6 1127.4 585.3 1129.4 L565.5 1129.4 Q569.2 1127.4 570.2 1124.0 Z" fill="#fff" stroke="#fff" stroke-width="0.1"/>
<path d="M570.2 1118.6 L570.2 1124.0 Q569.2 1127.4 564.6 1129.9" fill="none" stroke="#111" stroke-width="2.91"/>
<path d="M580.6 1118.6 L580.6 1124.0 Q581.6 1127.4 586.2 1129.9" fill="none" stroke="#111" stroke-width="2.91"/>
<ellipse cx="575.4" cy="1130.9" rx="13.5" ry="5.5" fill="none" stroke="#555" stroke-width="1.46"/>
<ellipse cx="575.4" cy="1130.4" rx="2.2" ry="1.4" fill="#111" stroke="#111" stroke-width="1.12"/>
<path d="M604.5 1086.5 L604.5 1155.7" fill="none" stroke="#111" stroke-width="2.46"/>
<path d="M614.1 1086.5 L614.1 1155.7" fill="none" stroke="#111" stroke-width="2.46"/>
<path d="M604.5 1086.5 L614.1 1086.5" fill="none" stroke="#111" stroke-width="1.79"/>
<ellipse cx="609.3" cy="1164.8" rx="22" ry="11.4" fill="#fff" stroke="#111" stroke-width="2.69"/>
<path d="M604.5 1151.2 L614.1 1151.2 L614.1 1158.0 Q615.1 1162.8 621.4 1164.8 L597.2 1164.8 Q603.5 1162.8 604.5 1158.0 Z" fill="#fff" stroke="#fff" stroke-width="0.1"/>
<path d="M604.5 1151.2 L604.5 1158.0 Q603.5 1162.8 596.1 1165.3" fill="none" stroke="#111" stroke-width="2.46"/>
<path d="M614.1 1151.2 L614.1 1158.0 Q615.1 1162.8 622.5 1165.3" fill="none" stroke="#111" stroke-width="2.46"/>
<ellipse cx="609.3" cy="1166.3" rx="17.5" ry="7.9" fill="none" stroke="#555" stroke-width="1.46"/>
<ellipse cx="609.3" cy="1165.8" rx="2.2" ry="1.4" fill="#111" stroke="#111" stroke-width="1.12"/>
<path d="M614.2 1134.3 L638.4 1134.3" fill="none" stroke="#444" stroke-width="1.46"/>
<path d="M565 1140 L559.5 1147" fill="none" stroke="#999" stroke-width="1.23"/>
<path d="M715.1 1140.4 Q715.1 1137.4 721.6 1137.4 Q728.1 1137.4 728.1 1140.4 L728.1 1184.2 Q728.1 1187.2 721.6 1187.2 Q715.1 1187.2 715.1 1184.2 Z" fill="#fff" stroke="#111" stroke-width="3.14"/>
<path d="M719.1 1141.4 L719.1 1185.2" fill="none" stroke="#111" stroke-width="1.79"/>
<path d="M723.1 1141.4 L723.1 1185.2" fill="none" stroke="#555" stroke-width="1.34"/>
<ellipse cx="721.6" cy="1140.4" rx="5" ry="2" fill="none" stroke="#111" stroke-width="2.02"/>
<path d="M1033.5 1276.0 Q1033.5 1273.0 1040.0 1273.0 Q1046.5 1273.0 1046.5 1276.0 L1046.5 1319.8 Q1046.5 1322.8 1040.0 1322.8 Q1033.5 1322.8 1033.5 1319.8 Z" fill="#fff" stroke="#111" stroke-width="3.14"/>
<path d="M1037.5 1277 L1037.5 1320.8" fill="none" stroke="#111" stroke-width="1.79"/>
<path d="M1041.5 1277 L1041.5 1320.8" fill="none" stroke="#555" stroke-width="1.34"/>
<ellipse cx="1040" cy="1276" rx="5" ry="2" fill="none" stroke="#111" stroke-width="2.02"/>
<path d="M721.6 1187.5 L721.6 1210" fill="none" stroke="#111" stroke-width="1.46"/>
<path d="M1040 1323 L1040 1344" fill="none" stroke="#111" stroke-width="1.46"/>
<path d="M728.5 1165 L753.4 1165" fill="none" stroke="#111" stroke-width="1.57"/>
<path d="M1047.8 1295.2 L1068.5 1295.2" fill="none" stroke="#111" stroke-width="1.57"/>
<path d="M1134 1132.2 L1139 1128 L1139 1117.2 L1143.2 1115.2 L1154.8 1118.9 L1155.3 1113.9 L1161.5 1111.4 L1162.3 1107.3 L1168.1 1106.4 L1176.4 1109.8 L1189.7 1115.6 L1191 1127.2 L1196.4 1131.4 L1193 1134.7 L1179.8 1138 L1168.1 1146.3 L1159.8 1145.5 Z" fill="#fff" stroke="#111" stroke-width="2.69"/>
<path d="M1164.8 1126.4 L1164.8 1143" fill="none" stroke="#111" stroke-width="2.69"/>
<path d="M1143.2 1115.2 L1164.8 1126.4 L1168.1 1123 L1167.3 1118 L1176.4 1116.4" fill="none" stroke="#111" stroke-width="2.24"/>
<path d="M1155.3 1114 L1167.3 1118" fill="none" stroke="#111" stroke-width="2.02"/>
<path d="M1161.5 1111.4 L1170 1114 L1176.4 1110" fill="none" stroke="#111" stroke-width="1.79"/>
<path d="M1168.1 1123 L1179 1130 L1179 1137" fill="none" stroke="#111" stroke-width="2.02"/>
<path d="M1176.4 1110 L1178 1130" fill="none" stroke="#111" stroke-width="1.57"/>
<path d="M1178 1116 L1189.7 1117" fill="none" stroke="#111" stroke-width="1.79"/>
<path d="M1136 1133.5 L1160 1144" fill="none" stroke="#222" stroke-width="3.36" stroke-dasharray="2.4 2"/>
<path d="M1169 1144.5 L1192 1134" fill="none" stroke="#222" stroke-width="3.36" stroke-dasharray="2.4 2"/>
<path d="M1146 1120 L1160 1126.5" fill="none" stroke="#666" stroke-width="1.46" stroke-dasharray="2 2"/>
<path d="M1176.9 1073.2 L1176.9 1109" fill="none" stroke="#111" stroke-width="1.46"/>
<text x="631" y="64" font-size="23" fill="#999" text-anchor="middle">16</text>
<text x="997" y="106.6" font-size="23" fill="#111" text-anchor="middle">15</text>
<text x="1107.6" y="212.8" font-size="23" fill="#999" text-anchor="middle">16</text>
<text x="1113.5" y="321.5" font-size="23" fill="#111" text-anchor="middle">30</text>
<text x="448" y="320" font-size="23" fill="#111" text-anchor="middle" stroke="#111" stroke-width="0.7">34</text>
<text x="386.4" y="367.3" font-size="23" fill="#111" text-anchor="middle">28</text>
<text x="467.3" y="372.2" font-size="23" fill="#999" text-anchor="middle">26</text>
<text x="308.5" y="402" font-size="23" fill="#111" text-anchor="middle">29</text>
<text x="383" y="407" font-size="23" fill="#999" text-anchor="middle">27</text>
<text x="560" y="459.7" font-size="23" fill="#111" text-anchor="middle">28</text>
<text x="554" y="503.3" font-size="23" fill="#999" text-anchor="middle">27</text>
<text x="598.3" y="494.7" font-size="23" fill="#999" text-anchor="middle">25</text>
<text x="356" y="529" font-size="23" fill="#111" text-anchor="middle">23</text>
<text x="710.5" y="519.7" font-size="23" fill="#111" text-anchor="middle">28</text>
<text x="627.6" y="545.8" font-size="23" fill="#111" text-anchor="middle">29</text>
<text x="711" y="557" font-size="23" fill="#999" text-anchor="middle">27</text>
<text x="845" y="578.5" font-size="23" fill="#999" text-anchor="middle">26</text>
<text x="1121.6" y="535.8" font-size="23" fill="#111" text-anchor="middle">31</text>
<text x="260.5" y="580.3" font-size="23" fill="#111" text-anchor="middle">26</text>
<text x="414.4" y="611.4" font-size="23" fill="#111" text-anchor="middle">28</text>
<text x="415" y="652.5" font-size="23" fill="#999" text-anchor="middle">27</text>
<text x="905" y="614" font-size="23" fill="#111" text-anchor="middle">28</text>
<text x="883" y="663.8" font-size="23" fill="#999" text-anchor="middle">27</text>
<text x="933.5" y="658.3" font-size="23" fill="#999" text-anchor="middle">25</text>
<text x="688" y="691.5" font-size="23" fill="#111" text-anchor="middle">23</text>
<text x="526.7" y="665.4" font-size="23" fill="#111" text-anchor="middle">19</text>
<text x="1045.6" y="668" font-size="23" fill="#111" text-anchor="middle">28</text>
<text x="1179" y="679" font-size="23" fill="#999" text-anchor="middle">26</text>
<text x="1046.4" y="706.7" font-size="23" fill="#999" text-anchor="middle">27</text>
<text x="963.3" y="705.3" font-size="23" fill="#111" text-anchor="middle">29</text>
<text x="1088.6" y="717.8" font-size="23" fill="#999" text-anchor="middle">25</text>
<text x="270.7" y="761.5" font-size="23" fill="#111" text-anchor="middle">24</text>
<text x="334.8" y="744.8" font-size="23" fill="#111" text-anchor="middle">29</text>
<text x="399" y="779.4" font-size="23" fill="#999" text-anchor="middle">25</text>
<text x="584" y="753.8" font-size="23" fill="#111" text-anchor="middle" stroke="#111" stroke-width="0.7">21</text>
<text x="623" y="766.3" font-size="23" fill="#999" text-anchor="middle">20</text>
<text x="481.5" y="813" font-size="23" fill="#111" text-anchor="middle">2</text>
<text x="357" y="888" font-size="23" fill="#111" text-anchor="middle">18</text>
<text x="911.4" y="813.3" font-size="23" fill="#111" text-anchor="middle">12</text>
<text x="931.5" y="836.8" font-size="23" fill="#111" text-anchor="middle">11</text>
<text x="922.5" y="863" font-size="23" fill="#111" text-anchor="middle">10</text>
<text x="1013" y="886.6" font-size="23" fill="#111" text-anchor="middle">9</text>
<text x="1014" y="932.4" font-size="23" fill="#111" text-anchor="middle">8</text>
<text x="1014.5" y="968.5" font-size="23" fill="#111" text-anchor="middle">7</text>
<text x="1015" y="1000.3" font-size="23" fill="#111" text-anchor="middle">6</text>
<text x="752.8" y="878" font-size="23" fill="#111" text-anchor="middle">5</text>
<text x="881.7" y="925.4" font-size="23" fill="#111" text-anchor="middle">2</text>
<text x="1179" y="831.3" font-size="23" fill="#111" text-anchor="middle">22</text>
<text x="1103" y="1019" font-size="22" fill="#111" text-anchor="middle" font-weight="bold">1</text>
<text x="1178.5" y="1066" font-size="23" fill="#111" text-anchor="middle">17</text>
<text x="548.7" y="1081.7" font-size="23" fill="#111" text-anchor="middle" font-weight="bold">4</text>
<text x="654" y="1087" font-size="23" fill="#111" text-anchor="middle">3</text>
<text x="545" y="1163" font-size="23" fill="#999" text-anchor="middle">14</text>
<text x="656" y="1141" font-size="23" fill="#999" text-anchor="middle">13</text>
<text x="774" y="1170" font-size="23" fill="#111" text-anchor="middle">33</text>
<text x="863.5" y="1230.5" font-size="23" fill="#111" text-anchor="middle">32</text>
<text x="1092" y="1304.8" font-size="23" fill="#111" text-anchor="middle">33</text>
<text x="1145.3" y="1415.6" font-size="20.5" fill="#111" text-anchor="middle">25746</text>
<ellipse cx="1103" cy="1011" rx="18" ry="18" fill="none" stroke="#111" stroke-width="2.24"/>
</g></svg>
</body></html>
